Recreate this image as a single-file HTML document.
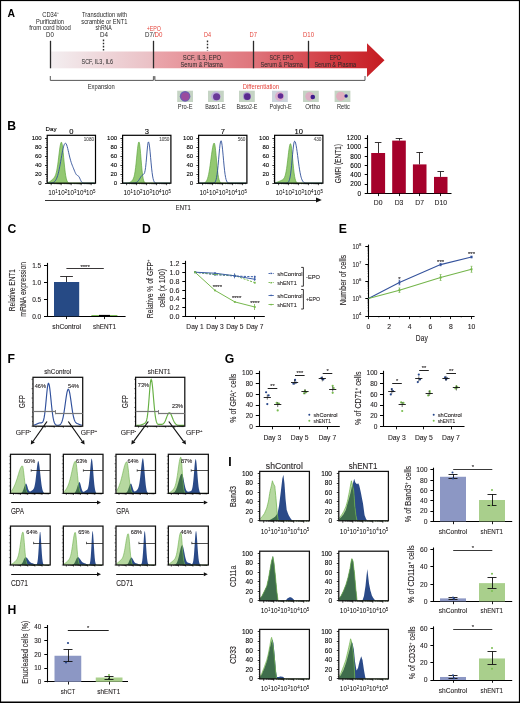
<!DOCTYPE html>
<html><head><meta charset="utf-8"><style>
html,body{margin:0;padding:0;background:#fff;}
svg{display:block;will-change:transform;}
text{font-family:"Liberation Sans", sans-serif;}
</style></head><body>
<svg width="520" height="703" viewBox="0 0 520 703">
<rect x="0" y="0" width="520" height="703" fill="#fff"/>
<text x="11.30" y="16.74" font-size="10.4" text-anchor="middle" fill="#000" font-weight="bold" >A</text>
<text transform="translate(50.60 16.81) scale(0.8799 1)" font-size="6.6" text-anchor="middle" fill="#262626" >CD34<tspan font-size="3.8" dy="-2.4">+</tspan></text>
<text transform="translate(50.00 23.51) scale(0.8577 1)" font-size="6.6" text-anchor="middle" fill="#262626" >Purification</text>
<text transform="translate(50.10 30.31) scale(0.9116 1)" font-size="6.6" text-anchor="middle" fill="#262626" >from cord blood</text>
<text transform="translate(49.90 37.01) scale(0.9245 1)" font-size="6.6" text-anchor="middle" fill="#262626" >D0</text>
<text transform="translate(104.50 16.81) scale(0.8742 1)" font-size="6.6" text-anchor="middle" fill="#262626" >Transduction with</text>
<text transform="translate(104.35 23.51) scale(0.8707 1)" font-size="6.6" text-anchor="middle" fill="#262626" >scramble or ENT1</text>
<text transform="translate(103.60 30.31) scale(0.7773 1)" font-size="6.6" text-anchor="middle" fill="#262626" >shRNA</text>
<text transform="translate(104.00 37.01) scale(0.9482 1)" font-size="6.6" text-anchor="middle" fill="#262626" >D4</text>
<text transform="translate(153.85 30.91) scale(0.8037 1)" font-size="6.6" text-anchor="middle" fill="#e4443b" >+EPO</text>
<text transform="translate(153.75 37.01) scale(0.9355 1)" font-size="6.6" text-anchor="middle" fill="#262626" >D7/<tspan fill="#e4443b">D0</tspan></text>
<text transform="translate(207.50 37.01) scale(0.8297 1)" font-size="6.6" text-anchor="middle" fill="#e4443b" >D4</text>
<text transform="translate(253.30 37.01) scale(0.8771 1)" font-size="6.6" text-anchor="middle" fill="#e4443b" >D7</text>
<text transform="translate(308.50 37.01) scale(0.9086 1)" font-size="6.6" text-anchor="middle" fill="#e4443b" >D10</text>
<defs>
<linearGradient id="g1" x1="0" x2="1" y1="0" y2="0">
<stop offset="0" stop-color="#f3eef0"/><stop offset="1" stop-color="#eabfc4"/></linearGradient>
<linearGradient id="g2" x1="154" x2="385" y1="0" y2="0" gradientUnits="userSpaceOnUse">
<stop offset="0" stop-color="#eaa6ac"/><stop offset="0.42" stop-color="#df767d"/><stop offset="0.66" stop-color="#d64c53"/><stop offset="0.92" stop-color="#c9262c"/><stop offset="1" stop-color="#c41a20"/></linearGradient>
</defs>
<rect x="51.00" y="51.50" width="103.00" height="16.80" fill="url(#g1)" />
<path d="M154,51.5 L367,51.5 L367,43.3 L384.5,60.2 L367,77 L367,68.3 L154,68.3 Z" fill="url(#g2)" stroke="none" stroke-width="1" />
<line x1="50.50" y1="40.80" x2="50.50" y2="68.30" stroke="#2b2b2b" stroke-width="1.3" />
<line x1="153.50" y1="40.80" x2="153.50" y2="68.30" stroke="#2b2b2b" stroke-width="1.3" />
<line x1="253.50" y1="40.80" x2="253.50" y2="68.30" stroke="#2b2b2b" stroke-width="1.3" />
<line x1="308.50" y1="40.80" x2="308.50" y2="68.30" stroke="#2b2b2b" stroke-width="1.3" />
<line x1="103.50" y1="39.60" x2="103.50" y2="50.50" stroke="#2b2b2b" stroke-width="1.4" stroke-dasharray="1.6 1.5"/>
<line x1="207.50" y1="40.60" x2="207.50" y2="50.50" stroke="#2b2b2b" stroke-width="1.4" stroke-dasharray="1.6 1.5"/>
<text transform="translate(97.25 63.74) scale(0.8515 1)" font-size="6.4" text-anchor="middle" fill="#262626" >SCF, IL3, IL6</text>
<text transform="translate(202.00 59.94) scale(0.9251 1)" font-size="6.4" text-anchor="middle" fill="#262626" >SCF, IL3, EPO</text>
<text transform="translate(201.70 66.64) scale(0.8852 1)" font-size="6.4" text-anchor="middle" fill="#262626" >Serum &amp; Plasma</text>
<text transform="translate(281.60 59.94) scale(0.8264 1)" font-size="6.4" text-anchor="middle" fill="#262626" >SCF, EPO</text>
<text transform="translate(281.60 66.64) scale(0.8852 1)" font-size="6.4" text-anchor="middle" fill="#262626" >Serum &amp; Plasma</text>
<text transform="translate(335.40 59.94) scale(0.8286 1)" font-size="6.4" text-anchor="middle" fill="#262626" >EPO</text>
<text transform="translate(335.30 66.64) scale(0.8706 1)" font-size="6.4" text-anchor="middle" fill="#262626" >Serum &amp; Plasma</text>
<path d="M50.3,76 L50.3,80.4 L153.4,80.4 L153.4,76.2" fill="none" stroke="#444" stroke-width="0.9" />
<path d="M154.9,76.2 L154.9,80.4 L365,80.4 L365,76" fill="none" stroke="#444" stroke-width="0.9" />
<rect x="153.40" y="76.20" width="1.50" height="2.60" fill="#777" />
<text transform="translate(101.25 88.54) scale(0.9068 1)" font-size="6.4" text-anchor="middle" fill="#262626" >Expansion</text>
<text transform="translate(260.85 88.54) scale(0.9220 1)" font-size="6.4" text-anchor="middle" fill="#e4443b" >Differentiation</text>
<rect x="177.20" y="90.70" width="15.80" height="11.30" fill="#c5d4c4" />
<circle cx="185.1" cy="96.35" r="5.3" fill="#6b5fb2"/><circle cx="185.29999999999998" cy="96.55" r="4.0" fill="#9a4c9e"/>
<text transform="translate(185.15 109.41) scale(0.8714 1)" font-size="6.6" text-anchor="middle" fill="#262626" >Pro-E</text>
<rect x="208.00" y="90.70" width="15.80" height="11.30" fill="#c5d4c4" />
<circle cx="215.9" cy="96.35" r="4.8" fill="#c0b2dc"/><circle cx="216.6" cy="96.75" r="3.6" fill="#6a3a98"/>
<text transform="translate(215.40 109.41) scale(0.8138 1)" font-size="6.6" text-anchor="middle" fill="#262626" >Baso1-E</text>
<rect x="239.00" y="90.70" width="15.80" height="11.30" fill="#c5d4c4" />
<circle cx="246.9" cy="96.35" r="4.0" fill="#a898cc"/><circle cx="247.3" cy="96.64999999999999" r="3.3" fill="#5a2a8e"/>
<text transform="translate(247.00 109.41) scale(0.8217 1)" font-size="6.6" text-anchor="middle" fill="#262626" >Baso2-E</text>
<rect x="272.00" y="90.70" width="15.80" height="11.30" fill="#ccd4dc" />
<circle cx="279.59999999999997" cy="96.35" r="4.6" fill="#dcb0cc"/><circle cx="280.5" cy="95.94999999999999" r="2.8" fill="#5f2c94"/>
<text transform="translate(280.65 109.41) scale(0.8368 1)" font-size="6.6" text-anchor="middle" fill="#262626" >Polych-E</text>
<rect x="303.00" y="90.70" width="15.80" height="11.30" fill="#c5d4c4" />
<circle cx="309.7" cy="96.35" r="4.4" fill="#dcafc4"/><circle cx="312.79999999999995" cy="96.94999999999999" r="2.3" fill="#3f1d8c"/>
<text transform="translate(312.70 109.41) scale(0.9088 1)" font-size="6.6" text-anchor="middle" fill="#262626" >Ortho</text>
<rect x="334.60" y="90.70" width="15.80" height="11.30" fill="#c5d4c4" />
<circle cx="340.7" cy="96.35" r="4.6" fill="#e0aebe"/><circle cx="346.1" cy="96.05" r="1.7" fill="#2a1a86"/>
<text transform="translate(343.35 109.41) scale(0.8579 1)" font-size="6.6" text-anchor="middle" fill="#262626" >Retic</text>
<text x="11.65" y="130.17" font-size="12.2" text-anchor="middle" fill="#000" font-weight="bold" >B</text>
<text x="51.00" y="130.67" font-size="6.2" text-anchor="middle" fill="#000" stroke="#000" stroke-width="0.1" >Day</text>
<path d="M47.70,183.20 L47.70,182.57 L48.20,182.39 L48.70,182.17 L49.20,181.92 L49.70,181.63 L50.20,181.30 L50.70,180.94 L51.20,180.54 L51.70,180.12 L52.20,179.68 L52.70,179.21 L53.20,178.72 L53.70,178.17 L54.20,177.54 L54.70,176.78 L55.20,175.82 L55.70,174.56 L56.20,172.92 L56.70,170.79 L57.20,168.11 L57.70,164.88 L58.20,161.17 L58.70,157.11 L59.20,152.98 L59.70,149.08 L60.20,145.77 L60.70,143.41 L61.20,142.26 L61.70,142.51 L62.20,144.46 L62.70,147.94 L63.20,152.55 L63.70,157.75 L64.20,163.02 L64.70,167.92 L65.20,172.16 L65.70,175.58 L66.20,178.17 L66.70,180.03 L67.20,181.29 L67.70,182.10 L68.20,182.59 L68.70,182.88 L69.20,183.03 L69.70,183.12 L70.20,183.16 L70.70,183.18 L71.20,183.19 L71.70,183.20 L72.20,183.20 L72.70,183.20 L73.20,183.20 L73.70,183.20 L74.20,183.20 L74.70,183.20 L75.20,183.20 L75.70,183.20 L76.20,183.20 L76.70,183.20 L77.20,183.20 L77.70,183.20 L78.20,183.20 L78.70,183.20 L79.20,183.20 L79.70,183.20 L80.20,183.20 L80.70,183.20 L81.20,183.20 L81.70,183.20 L82.20,183.20 L82.70,183.20 L83.20,183.20 L83.70,183.20 L84.20,183.20 L84.70,183.20 L85.20,183.20 L85.70,183.20 L86.20,183.20 L86.70,183.20 L87.20,183.20 L87.70,183.20 L88.20,183.20 L88.70,183.20 L89.20,183.20 L89.70,183.20 L90.20,183.20 L90.70,183.20 L91.20,183.20 L91.70,183.20 L92.20,183.20 L92.70,183.20 L93.20,183.20 L93.70,183.20 L94.20,183.20 L94.70,183.20 L94.70,183.20 Z" fill="#93c872" stroke="#5ea63e" stroke-width="0.7" />
<path d="M47.70,183.19 L48.20,183.19 L48.70,183.18 L49.20,183.17 L49.70,183.16 L50.20,183.14 L50.70,183.11 L51.20,183.06 L51.70,182.99 L52.20,182.89 L52.70,182.76 L53.20,182.57 L53.70,182.32 L54.20,181.99 L54.70,181.55 L55.20,180.99 L55.70,180.28 L56.20,179.40 L56.70,178.31 L57.20,177.01 L57.70,175.46 L58.20,173.67 L58.70,171.63 L59.20,169.35 L59.70,166.85 L60.20,164.17 L60.70,161.36 L61.20,158.50 L61.70,155.65 L62.20,152.90 L62.70,150.34 L63.20,148.07 L63.70,146.16 L64.20,144.68 L64.70,143.69 L65.20,143.22 L65.70,143.28 L66.20,143.90 L66.70,145.03 L67.20,146.57 L67.70,148.44 L68.20,150.53 L68.70,152.72 L69.20,154.91 L69.70,157.02 L70.20,158.99 L70.70,160.78 L71.20,162.39 L71.70,163.83 L72.20,165.16 L72.70,166.42 L73.20,167.64 L73.70,168.86 L74.20,170.10 L74.70,171.34 L75.20,172.51 L75.70,173.55 L76.20,174.39 L76.70,174.97 L77.20,175.33 L77.70,175.57 L78.20,175.85 L78.70,176.33 L79.20,177.09 L79.70,178.11 L80.20,179.26 L80.70,180.38 L81.20,181.35 L81.70,182.08 L82.20,182.57 L82.70,182.87 L83.20,183.04 L83.70,183.13 L84.20,183.17 L84.70,183.19 L85.20,183.19 L85.70,183.20 L86.20,183.20 L86.70,183.20 L87.20,183.20 L87.70,183.20 L88.20,183.20 L88.70,183.20 L89.20,183.20 L89.70,183.20 L90.20,183.20 L90.70,183.20 L91.20,183.20 L91.70,183.20 L92.20,183.20 L92.70,183.20 L93.20,183.20 L93.70,183.20 L94.20,183.20 L94.70,183.20" fill="none" stroke="#2f4f98" stroke-width="0.9" />
<rect x="47.20" y="135.30" width="48.30" height="47.90" fill="none" stroke="#000" stroke-width="1.2"/>
<line x1="45.00" y1="183.50" x2="47.20" y2="183.50" stroke="#000" stroke-width="0.8" />
<text x="41.70" y="185.30" font-size="6.0" text-anchor="end" fill="#000" stroke="#000" stroke-width="0.1" >0</text>
<line x1="46.00" y1="180.94" x2="47.20" y2="180.94" stroke="#000" stroke-width="0.5" />
<line x1="46.00" y1="178.68" x2="47.20" y2="178.68" stroke="#000" stroke-width="0.5" />
<line x1="46.00" y1="176.42" x2="47.20" y2="176.42" stroke="#000" stroke-width="0.5" />
<line x1="45.00" y1="174.50" x2="47.20" y2="174.50" stroke="#000" stroke-width="0.8" />
<text x="41.70" y="176.26" font-size="6.0" text-anchor="end" fill="#000" stroke="#000" stroke-width="0.1" >20</text>
<line x1="46.00" y1="171.90" x2="47.20" y2="171.90" stroke="#000" stroke-width="0.5" />
<line x1="46.00" y1="169.64" x2="47.20" y2="169.64" stroke="#000" stroke-width="0.5" />
<line x1="46.00" y1="167.38" x2="47.20" y2="167.38" stroke="#000" stroke-width="0.5" />
<line x1="45.00" y1="165.50" x2="47.20" y2="165.50" stroke="#000" stroke-width="0.8" />
<text x="41.70" y="167.22" font-size="6.0" text-anchor="end" fill="#000" stroke="#000" stroke-width="0.1" >40</text>
<line x1="46.00" y1="162.86" x2="47.20" y2="162.86" stroke="#000" stroke-width="0.5" />
<line x1="46.00" y1="160.60" x2="47.20" y2="160.60" stroke="#000" stroke-width="0.5" />
<line x1="46.00" y1="158.34" x2="47.20" y2="158.34" stroke="#000" stroke-width="0.5" />
<line x1="45.00" y1="156.50" x2="47.20" y2="156.50" stroke="#000" stroke-width="0.8" />
<text x="41.70" y="158.18" font-size="6.0" text-anchor="end" fill="#000" stroke="#000" stroke-width="0.1" >60</text>
<line x1="46.00" y1="153.82" x2="47.20" y2="153.82" stroke="#000" stroke-width="0.5" />
<line x1="46.00" y1="151.56" x2="47.20" y2="151.56" stroke="#000" stroke-width="0.5" />
<line x1="46.00" y1="149.30" x2="47.20" y2="149.30" stroke="#000" stroke-width="0.5" />
<line x1="45.00" y1="147.50" x2="47.20" y2="147.50" stroke="#000" stroke-width="0.8" />
<text x="41.70" y="149.14" font-size="6.0" text-anchor="end" fill="#000" stroke="#000" stroke-width="0.1" >80</text>
<line x1="46.00" y1="144.78" x2="47.20" y2="144.78" stroke="#000" stroke-width="0.5" />
<line x1="46.00" y1="142.52" x2="47.20" y2="142.52" stroke="#000" stroke-width="0.5" />
<line x1="46.00" y1="140.26" x2="47.20" y2="140.26" stroke="#000" stroke-width="0.5" />
<line x1="45.00" y1="138.50" x2="47.20" y2="138.50" stroke="#000" stroke-width="0.8" />
<text x="41.70" y="140.10" font-size="6.0" text-anchor="end" fill="#000" stroke="#000" stroke-width="0.1" >100</text>
<line x1="51.20" y1="183.20" x2="51.20" y2="185.20" stroke="#000" stroke-width="0.7" />
<line x1="54.21" y1="183.20" x2="54.21" y2="184.30" stroke="#000" stroke-width="0.45" />
<line x1="55.97" y1="183.20" x2="55.97" y2="184.30" stroke="#000" stroke-width="0.45" />
<line x1="57.22" y1="183.20" x2="57.22" y2="184.30" stroke="#000" stroke-width="0.45" />
<line x1="58.19" y1="183.20" x2="58.19" y2="184.30" stroke="#000" stroke-width="0.45" />
<line x1="58.98" y1="183.20" x2="58.98" y2="184.30" stroke="#000" stroke-width="0.45" />
<line x1="59.65" y1="183.20" x2="59.65" y2="184.30" stroke="#000" stroke-width="0.45" />
<line x1="60.23" y1="183.20" x2="60.23" y2="184.30" stroke="#000" stroke-width="0.45" />
<line x1="60.74" y1="183.20" x2="60.74" y2="184.30" stroke="#000" stroke-width="0.45" />
<line x1="61.20" y1="183.20" x2="61.20" y2="185.20" stroke="#000" stroke-width="0.7" />
<line x1="64.21" y1="183.20" x2="64.21" y2="184.30" stroke="#000" stroke-width="0.45" />
<line x1="65.97" y1="183.20" x2="65.97" y2="184.30" stroke="#000" stroke-width="0.45" />
<line x1="67.22" y1="183.20" x2="67.22" y2="184.30" stroke="#000" stroke-width="0.45" />
<line x1="68.19" y1="183.20" x2="68.19" y2="184.30" stroke="#000" stroke-width="0.45" />
<line x1="68.98" y1="183.20" x2="68.98" y2="184.30" stroke="#000" stroke-width="0.45" />
<line x1="69.65" y1="183.20" x2="69.65" y2="184.30" stroke="#000" stroke-width="0.45" />
<line x1="70.23" y1="183.20" x2="70.23" y2="184.30" stroke="#000" stroke-width="0.45" />
<line x1="70.74" y1="183.20" x2="70.74" y2="184.30" stroke="#000" stroke-width="0.45" />
<line x1="71.20" y1="183.20" x2="71.20" y2="185.20" stroke="#000" stroke-width="0.7" />
<line x1="74.21" y1="183.20" x2="74.21" y2="184.30" stroke="#000" stroke-width="0.45" />
<line x1="75.97" y1="183.20" x2="75.97" y2="184.30" stroke="#000" stroke-width="0.45" />
<line x1="77.22" y1="183.20" x2="77.22" y2="184.30" stroke="#000" stroke-width="0.45" />
<line x1="78.19" y1="183.20" x2="78.19" y2="184.30" stroke="#000" stroke-width="0.45" />
<line x1="78.98" y1="183.20" x2="78.98" y2="184.30" stroke="#000" stroke-width="0.45" />
<line x1="79.65" y1="183.20" x2="79.65" y2="184.30" stroke="#000" stroke-width="0.45" />
<line x1="80.23" y1="183.20" x2="80.23" y2="184.30" stroke="#000" stroke-width="0.45" />
<line x1="80.74" y1="183.20" x2="80.74" y2="184.30" stroke="#000" stroke-width="0.45" />
<line x1="81.20" y1="183.20" x2="81.20" y2="185.20" stroke="#000" stroke-width="0.7" />
<line x1="84.21" y1="183.20" x2="84.21" y2="184.30" stroke="#000" stroke-width="0.45" />
<line x1="85.97" y1="183.20" x2="85.97" y2="184.30" stroke="#000" stroke-width="0.45" />
<line x1="87.22" y1="183.20" x2="87.22" y2="184.30" stroke="#000" stroke-width="0.45" />
<line x1="88.19" y1="183.20" x2="88.19" y2="184.30" stroke="#000" stroke-width="0.45" />
<line x1="88.98" y1="183.20" x2="88.98" y2="184.30" stroke="#000" stroke-width="0.45" />
<line x1="89.65" y1="183.20" x2="89.65" y2="184.30" stroke="#000" stroke-width="0.45" />
<line x1="90.23" y1="183.20" x2="90.23" y2="184.30" stroke="#000" stroke-width="0.45" />
<line x1="90.74" y1="183.20" x2="90.74" y2="184.30" stroke="#000" stroke-width="0.45" />
<line x1="91.20" y1="183.20" x2="91.20" y2="185.20" stroke="#000" stroke-width="0.7" />
<line x1="94.21" y1="183.20" x2="94.21" y2="184.30" stroke="#000" stroke-width="0.45" />
<text x="48.20" y="195.38" font-size="6.8" fill="#000" textLength="7.00" lengthAdjust="spacingAndGlyphs">10</text>
<text x="55.20" y="192.50" font-size="4.49" fill="#000">1</text>
<text x="57.66" y="195.38" font-size="6.8" fill="#000" textLength="7.00" lengthAdjust="spacingAndGlyphs">10</text>
<text x="64.66" y="192.50" font-size="4.49" fill="#000">2</text>
<text x="67.12" y="195.38" font-size="6.8" fill="#000" textLength="7.00" lengthAdjust="spacingAndGlyphs">10</text>
<text x="74.12" y="192.50" font-size="4.49" fill="#000">3</text>
<text x="76.58" y="195.38" font-size="6.8" fill="#000" textLength="7.00" lengthAdjust="spacingAndGlyphs">10</text>
<text x="83.58" y="192.50" font-size="4.49" fill="#000">4</text>
<text x="86.04" y="195.38" font-size="6.8" fill="#000" textLength="7.00" lengthAdjust="spacingAndGlyphs">10</text>
<text x="93.04" y="192.50" font-size="4.49" fill="#000">5</text>
<text x="94.00" y="141.21" font-size="4.6" text-anchor="end" fill="#555" stroke="#555" stroke-width="0.1" >1080</text>
<text x="71.35" y="133.66" font-size="7.6" text-anchor="middle" fill="#000" stroke="#000" stroke-width="0.1" >0</text>
<path d="M123.10,183.20 L123.10,183.20 L123.60,183.20 L124.10,183.20 L124.60,183.19 L125.10,183.18 L125.60,183.17 L126.10,183.16 L126.60,183.13 L127.10,183.09 L127.60,183.03 L128.10,182.94 L128.60,182.83 L129.10,182.68 L129.60,182.48 L130.10,182.24 L130.60,181.94 L131.10,181.58 L131.60,181.16 L132.10,180.64 L132.60,180.00 L133.10,179.15 L133.60,178.00 L134.10,176.41 L134.60,174.23 L135.10,171.32 L135.60,167.61 L136.10,163.13 L136.60,158.13 L137.10,152.98 L137.60,148.23 L138.10,144.50 L138.60,142.32 L139.10,142.05 L139.60,144.06 L140.10,148.15 L140.60,153.68 L141.10,159.82 L141.60,165.79 L142.10,171.01 L142.60,175.18 L143.10,178.24 L143.60,180.32 L144.10,181.62 L144.60,182.39 L145.10,182.81 L145.60,183.02 L146.10,183.12 L146.60,183.17 L147.10,183.19 L147.60,183.20 L148.10,183.20 L148.60,183.20 L149.10,183.20 L149.60,183.20 L150.10,183.20 L150.60,183.20 L151.10,183.20 L151.60,183.20 L152.10,183.20 L152.60,183.20 L153.10,183.20 L153.60,183.20 L154.10,183.20 L154.60,183.20 L155.10,183.20 L155.60,183.20 L156.10,183.20 L156.60,183.20 L157.10,183.20 L157.60,183.20 L158.10,183.20 L158.60,183.20 L159.10,183.20 L159.60,183.20 L160.10,183.20 L160.60,183.20 L161.10,183.20 L161.60,183.20 L162.10,183.20 L162.60,183.20 L163.10,183.20 L163.60,183.20 L164.10,183.20 L164.60,183.20 L165.10,183.20 L165.60,183.20 L166.10,183.20 L166.60,183.20 L167.10,183.20 L167.60,183.20 L168.10,183.20 L168.60,183.20 L169.10,183.20 L169.60,183.20 L170.10,183.20 L170.10,183.20 Z" fill="#93c872" stroke="#5ea63e" stroke-width="0.7" />
<path d="M123.10,183.20 L123.60,183.20 L124.10,183.20 L124.60,183.20 L125.10,183.20 L125.60,183.20 L126.10,183.20 L126.60,183.20 L127.10,183.20 L127.60,183.20 L128.10,183.20 L128.60,183.20 L129.10,183.20 L129.60,183.20 L130.10,183.20 L130.60,183.20 L131.10,183.20 L131.60,183.19 L132.10,183.19 L132.60,183.18 L133.10,183.16 L133.60,183.14 L134.10,183.10 L134.60,183.04 L135.10,182.95 L135.60,182.81 L136.10,182.62 L136.60,182.36 L137.10,182.02 L137.60,181.59 L138.10,181.06 L138.60,180.42 L139.10,179.71 L139.60,178.92 L140.10,178.10 L140.60,177.29 L141.10,176.53 L141.60,175.88 L142.10,175.35 L142.60,174.95 L143.10,174.62 L143.60,174.29 L144.10,173.76 L144.60,172.68 L145.10,170.65 L145.60,167.35 L146.10,162.70 L146.60,157.01 L147.10,151.02 L147.60,145.80 L148.10,142.50 L148.60,141.90 L149.10,143.59 L149.60,147.05 L150.10,151.83 L150.60,157.33 L151.10,162.92 L151.60,168.10 L152.10,172.52 L152.60,176.03 L153.10,178.63 L153.60,180.43 L154.10,181.61 L154.60,182.33 L155.10,182.75 L155.60,182.98 L156.10,183.10 L156.60,183.15 L157.10,183.18 L157.60,183.19 L158.10,183.20 L158.60,183.20 L159.10,183.20 L159.60,183.20 L160.10,183.20 L160.60,183.20 L161.10,183.20 L161.60,183.20 L162.10,183.20 L162.60,183.20 L163.10,183.20 L163.60,183.20 L164.10,183.20 L164.60,183.20 L165.10,183.20 L165.60,183.20 L166.10,183.20 L166.60,183.20 L167.10,183.20 L167.60,183.20 L168.10,183.20 L168.60,183.20 L169.10,183.20 L169.60,183.20 L170.10,183.20" fill="none" stroke="#2f4f98" stroke-width="0.9" />
<rect x="122.60" y="135.30" width="48.30" height="47.90" fill="none" stroke="#000" stroke-width="1.2"/>
<line x1="120.40" y1="183.50" x2="122.60" y2="183.50" stroke="#000" stroke-width="0.8" />
<text x="117.10" y="185.30" font-size="6.0" text-anchor="end" fill="#000" stroke="#000" stroke-width="0.1" >0</text>
<line x1="121.40" y1="180.94" x2="122.60" y2="180.94" stroke="#000" stroke-width="0.5" />
<line x1="121.40" y1="178.68" x2="122.60" y2="178.68" stroke="#000" stroke-width="0.5" />
<line x1="121.40" y1="176.42" x2="122.60" y2="176.42" stroke="#000" stroke-width="0.5" />
<line x1="120.40" y1="174.50" x2="122.60" y2="174.50" stroke="#000" stroke-width="0.8" />
<text x="117.10" y="176.26" font-size="6.0" text-anchor="end" fill="#000" stroke="#000" stroke-width="0.1" >20</text>
<line x1="121.40" y1="171.90" x2="122.60" y2="171.90" stroke="#000" stroke-width="0.5" />
<line x1="121.40" y1="169.64" x2="122.60" y2="169.64" stroke="#000" stroke-width="0.5" />
<line x1="121.40" y1="167.38" x2="122.60" y2="167.38" stroke="#000" stroke-width="0.5" />
<line x1="120.40" y1="165.50" x2="122.60" y2="165.50" stroke="#000" stroke-width="0.8" />
<text x="117.10" y="167.22" font-size="6.0" text-anchor="end" fill="#000" stroke="#000" stroke-width="0.1" >40</text>
<line x1="121.40" y1="162.86" x2="122.60" y2="162.86" stroke="#000" stroke-width="0.5" />
<line x1="121.40" y1="160.60" x2="122.60" y2="160.60" stroke="#000" stroke-width="0.5" />
<line x1="121.40" y1="158.34" x2="122.60" y2="158.34" stroke="#000" stroke-width="0.5" />
<line x1="120.40" y1="156.50" x2="122.60" y2="156.50" stroke="#000" stroke-width="0.8" />
<text x="117.10" y="158.18" font-size="6.0" text-anchor="end" fill="#000" stroke="#000" stroke-width="0.1" >60</text>
<line x1="121.40" y1="153.82" x2="122.60" y2="153.82" stroke="#000" stroke-width="0.5" />
<line x1="121.40" y1="151.56" x2="122.60" y2="151.56" stroke="#000" stroke-width="0.5" />
<line x1="121.40" y1="149.30" x2="122.60" y2="149.30" stroke="#000" stroke-width="0.5" />
<line x1="120.40" y1="147.50" x2="122.60" y2="147.50" stroke="#000" stroke-width="0.8" />
<text x="117.10" y="149.14" font-size="6.0" text-anchor="end" fill="#000" stroke="#000" stroke-width="0.1" >80</text>
<line x1="121.40" y1="144.78" x2="122.60" y2="144.78" stroke="#000" stroke-width="0.5" />
<line x1="121.40" y1="142.52" x2="122.60" y2="142.52" stroke="#000" stroke-width="0.5" />
<line x1="121.40" y1="140.26" x2="122.60" y2="140.26" stroke="#000" stroke-width="0.5" />
<line x1="120.40" y1="138.50" x2="122.60" y2="138.50" stroke="#000" stroke-width="0.8" />
<text x="117.10" y="140.10" font-size="6.0" text-anchor="end" fill="#000" stroke="#000" stroke-width="0.1" >100</text>
<line x1="126.60" y1="183.20" x2="126.60" y2="185.20" stroke="#000" stroke-width="0.7" />
<line x1="129.61" y1="183.20" x2="129.61" y2="184.30" stroke="#000" stroke-width="0.45" />
<line x1="131.37" y1="183.20" x2="131.37" y2="184.30" stroke="#000" stroke-width="0.45" />
<line x1="132.62" y1="183.20" x2="132.62" y2="184.30" stroke="#000" stroke-width="0.45" />
<line x1="133.59" y1="183.20" x2="133.59" y2="184.30" stroke="#000" stroke-width="0.45" />
<line x1="134.38" y1="183.20" x2="134.38" y2="184.30" stroke="#000" stroke-width="0.45" />
<line x1="135.05" y1="183.20" x2="135.05" y2="184.30" stroke="#000" stroke-width="0.45" />
<line x1="135.63" y1="183.20" x2="135.63" y2="184.30" stroke="#000" stroke-width="0.45" />
<line x1="136.14" y1="183.20" x2="136.14" y2="184.30" stroke="#000" stroke-width="0.45" />
<line x1="136.60" y1="183.20" x2="136.60" y2="185.20" stroke="#000" stroke-width="0.7" />
<line x1="139.61" y1="183.20" x2="139.61" y2="184.30" stroke="#000" stroke-width="0.45" />
<line x1="141.37" y1="183.20" x2="141.37" y2="184.30" stroke="#000" stroke-width="0.45" />
<line x1="142.62" y1="183.20" x2="142.62" y2="184.30" stroke="#000" stroke-width="0.45" />
<line x1="143.59" y1="183.20" x2="143.59" y2="184.30" stroke="#000" stroke-width="0.45" />
<line x1="144.38" y1="183.20" x2="144.38" y2="184.30" stroke="#000" stroke-width="0.45" />
<line x1="145.05" y1="183.20" x2="145.05" y2="184.30" stroke="#000" stroke-width="0.45" />
<line x1="145.63" y1="183.20" x2="145.63" y2="184.30" stroke="#000" stroke-width="0.45" />
<line x1="146.14" y1="183.20" x2="146.14" y2="184.30" stroke="#000" stroke-width="0.45" />
<line x1="146.60" y1="183.20" x2="146.60" y2="185.20" stroke="#000" stroke-width="0.7" />
<line x1="149.61" y1="183.20" x2="149.61" y2="184.30" stroke="#000" stroke-width="0.45" />
<line x1="151.37" y1="183.20" x2="151.37" y2="184.30" stroke="#000" stroke-width="0.45" />
<line x1="152.62" y1="183.20" x2="152.62" y2="184.30" stroke="#000" stroke-width="0.45" />
<line x1="153.59" y1="183.20" x2="153.59" y2="184.30" stroke="#000" stroke-width="0.45" />
<line x1="154.38" y1="183.20" x2="154.38" y2="184.30" stroke="#000" stroke-width="0.45" />
<line x1="155.05" y1="183.20" x2="155.05" y2="184.30" stroke="#000" stroke-width="0.45" />
<line x1="155.63" y1="183.20" x2="155.63" y2="184.30" stroke="#000" stroke-width="0.45" />
<line x1="156.14" y1="183.20" x2="156.14" y2="184.30" stroke="#000" stroke-width="0.45" />
<line x1="156.60" y1="183.20" x2="156.60" y2="185.20" stroke="#000" stroke-width="0.7" />
<line x1="159.61" y1="183.20" x2="159.61" y2="184.30" stroke="#000" stroke-width="0.45" />
<line x1="161.37" y1="183.20" x2="161.37" y2="184.30" stroke="#000" stroke-width="0.45" />
<line x1="162.62" y1="183.20" x2="162.62" y2="184.30" stroke="#000" stroke-width="0.45" />
<line x1="163.59" y1="183.20" x2="163.59" y2="184.30" stroke="#000" stroke-width="0.45" />
<line x1="164.38" y1="183.20" x2="164.38" y2="184.30" stroke="#000" stroke-width="0.45" />
<line x1="165.05" y1="183.20" x2="165.05" y2="184.30" stroke="#000" stroke-width="0.45" />
<line x1="165.63" y1="183.20" x2="165.63" y2="184.30" stroke="#000" stroke-width="0.45" />
<line x1="166.14" y1="183.20" x2="166.14" y2="184.30" stroke="#000" stroke-width="0.45" />
<line x1="166.60" y1="183.20" x2="166.60" y2="185.20" stroke="#000" stroke-width="0.7" />
<line x1="169.61" y1="183.20" x2="169.61" y2="184.30" stroke="#000" stroke-width="0.45" />
<text x="123.60" y="195.38" font-size="6.8" fill="#000" textLength="7.00" lengthAdjust="spacingAndGlyphs">10</text>
<text x="130.60" y="192.50" font-size="4.49" fill="#000">1</text>
<text x="133.06" y="195.38" font-size="6.8" fill="#000" textLength="7.00" lengthAdjust="spacingAndGlyphs">10</text>
<text x="140.06" y="192.50" font-size="4.49" fill="#000">2</text>
<text x="142.52" y="195.38" font-size="6.8" fill="#000" textLength="7.00" lengthAdjust="spacingAndGlyphs">10</text>
<text x="149.52" y="192.50" font-size="4.49" fill="#000">3</text>
<text x="151.98" y="195.38" font-size="6.8" fill="#000" textLength="7.00" lengthAdjust="spacingAndGlyphs">10</text>
<text x="158.98" y="192.50" font-size="4.49" fill="#000">4</text>
<text x="161.44" y="195.38" font-size="6.8" fill="#000" textLength="7.00" lengthAdjust="spacingAndGlyphs">10</text>
<text x="168.44" y="192.50" font-size="4.49" fill="#000">5</text>
<text x="169.40" y="141.21" font-size="4.6" text-anchor="end" fill="#555" stroke="#555" stroke-width="0.1" >1050</text>
<text x="146.75" y="133.66" font-size="7.6" text-anchor="middle" fill="#000" stroke="#000" stroke-width="0.1" >3</text>
<path d="M199.10,183.20 L199.10,183.20 L199.60,183.20 L200.10,183.20 L200.60,183.20 L201.10,183.19 L201.60,183.18 L202.10,183.17 L202.60,183.14 L203.10,183.10 L203.60,183.03 L204.10,182.92 L204.60,182.75 L205.10,182.49 L205.60,182.11 L206.10,181.57 L206.60,180.80 L207.10,179.77 L207.60,178.40 L208.10,176.66 L208.60,174.50 L209.10,171.90 L209.60,168.88 L210.10,165.50 L210.60,161.84 L211.10,158.04 L211.60,154.28 L212.10,150.77 L212.60,147.70 L213.10,145.28 L213.60,143.67 L214.10,142.99 L214.60,143.63 L215.10,146.20 L215.60,150.35 L216.10,155.49 L216.60,161.01 L217.10,166.33 L217.60,171.01 L218.10,174.84 L218.60,177.76 L219.10,179.83 L219.60,181.22 L220.10,182.10 L220.60,182.62 L221.10,182.91 L221.60,183.06 L222.10,183.14 L222.60,183.17 L223.10,183.19 L223.60,183.20 L224.10,183.20 L224.60,183.20 L225.10,183.20 L225.60,183.20 L226.10,183.20 L226.60,183.20 L227.10,183.20 L227.60,183.20 L228.10,183.20 L228.60,183.20 L229.10,183.20 L229.60,183.20 L230.10,183.20 L230.60,183.20 L231.10,183.20 L231.60,183.20 L232.10,183.20 L232.60,183.20 L233.10,183.20 L233.60,183.20 L234.10,183.20 L234.60,183.20 L235.10,183.20 L235.60,183.20 L236.10,183.20 L236.60,183.20 L237.10,183.20 L237.60,183.20 L238.10,183.20 L238.60,183.20 L239.10,183.20 L239.60,183.20 L240.10,183.20 L240.60,183.20 L241.10,183.20 L241.60,183.20 L242.10,183.20 L242.60,183.20 L243.10,183.20 L243.60,183.20 L244.10,183.20 L244.60,183.20 L245.10,183.20 L245.60,183.20 L246.10,183.20 L246.10,183.20 Z" fill="#93c872" stroke="#5ea63e" stroke-width="0.7" />
<path d="M199.10,183.20 L199.60,183.20 L200.10,183.20 L200.60,183.20 L201.10,183.20 L201.60,183.20 L202.10,183.20 L202.60,183.20 L203.10,183.20 L203.60,183.20 L204.10,183.20 L204.60,183.20 L205.10,183.20 L205.60,183.20 L206.10,183.20 L206.60,183.20 L207.10,183.20 L207.60,183.20 L208.10,183.20 L208.60,183.20 L209.10,183.20 L209.60,183.20 L210.10,183.20 L210.60,183.20 L211.10,183.20 L211.60,183.20 L212.10,183.19 L212.60,183.17 L213.10,183.13 L213.60,183.05 L214.10,182.89 L214.60,182.58 L215.10,182.03 L215.60,181.11 L216.10,179.64 L216.60,177.45 L217.10,174.37 L217.60,170.33 L218.10,165.38 L218.60,159.77 L219.10,153.94 L219.60,148.50 L220.10,144.12 L220.60,141.41 L221.10,140.75 L221.60,142.13 L222.10,145.30 L222.60,149.84 L223.10,155.19 L223.60,160.77 L224.10,166.07 L224.60,170.72 L225.10,174.53 L225.60,177.45 L226.10,179.56 L226.60,181.01 L227.10,181.94 L227.60,182.51 L228.10,182.84 L228.60,183.02 L229.10,183.11 L229.60,183.16 L230.10,183.18 L230.60,183.19 L231.10,183.20 L231.60,183.20 L232.10,183.20 L232.60,183.20 L233.10,183.20 L233.60,183.20 L234.10,183.20 L234.60,183.20 L235.10,183.20 L235.60,183.20 L236.10,183.20 L236.60,183.20 L237.10,183.20 L237.60,183.20 L238.10,183.20 L238.60,183.20 L239.10,183.20 L239.60,183.20 L240.10,183.20 L240.60,183.20 L241.10,183.20 L241.60,183.20 L242.10,183.20 L242.60,183.20 L243.10,183.20 L243.60,183.20 L244.10,183.20 L244.60,183.20 L245.10,183.20 L245.60,183.20 L246.10,183.20" fill="none" stroke="#2f4f98" stroke-width="0.9" />
<rect x="198.60" y="135.30" width="48.30" height="47.90" fill="none" stroke="#000" stroke-width="1.2"/>
<line x1="196.40" y1="183.50" x2="198.60" y2="183.50" stroke="#000" stroke-width="0.8" />
<text x="193.10" y="185.30" font-size="6.0" text-anchor="end" fill="#000" stroke="#000" stroke-width="0.1" >0</text>
<line x1="197.40" y1="180.94" x2="198.60" y2="180.94" stroke="#000" stroke-width="0.5" />
<line x1="197.40" y1="178.68" x2="198.60" y2="178.68" stroke="#000" stroke-width="0.5" />
<line x1="197.40" y1="176.42" x2="198.60" y2="176.42" stroke="#000" stroke-width="0.5" />
<line x1="196.40" y1="174.50" x2="198.60" y2="174.50" stroke="#000" stroke-width="0.8" />
<text x="193.10" y="176.26" font-size="6.0" text-anchor="end" fill="#000" stroke="#000" stroke-width="0.1" >20</text>
<line x1="197.40" y1="171.90" x2="198.60" y2="171.90" stroke="#000" stroke-width="0.5" />
<line x1="197.40" y1="169.64" x2="198.60" y2="169.64" stroke="#000" stroke-width="0.5" />
<line x1="197.40" y1="167.38" x2="198.60" y2="167.38" stroke="#000" stroke-width="0.5" />
<line x1="196.40" y1="165.50" x2="198.60" y2="165.50" stroke="#000" stroke-width="0.8" />
<text x="193.10" y="167.22" font-size="6.0" text-anchor="end" fill="#000" stroke="#000" stroke-width="0.1" >40</text>
<line x1="197.40" y1="162.86" x2="198.60" y2="162.86" stroke="#000" stroke-width="0.5" />
<line x1="197.40" y1="160.60" x2="198.60" y2="160.60" stroke="#000" stroke-width="0.5" />
<line x1="197.40" y1="158.34" x2="198.60" y2="158.34" stroke="#000" stroke-width="0.5" />
<line x1="196.40" y1="156.50" x2="198.60" y2="156.50" stroke="#000" stroke-width="0.8" />
<text x="193.10" y="158.18" font-size="6.0" text-anchor="end" fill="#000" stroke="#000" stroke-width="0.1" >60</text>
<line x1="197.40" y1="153.82" x2="198.60" y2="153.82" stroke="#000" stroke-width="0.5" />
<line x1="197.40" y1="151.56" x2="198.60" y2="151.56" stroke="#000" stroke-width="0.5" />
<line x1="197.40" y1="149.30" x2="198.60" y2="149.30" stroke="#000" stroke-width="0.5" />
<line x1="196.40" y1="147.50" x2="198.60" y2="147.50" stroke="#000" stroke-width="0.8" />
<text x="193.10" y="149.14" font-size="6.0" text-anchor="end" fill="#000" stroke="#000" stroke-width="0.1" >80</text>
<line x1="197.40" y1="144.78" x2="198.60" y2="144.78" stroke="#000" stroke-width="0.5" />
<line x1="197.40" y1="142.52" x2="198.60" y2="142.52" stroke="#000" stroke-width="0.5" />
<line x1="197.40" y1="140.26" x2="198.60" y2="140.26" stroke="#000" stroke-width="0.5" />
<line x1="196.40" y1="138.50" x2="198.60" y2="138.50" stroke="#000" stroke-width="0.8" />
<text x="193.10" y="140.10" font-size="6.0" text-anchor="end" fill="#000" stroke="#000" stroke-width="0.1" >100</text>
<line x1="202.60" y1="183.20" x2="202.60" y2="185.20" stroke="#000" stroke-width="0.7" />
<line x1="205.61" y1="183.20" x2="205.61" y2="184.30" stroke="#000" stroke-width="0.45" />
<line x1="207.37" y1="183.20" x2="207.37" y2="184.30" stroke="#000" stroke-width="0.45" />
<line x1="208.62" y1="183.20" x2="208.62" y2="184.30" stroke="#000" stroke-width="0.45" />
<line x1="209.59" y1="183.20" x2="209.59" y2="184.30" stroke="#000" stroke-width="0.45" />
<line x1="210.38" y1="183.20" x2="210.38" y2="184.30" stroke="#000" stroke-width="0.45" />
<line x1="211.05" y1="183.20" x2="211.05" y2="184.30" stroke="#000" stroke-width="0.45" />
<line x1="211.63" y1="183.20" x2="211.63" y2="184.30" stroke="#000" stroke-width="0.45" />
<line x1="212.14" y1="183.20" x2="212.14" y2="184.30" stroke="#000" stroke-width="0.45" />
<line x1="212.60" y1="183.20" x2="212.60" y2="185.20" stroke="#000" stroke-width="0.7" />
<line x1="215.61" y1="183.20" x2="215.61" y2="184.30" stroke="#000" stroke-width="0.45" />
<line x1="217.37" y1="183.20" x2="217.37" y2="184.30" stroke="#000" stroke-width="0.45" />
<line x1="218.62" y1="183.20" x2="218.62" y2="184.30" stroke="#000" stroke-width="0.45" />
<line x1="219.59" y1="183.20" x2="219.59" y2="184.30" stroke="#000" stroke-width="0.45" />
<line x1="220.38" y1="183.20" x2="220.38" y2="184.30" stroke="#000" stroke-width="0.45" />
<line x1="221.05" y1="183.20" x2="221.05" y2="184.30" stroke="#000" stroke-width="0.45" />
<line x1="221.63" y1="183.20" x2="221.63" y2="184.30" stroke="#000" stroke-width="0.45" />
<line x1="222.14" y1="183.20" x2="222.14" y2="184.30" stroke="#000" stroke-width="0.45" />
<line x1="222.60" y1="183.20" x2="222.60" y2="185.20" stroke="#000" stroke-width="0.7" />
<line x1="225.61" y1="183.20" x2="225.61" y2="184.30" stroke="#000" stroke-width="0.45" />
<line x1="227.37" y1="183.20" x2="227.37" y2="184.30" stroke="#000" stroke-width="0.45" />
<line x1="228.62" y1="183.20" x2="228.62" y2="184.30" stroke="#000" stroke-width="0.45" />
<line x1="229.59" y1="183.20" x2="229.59" y2="184.30" stroke="#000" stroke-width="0.45" />
<line x1="230.38" y1="183.20" x2="230.38" y2="184.30" stroke="#000" stroke-width="0.45" />
<line x1="231.05" y1="183.20" x2="231.05" y2="184.30" stroke="#000" stroke-width="0.45" />
<line x1="231.63" y1="183.20" x2="231.63" y2="184.30" stroke="#000" stroke-width="0.45" />
<line x1="232.14" y1="183.20" x2="232.14" y2="184.30" stroke="#000" stroke-width="0.45" />
<line x1="232.60" y1="183.20" x2="232.60" y2="185.20" stroke="#000" stroke-width="0.7" />
<line x1="235.61" y1="183.20" x2="235.61" y2="184.30" stroke="#000" stroke-width="0.45" />
<line x1="237.37" y1="183.20" x2="237.37" y2="184.30" stroke="#000" stroke-width="0.45" />
<line x1="238.62" y1="183.20" x2="238.62" y2="184.30" stroke="#000" stroke-width="0.45" />
<line x1="239.59" y1="183.20" x2="239.59" y2="184.30" stroke="#000" stroke-width="0.45" />
<line x1="240.38" y1="183.20" x2="240.38" y2="184.30" stroke="#000" stroke-width="0.45" />
<line x1="241.05" y1="183.20" x2="241.05" y2="184.30" stroke="#000" stroke-width="0.45" />
<line x1="241.63" y1="183.20" x2="241.63" y2="184.30" stroke="#000" stroke-width="0.45" />
<line x1="242.14" y1="183.20" x2="242.14" y2="184.30" stroke="#000" stroke-width="0.45" />
<line x1="242.60" y1="183.20" x2="242.60" y2="185.20" stroke="#000" stroke-width="0.7" />
<line x1="245.61" y1="183.20" x2="245.61" y2="184.30" stroke="#000" stroke-width="0.45" />
<text x="199.60" y="195.38" font-size="6.8" fill="#000" textLength="7.00" lengthAdjust="spacingAndGlyphs">10</text>
<text x="206.60" y="192.50" font-size="4.49" fill="#000">1</text>
<text x="209.06" y="195.38" font-size="6.8" fill="#000" textLength="7.00" lengthAdjust="spacingAndGlyphs">10</text>
<text x="216.06" y="192.50" font-size="4.49" fill="#000">2</text>
<text x="218.52" y="195.38" font-size="6.8" fill="#000" textLength="7.00" lengthAdjust="spacingAndGlyphs">10</text>
<text x="225.52" y="192.50" font-size="4.49" fill="#000">3</text>
<text x="227.98" y="195.38" font-size="6.8" fill="#000" textLength="7.00" lengthAdjust="spacingAndGlyphs">10</text>
<text x="234.98" y="192.50" font-size="4.49" fill="#000">4</text>
<text x="237.44" y="195.38" font-size="6.8" fill="#000" textLength="7.00" lengthAdjust="spacingAndGlyphs">10</text>
<text x="244.44" y="192.50" font-size="4.49" fill="#000">5</text>
<text x="245.40" y="141.21" font-size="4.6" text-anchor="end" fill="#555" stroke="#555" stroke-width="0.1" >560</text>
<text x="222.75" y="133.66" font-size="7.6" text-anchor="middle" fill="#000" stroke="#000" stroke-width="0.1" >7</text>
<path d="M275.10,183.20 L275.10,182.69 L275.60,182.58 L276.10,182.46 L276.60,182.32 L277.10,182.16 L277.60,181.99 L278.10,181.80 L278.60,181.61 L279.10,181.40 L279.60,181.18 L280.10,180.96 L280.60,180.73 L281.10,180.50 L281.60,180.26 L282.10,180.01 L282.60,179.71 L283.10,179.35 L283.60,178.86 L284.10,178.17 L284.60,177.20 L285.10,175.81 L285.60,173.96 L286.10,171.56 L286.60,168.55 L287.10,164.95 L287.60,160.88 L288.10,156.56 L288.60,152.32 L289.10,148.55 L289.60,145.65 L290.10,143.97 L290.60,143.73 L291.10,145.29 L291.60,148.57 L292.10,153.14 L292.60,158.41 L293.10,163.77 L293.60,168.74 L294.10,172.97 L294.60,176.33 L295.10,178.82 L295.60,180.55 L296.10,181.67 L296.60,182.37 L297.10,182.77 L297.60,182.99 L298.10,183.10 L298.60,183.16 L299.10,183.18 L299.60,183.19 L300.10,183.20 L300.60,183.20 L301.10,183.20 L301.60,183.20 L302.10,183.20 L302.60,183.20 L303.10,183.20 L303.60,183.20 L304.10,183.20 L304.60,183.20 L305.10,183.20 L305.60,183.20 L306.10,183.20 L306.60,183.20 L307.10,183.20 L307.60,183.20 L308.10,183.20 L308.60,183.20 L309.10,183.20 L309.60,183.20 L310.10,183.20 L310.60,183.20 L311.10,183.20 L311.60,183.20 L312.10,183.20 L312.60,183.20 L313.10,183.20 L313.60,183.20 L314.10,183.20 L314.60,183.20 L315.10,183.20 L315.60,183.20 L316.10,183.20 L316.60,183.20 L317.10,183.20 L317.60,183.20 L318.10,183.20 L318.60,183.20 L319.10,183.20 L319.60,183.20 L320.10,183.20 L320.60,183.20 L321.10,183.20 L321.60,183.20 L322.10,183.20 L322.10,183.20 Z" fill="#93c872" stroke="#5ea63e" stroke-width="0.7" />
<path d="M275.10,183.20 L275.60,183.20 L276.10,183.20 L276.60,183.20 L277.10,183.20 L277.60,183.20 L278.10,183.20 L278.60,183.20 L279.10,183.20 L279.60,183.20 L280.10,183.20 L280.60,183.20 L281.10,183.20 L281.60,183.20 L282.10,183.20 L282.60,183.20 L283.10,183.20 L283.60,183.20 L284.10,183.20 L284.60,183.20 L285.10,183.19 L285.60,183.18 L286.10,183.15 L286.60,183.10 L287.10,182.99 L287.60,182.79 L288.10,182.42 L288.60,181.80 L289.10,180.79 L289.60,179.24 L290.10,177.00 L290.60,173.94 L291.10,169.99 L291.60,165.25 L292.10,159.92 L292.60,154.40 L293.10,149.22 L293.60,144.96 L294.10,142.15 L294.60,141.16 L295.10,141.64 L295.60,143.05 L296.10,145.29 L296.60,148.22 L297.10,151.65 L297.60,155.39 L298.10,159.25 L298.60,163.04 L299.10,166.61 L299.60,169.86 L300.10,172.72 L300.60,175.15 L301.10,177.16 L301.60,178.77 L302.10,180.02 L302.60,180.97 L303.10,181.68 L303.60,182.18 L304.10,182.53 L304.60,182.77 L305.10,182.93 L305.60,183.04 L306.10,183.10 L306.60,183.14 L307.10,183.17 L307.60,183.18 L308.10,183.19 L308.60,183.19 L309.10,183.20 L309.60,183.20 L310.10,183.20 L310.60,183.20 L311.10,183.20 L311.60,183.20 L312.10,183.20 L312.60,183.20 L313.10,183.20 L313.60,183.20 L314.10,183.20 L314.60,183.20 L315.10,183.20 L315.60,183.20 L316.10,183.20 L316.60,183.20 L317.10,183.20 L317.60,183.20 L318.10,183.20 L318.60,183.20 L319.10,183.20 L319.60,183.20 L320.10,183.20 L320.60,183.20 L321.10,183.20 L321.60,183.20 L322.10,183.20" fill="none" stroke="#2f4f98" stroke-width="0.9" />
<rect x="274.60" y="135.30" width="48.30" height="47.90" fill="none" stroke="#000" stroke-width="1.2"/>
<line x1="272.40" y1="183.50" x2="274.60" y2="183.50" stroke="#000" stroke-width="0.8" />
<text x="269.10" y="185.30" font-size="6.0" text-anchor="end" fill="#000" stroke="#000" stroke-width="0.1" >0</text>
<line x1="273.40" y1="180.94" x2="274.60" y2="180.94" stroke="#000" stroke-width="0.5" />
<line x1="273.40" y1="178.68" x2="274.60" y2="178.68" stroke="#000" stroke-width="0.5" />
<line x1="273.40" y1="176.42" x2="274.60" y2="176.42" stroke="#000" stroke-width="0.5" />
<line x1="272.40" y1="174.50" x2="274.60" y2="174.50" stroke="#000" stroke-width="0.8" />
<text x="269.10" y="176.26" font-size="6.0" text-anchor="end" fill="#000" stroke="#000" stroke-width="0.1" >20</text>
<line x1="273.40" y1="171.90" x2="274.60" y2="171.90" stroke="#000" stroke-width="0.5" />
<line x1="273.40" y1="169.64" x2="274.60" y2="169.64" stroke="#000" stroke-width="0.5" />
<line x1="273.40" y1="167.38" x2="274.60" y2="167.38" stroke="#000" stroke-width="0.5" />
<line x1="272.40" y1="165.50" x2="274.60" y2="165.50" stroke="#000" stroke-width="0.8" />
<text x="269.10" y="167.22" font-size="6.0" text-anchor="end" fill="#000" stroke="#000" stroke-width="0.1" >40</text>
<line x1="273.40" y1="162.86" x2="274.60" y2="162.86" stroke="#000" stroke-width="0.5" />
<line x1="273.40" y1="160.60" x2="274.60" y2="160.60" stroke="#000" stroke-width="0.5" />
<line x1="273.40" y1="158.34" x2="274.60" y2="158.34" stroke="#000" stroke-width="0.5" />
<line x1="272.40" y1="156.50" x2="274.60" y2="156.50" stroke="#000" stroke-width="0.8" />
<text x="269.10" y="158.18" font-size="6.0" text-anchor="end" fill="#000" stroke="#000" stroke-width="0.1" >60</text>
<line x1="273.40" y1="153.82" x2="274.60" y2="153.82" stroke="#000" stroke-width="0.5" />
<line x1="273.40" y1="151.56" x2="274.60" y2="151.56" stroke="#000" stroke-width="0.5" />
<line x1="273.40" y1="149.30" x2="274.60" y2="149.30" stroke="#000" stroke-width="0.5" />
<line x1="272.40" y1="147.50" x2="274.60" y2="147.50" stroke="#000" stroke-width="0.8" />
<text x="269.10" y="149.14" font-size="6.0" text-anchor="end" fill="#000" stroke="#000" stroke-width="0.1" >80</text>
<line x1="273.40" y1="144.78" x2="274.60" y2="144.78" stroke="#000" stroke-width="0.5" />
<line x1="273.40" y1="142.52" x2="274.60" y2="142.52" stroke="#000" stroke-width="0.5" />
<line x1="273.40" y1="140.26" x2="274.60" y2="140.26" stroke="#000" stroke-width="0.5" />
<line x1="272.40" y1="138.50" x2="274.60" y2="138.50" stroke="#000" stroke-width="0.8" />
<text x="269.10" y="140.10" font-size="6.0" text-anchor="end" fill="#000" stroke="#000" stroke-width="0.1" >100</text>
<line x1="278.60" y1="183.20" x2="278.60" y2="185.20" stroke="#000" stroke-width="0.7" />
<line x1="281.61" y1="183.20" x2="281.61" y2="184.30" stroke="#000" stroke-width="0.45" />
<line x1="283.37" y1="183.20" x2="283.37" y2="184.30" stroke="#000" stroke-width="0.45" />
<line x1="284.62" y1="183.20" x2="284.62" y2="184.30" stroke="#000" stroke-width="0.45" />
<line x1="285.59" y1="183.20" x2="285.59" y2="184.30" stroke="#000" stroke-width="0.45" />
<line x1="286.38" y1="183.20" x2="286.38" y2="184.30" stroke="#000" stroke-width="0.45" />
<line x1="287.05" y1="183.20" x2="287.05" y2="184.30" stroke="#000" stroke-width="0.45" />
<line x1="287.63" y1="183.20" x2="287.63" y2="184.30" stroke="#000" stroke-width="0.45" />
<line x1="288.14" y1="183.20" x2="288.14" y2="184.30" stroke="#000" stroke-width="0.45" />
<line x1="288.60" y1="183.20" x2="288.60" y2="185.20" stroke="#000" stroke-width="0.7" />
<line x1="291.61" y1="183.20" x2="291.61" y2="184.30" stroke="#000" stroke-width="0.45" />
<line x1="293.37" y1="183.20" x2="293.37" y2="184.30" stroke="#000" stroke-width="0.45" />
<line x1="294.62" y1="183.20" x2="294.62" y2="184.30" stroke="#000" stroke-width="0.45" />
<line x1="295.59" y1="183.20" x2="295.59" y2="184.30" stroke="#000" stroke-width="0.45" />
<line x1="296.38" y1="183.20" x2="296.38" y2="184.30" stroke="#000" stroke-width="0.45" />
<line x1="297.05" y1="183.20" x2="297.05" y2="184.30" stroke="#000" stroke-width="0.45" />
<line x1="297.63" y1="183.20" x2="297.63" y2="184.30" stroke="#000" stroke-width="0.45" />
<line x1="298.14" y1="183.20" x2="298.14" y2="184.30" stroke="#000" stroke-width="0.45" />
<line x1="298.60" y1="183.20" x2="298.60" y2="185.20" stroke="#000" stroke-width="0.7" />
<line x1="301.61" y1="183.20" x2="301.61" y2="184.30" stroke="#000" stroke-width="0.45" />
<line x1="303.37" y1="183.20" x2="303.37" y2="184.30" stroke="#000" stroke-width="0.45" />
<line x1="304.62" y1="183.20" x2="304.62" y2="184.30" stroke="#000" stroke-width="0.45" />
<line x1="305.59" y1="183.20" x2="305.59" y2="184.30" stroke="#000" stroke-width="0.45" />
<line x1="306.38" y1="183.20" x2="306.38" y2="184.30" stroke="#000" stroke-width="0.45" />
<line x1="307.05" y1="183.20" x2="307.05" y2="184.30" stroke="#000" stroke-width="0.45" />
<line x1="307.63" y1="183.20" x2="307.63" y2="184.30" stroke="#000" stroke-width="0.45" />
<line x1="308.14" y1="183.20" x2="308.14" y2="184.30" stroke="#000" stroke-width="0.45" />
<line x1="308.60" y1="183.20" x2="308.60" y2="185.20" stroke="#000" stroke-width="0.7" />
<line x1="311.61" y1="183.20" x2="311.61" y2="184.30" stroke="#000" stroke-width="0.45" />
<line x1="313.37" y1="183.20" x2="313.37" y2="184.30" stroke="#000" stroke-width="0.45" />
<line x1="314.62" y1="183.20" x2="314.62" y2="184.30" stroke="#000" stroke-width="0.45" />
<line x1="315.59" y1="183.20" x2="315.59" y2="184.30" stroke="#000" stroke-width="0.45" />
<line x1="316.38" y1="183.20" x2="316.38" y2="184.30" stroke="#000" stroke-width="0.45" />
<line x1="317.05" y1="183.20" x2="317.05" y2="184.30" stroke="#000" stroke-width="0.45" />
<line x1="317.63" y1="183.20" x2="317.63" y2="184.30" stroke="#000" stroke-width="0.45" />
<line x1="318.14" y1="183.20" x2="318.14" y2="184.30" stroke="#000" stroke-width="0.45" />
<line x1="318.60" y1="183.20" x2="318.60" y2="185.20" stroke="#000" stroke-width="0.7" />
<line x1="321.61" y1="183.20" x2="321.61" y2="184.30" stroke="#000" stroke-width="0.45" />
<text x="275.60" y="195.38" font-size="6.8" fill="#000" textLength="7.00" lengthAdjust="spacingAndGlyphs">10</text>
<text x="282.60" y="192.50" font-size="4.49" fill="#000">1</text>
<text x="285.06" y="195.38" font-size="6.8" fill="#000" textLength="7.00" lengthAdjust="spacingAndGlyphs">10</text>
<text x="292.06" y="192.50" font-size="4.49" fill="#000">2</text>
<text x="294.52" y="195.38" font-size="6.8" fill="#000" textLength="7.00" lengthAdjust="spacingAndGlyphs">10</text>
<text x="301.52" y="192.50" font-size="4.49" fill="#000">3</text>
<text x="303.98" y="195.38" font-size="6.8" fill="#000" textLength="7.00" lengthAdjust="spacingAndGlyphs">10</text>
<text x="310.98" y="192.50" font-size="4.49" fill="#000">4</text>
<text x="313.44" y="195.38" font-size="6.8" fill="#000" textLength="7.00" lengthAdjust="spacingAndGlyphs">10</text>
<text x="320.44" y="192.50" font-size="4.49" fill="#000">5</text>
<text x="321.40" y="141.21" font-size="4.6" text-anchor="end" fill="#555" stroke="#555" stroke-width="0.1" >430</text>
<text x="298.75" y="133.66" font-size="7.6" text-anchor="middle" fill="#000" stroke="#000" stroke-width="0.1" >10</text>
<line x1="45.00" y1="200.50" x2="317.00" y2="200.50" stroke="#333" stroke-width="1.0" />
<path d="M316,197.6 L321.8,200.1 L316,202.6 Z" fill="#111" stroke="none" stroke-width="1" />
<text transform="translate(183.35 210.40) scale(0.7384 1)" font-size="8.0" text-anchor="middle" fill="#231f20" stroke="#231f20" stroke-width="0.1" >ENT1</text>
<line x1="367.50" y1="135.20" x2="367.50" y2="193.80" stroke="#000" stroke-width="1.1" />
<line x1="367.40" y1="193.50" x2="451.50" y2="193.50" stroke="#000" stroke-width="1.1" />
<line x1="364.70" y1="138.50" x2="367.90" y2="138.50" stroke="#000" stroke-width="1.0" />
<text x="361.00" y="140.24" font-size="6.4" text-anchor="end" fill="#000" stroke="#000" stroke-width="0.1" >1200</text>
<line x1="364.70" y1="147.50" x2="367.90" y2="147.50" stroke="#000" stroke-width="1.0" />
<text x="361.00" y="149.46" font-size="6.4" text-anchor="end" fill="#000" stroke="#000" stroke-width="0.1" >1000</text>
<line x1="364.70" y1="156.50" x2="367.90" y2="156.50" stroke="#000" stroke-width="1.0" />
<text x="361.00" y="158.67" font-size="6.4" text-anchor="end" fill="#000" stroke="#000" stroke-width="0.1" >800</text>
<line x1="364.70" y1="165.50" x2="367.90" y2="165.50" stroke="#000" stroke-width="1.0" />
<text x="361.00" y="167.89" font-size="6.4" text-anchor="end" fill="#000" stroke="#000" stroke-width="0.1" >600</text>
<line x1="364.70" y1="174.50" x2="367.90" y2="174.50" stroke="#000" stroke-width="1.0" />
<text x="361.00" y="177.11" font-size="6.4" text-anchor="end" fill="#000" stroke="#000" stroke-width="0.1" >400</text>
<line x1="364.70" y1="184.50" x2="367.90" y2="184.50" stroke="#000" stroke-width="1.0" />
<text x="361.00" y="186.32" font-size="6.4" text-anchor="end" fill="#000" stroke="#000" stroke-width="0.1" >200</text>
<line x1="364.70" y1="193.50" x2="367.90" y2="193.50" stroke="#000" stroke-width="1.0" />
<text x="361.00" y="195.54" font-size="6.4" text-anchor="end" fill="#000" stroke="#000" stroke-width="0.1" >0</text>
<text transform="translate(340.75 163.60) rotate(-90) scale(0.7297 1)" font-size="9.0" text-anchor="middle" fill="#231f20" stroke="#231f20" stroke-width="0.1">GMFI (ENT1)</text>
<rect x="371.20" y="153.00" width="13.90" height="40.30" fill="#a5012b" />
<line x1="378.50" y1="142.60" x2="378.50" y2="153.00" stroke="#231f20" stroke-width="0.9" />
<line x1="374.85" y1="142.50" x2="381.45" y2="142.50" stroke="#231f20" stroke-width="0.9" />
<line x1="378.50" y1="193.30" x2="378.50" y2="196.10" stroke="#000" stroke-width="0.9" />
<text x="378.15" y="205.38" font-size="6.8" text-anchor="middle" fill="#231f20" stroke="#231f20" stroke-width="0.1" >D0</text>
<rect x="392.20" y="140.60" width="13.60" height="52.70" fill="#a5012b" />
<line x1="399.50" y1="138.20" x2="399.50" y2="140.60" stroke="#231f20" stroke-width="0.9" />
<line x1="395.70" y1="138.50" x2="402.30" y2="138.50" stroke="#231f20" stroke-width="0.9" />
<line x1="399.50" y1="193.30" x2="399.50" y2="196.10" stroke="#000" stroke-width="0.9" />
<text x="399.00" y="205.38" font-size="6.8" text-anchor="middle" fill="#231f20" stroke="#231f20" stroke-width="0.1" >D3</text>
<rect x="412.90" y="164.40" width="13.60" height="28.90" fill="#a5012b" />
<line x1="419.50" y1="152.10" x2="419.50" y2="164.40" stroke="#231f20" stroke-width="0.9" />
<line x1="416.40" y1="152.50" x2="423.00" y2="152.50" stroke="#231f20" stroke-width="0.9" />
<line x1="419.50" y1="193.30" x2="419.50" y2="196.10" stroke="#000" stroke-width="0.9" />
<text x="419.70" y="205.38" font-size="6.8" text-anchor="middle" fill="#231f20" stroke="#231f20" stroke-width="0.1" >D7</text>
<rect x="434.00" y="176.90" width="13.50" height="16.40" fill="#a5012b" />
<line x1="440.50" y1="171.70" x2="440.50" y2="176.90" stroke="#231f20" stroke-width="0.9" />
<line x1="437.45" y1="171.50" x2="444.05" y2="171.50" stroke="#231f20" stroke-width="0.9" />
<line x1="440.50" y1="193.30" x2="440.50" y2="196.10" stroke="#000" stroke-width="0.9" />
<text x="440.75" y="205.38" font-size="6.8" text-anchor="middle" fill="#231f20" stroke="#231f20" stroke-width="0.1" >D10</text>
<text x="11.90" y="233.07" font-size="12.2" text-anchor="middle" fill="#000" font-weight="bold" >C</text>
<line x1="47.50" y1="262.90" x2="47.50" y2="316.80" stroke="#000" stroke-width="1.1" />
<line x1="46.70" y1="316.50" x2="125.60" y2="316.50" stroke="#000" stroke-width="1.1" />
<line x1="44.00" y1="265.50" x2="47.20" y2="265.50" stroke="#000" stroke-width="1.0" />
<text x="41.20" y="268.07" font-size="6.5" text-anchor="end" fill="#231f20" stroke="#231f20" stroke-width="0.1" >1.5</text>
<line x1="44.00" y1="282.50" x2="47.20" y2="282.50" stroke="#000" stroke-width="1.0" />
<text x="41.20" y="284.97" font-size="6.5" text-anchor="end" fill="#231f20" stroke="#231f20" stroke-width="0.1" >1.0</text>
<line x1="44.00" y1="299.50" x2="47.20" y2="299.50" stroke="#000" stroke-width="1.0" />
<text x="41.20" y="301.67" font-size="6.5" text-anchor="end" fill="#231f20" stroke="#231f20" stroke-width="0.1" >0.5</text>
<line x1="44.00" y1="316.50" x2="47.20" y2="316.50" stroke="#000" stroke-width="1.0" />
<text x="41.20" y="318.57" font-size="6.5" text-anchor="end" fill="#231f20" stroke="#231f20" stroke-width="0.1" >0.0</text>
<rect x="54.00" y="282.00" width="25.20" height="34.30" fill="#264a85" />
<line x1="66.50" y1="276.40" x2="66.50" y2="282.00" stroke="#231f20" stroke-width="0.9" />
<line x1="60.20" y1="276.50" x2="72.90" y2="276.50" stroke="#231f20" stroke-width="0.9" />
<rect x="91.40" y="315.00" width="26.00" height="1.00" fill="#7dbb5a" />
<line x1="99.00" y1="315.50" x2="110.00" y2="315.50" stroke="#000" stroke-width="1.2" />
<line x1="66.40" y1="268.50" x2="103.80" y2="268.50" stroke="#231f20" stroke-width="0.9" />
<text x="85.10" y="268.70" font-size="6.0" text-anchor="middle" fill="#231f20" stroke="#231f20" stroke-width="0.1" >****</text>
<line x1="66.50" y1="316.30" x2="66.50" y2="319.10" stroke="#000" stroke-width="0.9" />
<line x1="104.50" y1="316.30" x2="104.50" y2="319.10" stroke="#000" stroke-width="0.9" />
<text transform="translate(66.70 328.71) scale(1.0197 1)" font-size="6.6" text-anchor="middle" fill="#231f20" stroke="#231f20" stroke-width="0.1" >shControl</text>
<text transform="translate(104.50 328.71) scale(0.9689 1)" font-size="6.6" text-anchor="middle" fill="#231f20" stroke="#231f20" stroke-width="0.1" >shENT1</text>
<text transform="translate(15.45 290.10) rotate(-90) scale(0.7291 1)" font-size="9.0" text-anchor="middle" fill="#231f20" stroke="#231f20" stroke-width="0.1">Relative ENT1</text>
<text transform="translate(26.45 289.30) rotate(-90) scale(0.7636 1)" font-size="9.0" text-anchor="middle" fill="#231f20" stroke="#231f20" stroke-width="0.1">mRNA expression</text>
<text x="146.50" y="233.17" font-size="12.2" text-anchor="middle" fill="#000" font-weight="bold" >D</text>
<line x1="185.50" y1="260.80" x2="185.50" y2="316.80" stroke="#000" stroke-width="1.1" />
<line x1="185.00" y1="316.50" x2="264.80" y2="316.50" stroke="#000" stroke-width="1.1" />
<line x1="182.30" y1="316.50" x2="185.50" y2="316.50" stroke="#000" stroke-width="1.0" />
<text x="179.40" y="318.79" font-size="7.1" text-anchor="end" fill="#231f20" stroke="#231f20" stroke-width="0.1" >0.0</text>
<line x1="182.30" y1="307.50" x2="185.50" y2="307.50" stroke="#000" stroke-width="1.0" />
<text x="179.40" y="310.04" font-size="7.1" text-anchor="end" fill="#231f20" stroke="#231f20" stroke-width="0.1" >0.2</text>
<line x1="182.30" y1="298.50" x2="185.50" y2="298.50" stroke="#000" stroke-width="1.0" />
<text x="179.40" y="301.29" font-size="7.1" text-anchor="end" fill="#231f20" stroke="#231f20" stroke-width="0.1" >0.4</text>
<line x1="182.30" y1="290.50" x2="185.50" y2="290.50" stroke="#000" stroke-width="1.0" />
<text x="179.40" y="292.54" font-size="7.1" text-anchor="end" fill="#231f20" stroke="#231f20" stroke-width="0.1" >0.6</text>
<line x1="182.30" y1="281.50" x2="185.50" y2="281.50" stroke="#000" stroke-width="1.0" />
<text x="179.40" y="283.79" font-size="7.1" text-anchor="end" fill="#231f20" stroke="#231f20" stroke-width="0.1" >0.8</text>
<line x1="182.30" y1="272.50" x2="185.50" y2="272.50" stroke="#000" stroke-width="1.0" />
<text x="179.40" y="275.04" font-size="7.1" text-anchor="end" fill="#231f20" stroke="#231f20" stroke-width="0.1" >1.0</text>
<line x1="182.30" y1="263.50" x2="185.50" y2="263.50" stroke="#000" stroke-width="1.0" />
<text x="179.40" y="266.29" font-size="7.1" text-anchor="end" fill="#231f20" stroke="#231f20" stroke-width="0.1" >1.2</text>
<line x1="195.50" y1="316.30" x2="195.50" y2="319.10" stroke="#000" stroke-width="0.9" />
<text transform="translate(195.00 329.12) scale(0.9198 1)" font-size="7.2" text-anchor="middle" fill="#231f20" stroke="#231f20" stroke-width="0.1" >Day 1</text>
<line x1="215.50" y1="316.30" x2="215.50" y2="319.10" stroke="#000" stroke-width="0.9" />
<text transform="translate(215.00 329.12) scale(0.9198 1)" font-size="7.2" text-anchor="middle" fill="#231f20" stroke="#231f20" stroke-width="0.1" >Day 3</text>
<line x1="234.50" y1="316.30" x2="234.50" y2="319.10" stroke="#000" stroke-width="0.9" />
<text transform="translate(234.80 329.12) scale(0.9198 1)" font-size="7.2" text-anchor="middle" fill="#231f20" stroke="#231f20" stroke-width="0.1" >Day 5</text>
<line x1="254.50" y1="316.30" x2="254.50" y2="319.10" stroke="#000" stroke-width="0.9" />
<text transform="translate(254.80 329.12) scale(0.9198 1)" font-size="7.2" text-anchor="middle" fill="#231f20" stroke="#231f20" stroke-width="0.1" >Day 7</text>
<text transform="translate(153.15 289.00) rotate(-90) scale(0.7604 1)" font-size="9.0" text-anchor="middle" fill="#231f20" stroke="#231f20" stroke-width="0.1">Relative % of GFP<tspan font-size="5.2" dy="-3.0">+</tspan></text>
<text transform="translate(164.55 288.20) rotate(-90) scale(0.7977 1)" font-size="9.0" text-anchor="middle" fill="#231f20" stroke="#231f20" stroke-width="0.1">cells (x 100)</text>
<path d="M195.00,272.20 L215.00,274.70 L234.80,276.00 L254.80,276.80" fill="none" stroke="#3d5fa8" stroke-width="1.0" stroke-dasharray="2.2 1.3"/>
<rect x="194.10" y="271.30" width="1.8" height="1.8" fill="#3d5fa8"/>
<rect x="214.10" y="273.80" width="1.8" height="1.8" fill="#3d5fa8"/>
<rect x="233.90" y="275.10" width="1.8" height="1.8" fill="#3d5fa8"/>
<rect x="253.90" y="275.90" width="1.8" height="1.8" fill="#3d5fa8"/>
<path d="M195.00,272.20 L215.00,274.20 L234.80,275.60 L254.80,282.70" fill="none" stroke="#77b84e" stroke-width="1.0" stroke-dasharray="2.2 1.3"/>
<rect x="194.10" y="271.30" width="1.8" height="1.8" fill="#77b84e"/>
<rect x="214.10" y="273.30" width="1.8" height="1.8" fill="#77b84e"/>
<rect x="233.90" y="274.70" width="1.8" height="1.8" fill="#77b84e"/>
<rect x="253.90" y="281.80" width="1.8" height="1.8" fill="#77b84e"/>
<path d="M195.00,272.20 L215.00,273.20 L234.80,275.80 L254.80,279.30" fill="none" stroke="#3d5fa8" stroke-width="1.0" />
<rect x="194.10" y="271.30" width="1.8" height="1.8" fill="#3d5fa8"/>
<rect x="214.10" y="272.30" width="1.8" height="1.8" fill="#3d5fa8"/>
<rect x="233.90" y="274.90" width="1.8" height="1.8" fill="#3d5fa8"/>
<rect x="253.90" y="278.40" width="1.8" height="1.8" fill="#3d5fa8"/>
<path d="M195.00,272.20 L215.00,290.40 L234.80,301.90 L254.80,307.00" fill="none" stroke="#77b84e" stroke-width="1.0" />
<rect x="194.10" y="271.30" width="1.8" height="1.8" fill="#77b84e"/>
<rect x="214.10" y="289.50" width="1.8" height="1.8" fill="#77b84e"/>
<rect x="233.90" y="301.00" width="1.8" height="1.8" fill="#77b84e"/>
<rect x="253.90" y="306.10" width="1.8" height="1.8" fill="#77b84e"/>
<line x1="234.50" y1="273.30" x2="234.50" y2="278.30" stroke="#3d5fa8" stroke-width="0.8" />
<line x1="254.50" y1="275.80" x2="254.50" y2="280.80" stroke="#3d5fa8" stroke-width="0.8" />
<line x1="254.50" y1="304.00" x2="254.50" y2="310.00" stroke="#77b84e" stroke-width="0.8" />
<text x="217.30" y="288.50" font-size="6.0" text-anchor="middle" fill="#231f20" stroke="#231f20" stroke-width="0.1" >****</text>
<text x="236.60" y="300.00" font-size="6.0" text-anchor="middle" fill="#231f20" stroke="#231f20" stroke-width="0.1" >****</text>
<text x="254.80" y="305.40" font-size="6.0" text-anchor="middle" fill="#231f20" stroke="#231f20" stroke-width="0.1" >****</text>
<line x1="268.50" y1="273.50" x2="273.80" y2="273.50" stroke="#3d5fa8" stroke-width="0.9" stroke-dasharray="1.5 0.8"/>
<rect x="270.45" y="272.70" width="1.4" height="1.4" fill="#3d5fa8"/>
<text transform="translate(277.20 275.50) scale(0.9931 1)" font-size="6.0" text-anchor="start" fill="#231f20" stroke="#231f20" stroke-width="0.1" >shControl</text>
<line x1="268.50" y1="282.50" x2="273.80" y2="282.50" stroke="#77b84e" stroke-width="0.9" stroke-dasharray="1.5 0.8"/>
<rect x="270.45" y="282.10" width="1.4" height="1.4" fill="#77b84e"/>
<text transform="translate(277.20 284.90) scale(0.8997 1)" font-size="6.0" text-anchor="start" fill="#231f20" stroke="#231f20" stroke-width="0.1" >shENT1</text>
<line x1="268.50" y1="295.50" x2="273.80" y2="295.50" stroke="#3d5fa8" stroke-width="0.9" />
<rect x="270.45" y="294.70" width="1.4" height="1.4" fill="#3d5fa8"/>
<text transform="translate(277.20 297.50) scale(0.9931 1)" font-size="6.0" text-anchor="start" fill="#231f20" stroke="#231f20" stroke-width="0.1" >shControl</text>
<line x1="268.50" y1="304.50" x2="273.80" y2="304.50" stroke="#77b84e" stroke-width="0.9" />
<rect x="270.45" y="303.90" width="1.4" height="1.4" fill="#77b84e"/>
<text transform="translate(277.20 306.70) scale(0.8997 1)" font-size="6.0" text-anchor="start" fill="#231f20" stroke="#231f20" stroke-width="0.1" >shENT1</text>
<path d="M301.2,267.4 L303.4,267.4 L303.4,286.2 L301.2,286.2" fill="none" stroke="#231f20" stroke-width="0.9" />
<path d="M301.2,289.5 L303.4,289.5 L303.4,309 L301.2,309" fill="none" stroke="#231f20" stroke-width="0.9" />
<text transform="translate(306.00 279.30) scale(0.9544 1)" font-size="6.0" text-anchor="start" fill="#231f20" stroke="#231f20" stroke-width="0.1" >-EPO</text>
<text transform="translate(306.00 301.40) scale(0.8655 1)" font-size="6.0" text-anchor="start" fill="#231f20" stroke="#231f20" stroke-width="0.1" >+EPO</text>
<text x="342.70" y="233.17" font-size="12.2" text-anchor="middle" fill="#000" font-weight="bold" >E</text>
<line x1="368.50" y1="244.60" x2="368.50" y2="316.80" stroke="#000" stroke-width="1.1" />
<line x1="368.00" y1="316.50" x2="474.60" y2="316.50" stroke="#000" stroke-width="1.1" />
<line x1="365.30" y1="316.50" x2="368.50" y2="316.50" stroke="#000" stroke-width="1.0" />
<text transform="translate(355.75 318.75) scale(0.8092 1)" font-size="7.0" text-anchor="middle" fill="#231f20" stroke="#231f20" stroke-width="0.1" >10</text>
<text x="359.00" y="315.37" font-size="4.2" text-anchor="start" fill="#231f20" stroke="#231f20" stroke-width="0.1" >4</text>
<line x1="367.40" y1="310.94" x2="368.50" y2="310.94" stroke="#000" stroke-width="0.4" />
<line x1="367.40" y1="307.81" x2="368.50" y2="307.81" stroke="#000" stroke-width="0.4" />
<line x1="367.40" y1="305.58" x2="368.50" y2="305.58" stroke="#000" stroke-width="0.4" />
<line x1="367.40" y1="303.86" x2="368.50" y2="303.86" stroke="#000" stroke-width="0.4" />
<line x1="367.40" y1="302.45" x2="368.50" y2="302.45" stroke="#000" stroke-width="0.4" />
<line x1="367.40" y1="301.26" x2="368.50" y2="301.26" stroke="#000" stroke-width="0.4" />
<line x1="367.40" y1="300.22" x2="368.50" y2="300.22" stroke="#000" stroke-width="0.4" />
<line x1="367.40" y1="299.31" x2="368.50" y2="299.31" stroke="#000" stroke-width="0.4" />
<line x1="365.30" y1="298.50" x2="368.50" y2="298.50" stroke="#000" stroke-width="1.0" />
<text transform="translate(355.75 300.95) scale(0.8092 1)" font-size="7.0" text-anchor="middle" fill="#231f20" stroke="#231f20" stroke-width="0.1" >10</text>
<text x="359.00" y="297.57" font-size="4.2" text-anchor="start" fill="#231f20" stroke="#231f20" stroke-width="0.1" >5</text>
<line x1="367.40" y1="293.38" x2="368.50" y2="293.38" stroke="#000" stroke-width="0.4" />
<line x1="367.40" y1="290.39" x2="368.50" y2="290.39" stroke="#000" stroke-width="0.4" />
<line x1="367.40" y1="288.26" x2="368.50" y2="288.26" stroke="#000" stroke-width="0.4" />
<line x1="367.40" y1="286.62" x2="368.50" y2="286.62" stroke="#000" stroke-width="0.4" />
<line x1="367.40" y1="285.27" x2="368.50" y2="285.27" stroke="#000" stroke-width="0.4" />
<line x1="367.40" y1="284.13" x2="368.50" y2="284.13" stroke="#000" stroke-width="0.4" />
<line x1="367.40" y1="283.15" x2="368.50" y2="283.15" stroke="#000" stroke-width="0.4" />
<line x1="367.40" y1="282.28" x2="368.50" y2="282.28" stroke="#000" stroke-width="0.4" />
<line x1="365.30" y1="281.50" x2="368.50" y2="281.50" stroke="#000" stroke-width="1.0" />
<text transform="translate(355.75 283.95) scale(0.8092 1)" font-size="7.0" text-anchor="middle" fill="#231f20" stroke="#231f20" stroke-width="0.1" >10</text>
<text x="359.00" y="280.57" font-size="4.2" text-anchor="start" fill="#231f20" stroke="#231f20" stroke-width="0.1" >6</text>
<line x1="367.40" y1="276.41" x2="368.50" y2="276.41" stroke="#000" stroke-width="0.4" />
<line x1="367.40" y1="273.44" x2="368.50" y2="273.44" stroke="#000" stroke-width="0.4" />
<line x1="367.40" y1="271.33" x2="368.50" y2="271.33" stroke="#000" stroke-width="0.4" />
<line x1="367.40" y1="269.69" x2="368.50" y2="269.69" stroke="#000" stroke-width="0.4" />
<line x1="367.40" y1="268.35" x2="368.50" y2="268.35" stroke="#000" stroke-width="0.4" />
<line x1="367.40" y1="267.22" x2="368.50" y2="267.22" stroke="#000" stroke-width="0.4" />
<line x1="367.40" y1="266.24" x2="368.50" y2="266.24" stroke="#000" stroke-width="0.4" />
<line x1="367.40" y1="265.37" x2="368.50" y2="265.37" stroke="#000" stroke-width="0.4" />
<line x1="365.30" y1="264.50" x2="368.50" y2="264.50" stroke="#000" stroke-width="1.0" />
<text transform="translate(355.75 267.05) scale(0.8092 1)" font-size="7.0" text-anchor="middle" fill="#231f20" stroke="#231f20" stroke-width="0.1" >10</text>
<text x="359.00" y="263.67" font-size="4.2" text-anchor="start" fill="#231f20" stroke="#231f20" stroke-width="0.1" >7</text>
<line x1="367.40" y1="259.15" x2="368.50" y2="259.15" stroke="#000" stroke-width="0.4" />
<line x1="367.40" y1="255.96" x2="368.50" y2="255.96" stroke="#000" stroke-width="0.4" />
<line x1="367.40" y1="253.70" x2="368.50" y2="253.70" stroke="#000" stroke-width="0.4" />
<line x1="367.40" y1="251.95" x2="368.50" y2="251.95" stroke="#000" stroke-width="0.4" />
<line x1="367.40" y1="250.52" x2="368.50" y2="250.52" stroke="#000" stroke-width="0.4" />
<line x1="367.40" y1="249.30" x2="368.50" y2="249.30" stroke="#000" stroke-width="0.4" />
<line x1="367.40" y1="248.25" x2="368.50" y2="248.25" stroke="#000" stroke-width="0.4" />
<line x1="367.40" y1="247.33" x2="368.50" y2="247.33" stroke="#000" stroke-width="0.4" />
<line x1="365.30" y1="246.50" x2="368.50" y2="246.50" stroke="#000" stroke-width="1.0" />
<text transform="translate(355.75 248.95) scale(0.8092 1)" font-size="7.0" text-anchor="middle" fill="#231f20" stroke="#231f20" stroke-width="0.1" >10</text>
<text x="359.00" y="245.57" font-size="4.2" text-anchor="start" fill="#231f20" stroke="#231f20" stroke-width="0.1" >8</text>
<line x1="368.50" y1="316.30" x2="368.50" y2="319.10" stroke="#000" stroke-width="0.9" />
<text x="368.50" y="328.58" font-size="6.8" text-anchor="middle" fill="#231f20" stroke="#231f20" stroke-width="0.1" >0</text>
<line x1="378.80" y1="316.30" x2="378.80" y2="317.50" stroke="#000" stroke-width="0.6" />
<line x1="389.50" y1="316.30" x2="389.50" y2="319.10" stroke="#000" stroke-width="0.9" />
<text x="389.10" y="328.58" font-size="6.8" text-anchor="middle" fill="#231f20" stroke="#231f20" stroke-width="0.1" >2</text>
<line x1="399.40" y1="316.30" x2="399.40" y2="317.50" stroke="#000" stroke-width="0.6" />
<line x1="409.50" y1="316.30" x2="409.50" y2="319.10" stroke="#000" stroke-width="0.9" />
<text x="409.70" y="328.58" font-size="6.8" text-anchor="middle" fill="#231f20" stroke="#231f20" stroke-width="0.1" >4</text>
<line x1="420.00" y1="316.30" x2="420.00" y2="317.50" stroke="#000" stroke-width="0.6" />
<line x1="430.50" y1="316.30" x2="430.50" y2="319.10" stroke="#000" stroke-width="0.9" />
<text x="430.30" y="328.58" font-size="6.8" text-anchor="middle" fill="#231f20" stroke="#231f20" stroke-width="0.1" >6</text>
<line x1="440.60" y1="316.30" x2="440.60" y2="317.50" stroke="#000" stroke-width="0.6" />
<line x1="450.50" y1="316.30" x2="450.50" y2="319.10" stroke="#000" stroke-width="0.9" />
<text x="450.90" y="328.58" font-size="6.8" text-anchor="middle" fill="#231f20" stroke="#231f20" stroke-width="0.1" >8</text>
<line x1="461.20" y1="316.30" x2="461.20" y2="317.50" stroke="#000" stroke-width="0.6" />
<line x1="471.50" y1="316.30" x2="471.50" y2="319.10" stroke="#000" stroke-width="0.9" />
<text x="471.50" y="328.58" font-size="6.8" text-anchor="middle" fill="#231f20" stroke="#231f20" stroke-width="0.1" >10</text>
<text transform="translate(421.80 341.01) scale(0.7847 1)" font-size="8.6" text-anchor="middle" fill="#231f20" stroke="#231f20" stroke-width="0.1" >Day</text>
<text transform="translate(346.48 280.00) rotate(-90) scale(0.8261 1)" font-size="8.8" text-anchor="middle" fill="#231f20" stroke="#231f20" stroke-width="0.1">Number of cells</text>
<path d="M368.50,298.50 L399.40,282.50 L440.60,264.60 L471.50,257.00" fill="none" stroke="#34529c" stroke-width="1.1" />
<rect x="398.40" y="281.50" width="2.0" height="2.0" fill="#34529c"/>
<line x1="399.50" y1="280.20" x2="399.50" y2="284.80" stroke="#34529c" stroke-width="0.8" />
<line x1="398.40" y1="280.20" x2="400.40" y2="280.20" stroke="#34529c" stroke-width="0.6" />
<line x1="398.40" y1="284.80" x2="400.40" y2="284.80" stroke="#34529c" stroke-width="0.6" />
<rect x="439.60" y="263.60" width="2.0" height="2.0" fill="#34529c"/>
<line x1="440.50" y1="263.40" x2="440.50" y2="265.80" stroke="#34529c" stroke-width="0.8" />
<line x1="439.60" y1="263.40" x2="441.60" y2="263.40" stroke="#34529c" stroke-width="0.6" />
<line x1="439.60" y1="265.80" x2="441.60" y2="265.80" stroke="#34529c" stroke-width="0.6" />
<rect x="470.50" y="256.00" width="2.0" height="2.0" fill="#34529c"/>
<line x1="471.50" y1="256.00" x2="471.50" y2="258.00" stroke="#34529c" stroke-width="0.8" />
<line x1="470.50" y1="256.00" x2="472.50" y2="256.00" stroke="#34529c" stroke-width="0.6" />
<line x1="470.50" y1="258.00" x2="472.50" y2="258.00" stroke="#34529c" stroke-width="0.6" />
<path d="M368.50,298.50 L399.40,290.20 L440.60,277.50 L471.50,269.30" fill="none" stroke="#74b54b" stroke-width="1.1" />
<rect x="398.40" y="289.20" width="2.0" height="2.0" fill="#74b54b"/>
<line x1="399.50" y1="287.90" x2="399.50" y2="292.50" stroke="#74b54b" stroke-width="0.8" />
<line x1="398.40" y1="287.90" x2="400.40" y2="287.90" stroke="#74b54b" stroke-width="0.6" />
<line x1="398.40" y1="292.50" x2="400.40" y2="292.50" stroke="#74b54b" stroke-width="0.6" />
<rect x="439.60" y="276.50" width="2.0" height="2.0" fill="#74b54b"/>
<line x1="440.50" y1="274.50" x2="440.50" y2="280.50" stroke="#74b54b" stroke-width="0.8" />
<line x1="439.60" y1="274.50" x2="441.60" y2="274.50" stroke="#74b54b" stroke-width="0.6" />
<line x1="439.60" y1="280.50" x2="441.60" y2="280.50" stroke="#74b54b" stroke-width="0.6" />
<rect x="470.50" y="268.30" width="2.0" height="2.0" fill="#74b54b"/>
<line x1="471.50" y1="266.30" x2="471.50" y2="272.30" stroke="#74b54b" stroke-width="0.8" />
<line x1="470.50" y1="266.30" x2="472.50" y2="266.30" stroke="#74b54b" stroke-width="0.6" />
<line x1="470.50" y1="272.30" x2="472.50" y2="272.30" stroke="#74b54b" stroke-width="0.6" />
<text x="399.40" y="281.10" font-size="6.0" text-anchor="middle" fill="#231f20" stroke="#231f20" stroke-width="0.1" >*</text>
<text x="440.60" y="263.80" font-size="6.0" text-anchor="middle" fill="#231f20" stroke="#231f20" stroke-width="0.1" >***</text>
<text x="471.50" y="255.80" font-size="6.0" text-anchor="middle" fill="#231f20" stroke="#231f20" stroke-width="0.1" >***</text>
<text x="11.15" y="363.27" font-size="12.2" text-anchor="middle" fill="#000" font-weight="bold" >F</text>
<text x="57.70" y="374.20" font-size="6.3" text-anchor="middle" fill="#231f20" stroke="#231f20" stroke-width="0.1" >shControl</text>
<text transform="translate(25.25 401.50) rotate(-90) scale(0.6919 1)" font-size="9.0" text-anchor="middle" fill="#231f20" stroke="#231f20" stroke-width="0.1">GFP</text>
<path d="M33.80,425.11 L34.20,425.02 L34.60,424.92 L35.00,424.79 L35.40,424.65 L35.80,424.48 L36.20,424.30 L36.60,424.11 L37.00,423.92 L37.40,423.72 L37.80,423.53 L38.20,423.36 L38.60,423.20 L39.00,423.08 L39.40,422.99 L39.80,422.93 L40.20,422.90 L40.60,422.89 L41.00,422.88 L41.40,422.85 L41.80,422.75 L42.20,422.54 L42.60,422.15 L43.00,421.51 L43.40,420.52 L43.80,419.09 L44.20,417.16 L44.60,414.66 L45.00,411.58 L45.40,407.96 L45.80,403.91 L46.20,399.60 L46.60,395.29 L47.00,391.24 L47.40,387.77 L47.80,385.17 L48.20,383.64 L48.60,383.34 L49.00,384.15 L49.40,385.97 L49.80,388.65 L50.20,392.02 L50.60,395.84 L51.00,399.89 L51.40,403.94 L51.80,407.80 L52.20,411.33 L52.60,414.44 L53.00,417.08 L53.40,419.24 L53.80,420.95 L54.20,422.27 L54.60,423.26 L55.00,423.97 L55.40,424.46 L55.80,424.80 L56.20,425.02 L56.60,425.16 L57.00,425.24 L57.40,425.28 L57.80,425.28 L58.20,425.25 L58.60,425.19 L59.00,425.10 L59.40,424.95 L59.80,424.74 L60.20,424.45 L60.60,424.06 L61.00,423.53 L61.40,422.83 L61.80,421.94 L62.20,420.82 L62.60,419.45 L63.00,417.80 L63.40,415.87 L63.80,413.65 L64.20,411.18 L64.60,408.49 L65.00,405.64 L65.40,402.72 L65.80,399.83 L66.20,397.08 L66.60,394.58 L67.00,392.46 L67.40,390.81 L67.80,389.71 L68.20,389.23 L68.60,389.39 L69.00,390.18 L69.40,391.55 L69.80,393.44 L70.20,395.75 L70.60,398.37 L71.00,401.18 L71.40,404.06 L71.80,406.91 L72.20,409.62 L72.60,412.13 L73.00,414.39 L73.40,416.35 L73.80,418.01 L74.20,419.38 L74.60,420.49 L75.00,421.35 L75.40,422.01 L75.80,422.50 L76.20,422.88 L76.60,423.16 L77.00,423.39 L77.40,423.59 L77.80,423.77 L78.20,423.94 L78.60,424.10 L79.00,424.27 L79.40,424.44 L79.80,424.59 L80.20,424.74 L80.60,424.87 L81.00,424.99 L81.40,425.09 L81.80,425.17" fill="none" stroke="#30509c" stroke-width="1.15" />
<rect x="33.00" y="377.30" width="49.70" height="48.90" fill="none" stroke="#111" stroke-width="1.25"/>
<line x1="31.40" y1="426.20" x2="33.00" y2="426.20" stroke="#000" stroke-width="0.45" />
<line x1="32.10" y1="421.51" x2="33.00" y2="421.51" stroke="#000" stroke-width="0.45" />
<line x1="31.40" y1="416.82" x2="33.00" y2="416.82" stroke="#000" stroke-width="0.45" />
<line x1="32.10" y1="412.13" x2="33.00" y2="412.13" stroke="#000" stroke-width="0.45" />
<line x1="31.40" y1="407.44" x2="33.00" y2="407.44" stroke="#000" stroke-width="0.45" />
<line x1="32.10" y1="402.75" x2="33.00" y2="402.75" stroke="#000" stroke-width="0.45" />
<line x1="31.40" y1="398.06" x2="33.00" y2="398.06" stroke="#000" stroke-width="0.45" />
<line x1="32.10" y1="393.37" x2="33.00" y2="393.37" stroke="#000" stroke-width="0.45" />
<line x1="31.40" y1="388.68" x2="33.00" y2="388.68" stroke="#000" stroke-width="0.45" />
<line x1="32.10" y1="383.99" x2="33.00" y2="383.99" stroke="#000" stroke-width="0.45" />
<line x1="31.40" y1="379.30" x2="33.00" y2="379.30" stroke="#000" stroke-width="0.45" />
<line x1="36.00" y1="426.20" x2="36.00" y2="427.80" stroke="#000" stroke-width="0.6" />
<line x1="38.75" y1="426.20" x2="38.75" y2="427.10" stroke="#000" stroke-width="0.4" />
<line x1="40.36" y1="426.20" x2="40.36" y2="427.10" stroke="#000" stroke-width="0.4" />
<line x1="41.50" y1="426.20" x2="41.50" y2="427.10" stroke="#000" stroke-width="0.4" />
<line x1="42.39" y1="426.20" x2="42.39" y2="427.10" stroke="#000" stroke-width="0.4" />
<line x1="43.11" y1="426.20" x2="43.11" y2="427.10" stroke="#000" stroke-width="0.4" />
<line x1="43.72" y1="426.20" x2="43.72" y2="427.10" stroke="#000" stroke-width="0.4" />
<line x1="44.25" y1="426.20" x2="44.25" y2="427.10" stroke="#000" stroke-width="0.4" />
<line x1="44.72" y1="426.20" x2="44.72" y2="427.10" stroke="#000" stroke-width="0.4" />
<line x1="45.14" y1="426.20" x2="45.14" y2="427.80" stroke="#000" stroke-width="0.6" />
<line x1="47.89" y1="426.20" x2="47.89" y2="427.10" stroke="#000" stroke-width="0.4" />
<line x1="49.50" y1="426.20" x2="49.50" y2="427.10" stroke="#000" stroke-width="0.4" />
<line x1="50.64" y1="426.20" x2="50.64" y2="427.10" stroke="#000" stroke-width="0.4" />
<line x1="51.53" y1="426.20" x2="51.53" y2="427.10" stroke="#000" stroke-width="0.4" />
<line x1="52.25" y1="426.20" x2="52.25" y2="427.10" stroke="#000" stroke-width="0.4" />
<line x1="52.86" y1="426.20" x2="52.86" y2="427.10" stroke="#000" stroke-width="0.4" />
<line x1="53.39" y1="426.20" x2="53.39" y2="427.10" stroke="#000" stroke-width="0.4" />
<line x1="53.86" y1="426.20" x2="53.86" y2="427.10" stroke="#000" stroke-width="0.4" />
<line x1="54.28" y1="426.20" x2="54.28" y2="427.80" stroke="#000" stroke-width="0.6" />
<line x1="57.03" y1="426.20" x2="57.03" y2="427.10" stroke="#000" stroke-width="0.4" />
<line x1="58.64" y1="426.20" x2="58.64" y2="427.10" stroke="#000" stroke-width="0.4" />
<line x1="59.78" y1="426.20" x2="59.78" y2="427.10" stroke="#000" stroke-width="0.4" />
<line x1="60.67" y1="426.20" x2="60.67" y2="427.10" stroke="#000" stroke-width="0.4" />
<line x1="61.39" y1="426.20" x2="61.39" y2="427.10" stroke="#000" stroke-width="0.4" />
<line x1="62.00" y1="426.20" x2="62.00" y2="427.10" stroke="#000" stroke-width="0.4" />
<line x1="62.53" y1="426.20" x2="62.53" y2="427.10" stroke="#000" stroke-width="0.4" />
<line x1="63.00" y1="426.20" x2="63.00" y2="427.10" stroke="#000" stroke-width="0.4" />
<line x1="63.42" y1="426.20" x2="63.42" y2="427.80" stroke="#000" stroke-width="0.6" />
<line x1="66.17" y1="426.20" x2="66.17" y2="427.10" stroke="#000" stroke-width="0.4" />
<line x1="67.78" y1="426.20" x2="67.78" y2="427.10" stroke="#000" stroke-width="0.4" />
<line x1="68.92" y1="426.20" x2="68.92" y2="427.10" stroke="#000" stroke-width="0.4" />
<line x1="69.81" y1="426.20" x2="69.81" y2="427.10" stroke="#000" stroke-width="0.4" />
<line x1="70.53" y1="426.20" x2="70.53" y2="427.10" stroke="#000" stroke-width="0.4" />
<line x1="71.14" y1="426.20" x2="71.14" y2="427.10" stroke="#000" stroke-width="0.4" />
<line x1="71.67" y1="426.20" x2="71.67" y2="427.10" stroke="#000" stroke-width="0.4" />
<line x1="72.14" y1="426.20" x2="72.14" y2="427.10" stroke="#000" stroke-width="0.4" />
<line x1="72.56" y1="426.20" x2="72.56" y2="427.80" stroke="#000" stroke-width="0.6" />
<line x1="75.31" y1="426.20" x2="75.31" y2="427.10" stroke="#000" stroke-width="0.4" />
<line x1="76.92" y1="426.20" x2="76.92" y2="427.10" stroke="#000" stroke-width="0.4" />
<line x1="78.06" y1="426.20" x2="78.06" y2="427.10" stroke="#000" stroke-width="0.4" />
<line x1="78.95" y1="426.20" x2="78.95" y2="427.10" stroke="#000" stroke-width="0.4" />
<line x1="79.67" y1="426.20" x2="79.67" y2="427.10" stroke="#000" stroke-width="0.4" />
<line x1="80.28" y1="426.20" x2="80.28" y2="427.10" stroke="#000" stroke-width="0.4" />
<line x1="80.81" y1="426.20" x2="80.81" y2="427.10" stroke="#000" stroke-width="0.4" />
<line x1="81.28" y1="426.20" x2="81.28" y2="427.10" stroke="#000" stroke-width="0.4" />
<line x1="33.00" y1="411.50" x2="55.80" y2="411.50" stroke="#777" stroke-width="1.2" />
<line x1="55.80" y1="413.50" x2="82.70" y2="413.50" stroke="#777" stroke-width="1.2" />
<line x1="55.50" y1="410.00" x2="55.50" y2="414.30" stroke="#777" stroke-width="0.9" />
<text x="40.30" y="387.76" font-size="5.6" text-anchor="middle" fill="#231f20" stroke="#231f20" stroke-width="0.1" >46%</text>
<text x="73.50" y="387.76" font-size="5.6" text-anchor="middle" fill="#231f20" stroke="#231f20" stroke-width="0.1" >54%</text>
<text x="23.50" y="434.88" font-size="6.8" text-anchor="middle" fill="#231f20" stroke="#231f20" stroke-width="0.1" >GFP<tspan font-size="4.2" dy="-2.8">-</tspan></text>
<text x="89.00" y="434.88" font-size="6.8" text-anchor="middle" fill="#231f20" stroke="#231f20" stroke-width="0.1" >GFP<tspan font-size="4.2" dy="-2.8">+</tspan></text>
<line x1="47.00" y1="421.50" x2="33.10" y2="441.23" stroke="#111" stroke-width="1.2" />
<path d="M30.80,444.50 L31.30,439.96 L34.90,442.50 Z" fill="#111" stroke="none" stroke-width="1" />
<line x1="68.30" y1="421.50" x2="82.29" y2="441.24" stroke="#111" stroke-width="1.2" />
<path d="M84.60,444.50 L80.49,442.51 L84.08,439.96 Z" fill="#111" stroke="none" stroke-width="1" />
<text x="159.20" y="374.20" font-size="6.3" text-anchor="middle" fill="#231f20" stroke="#231f20" stroke-width="0.1" >shENT1</text>
<text transform="translate(127.85 401.50) rotate(-90) scale(0.6919 1)" font-size="9.0" text-anchor="middle" fill="#231f20" stroke="#231f20" stroke-width="0.1">GFP</text>
<path d="M136.40,425.39 L136.80,425.38 L137.20,425.37 L137.60,425.36 L138.00,425.34 L138.40,425.32 L138.80,425.29 L139.20,425.25 L139.60,425.20 L140.00,425.14 L140.40,425.06 L140.80,424.96 L141.20,424.86 L141.60,424.73 L142.00,424.59 L142.40,424.45 L142.80,424.29 L143.20,424.12 L143.60,423.95 L144.00,423.76 L144.40,423.56 L144.80,423.32 L145.20,423.01 L145.60,422.56 L146.00,421.90 L146.40,420.91 L146.80,419.47 L147.20,417.44 L147.60,414.70 L148.00,411.19 L148.40,406.91 L148.80,402.00 L149.20,396.71 L149.60,391.42 L150.00,386.61 L150.40,382.75 L150.80,380.28 L151.20,379.49 L151.60,380.26 L152.00,382.33 L152.40,385.51 L152.80,389.55 L153.20,394.13 L153.60,398.93 L154.00,403.66 L154.40,408.07 L154.80,411.98 L155.20,415.30 L155.60,418.01 L156.00,420.11 L156.40,421.67 L156.80,422.78 L157.20,423.52 L157.60,423.97 L158.00,424.23 L158.40,424.34 L158.80,424.37 L159.20,424.36 L159.60,424.34 L160.00,424.33 L160.40,424.32 L160.80,424.33 L161.20,424.35 L161.60,424.35 L162.00,424.32 L162.40,424.23 L162.80,424.08 L163.20,423.83 L163.60,423.49 L164.00,423.02 L164.40,422.44 L164.80,421.73 L165.20,420.91 L165.60,419.99 L166.00,418.99 L166.40,417.95 L166.80,416.89 L167.20,415.86 L167.60,414.91 L168.00,414.08 L168.40,413.42 L168.80,412.96 L169.20,412.72 L169.60,412.71 L170.00,412.94 L170.40,413.37 L170.80,414.00 L171.20,414.78 L171.60,415.68 L172.00,416.67 L172.40,417.69 L172.80,418.71 L173.20,419.70 L173.60,420.63 L174.00,421.48 L174.40,422.23 L174.80,422.88 L175.20,423.44 L175.60,423.90 L176.00,424.27 L176.40,424.56 L176.80,424.79 L177.20,424.97 L177.60,425.10 L178.00,425.19 L178.40,425.26 L178.80,425.31 L179.20,425.34 L179.60,425.36 L180.00,425.38 L180.40,425.38 L180.80,425.39 L181.20,425.39 L181.60,425.40 L182.00,425.40 L182.40,425.40 L182.80,425.40 L183.20,425.40 L183.60,425.40 L184.00,425.40" fill="none" stroke="#66b043" stroke-width="1.15" />
<rect x="135.60" y="377.30" width="49.20" height="48.90" fill="none" stroke="#111" stroke-width="1.25"/>
<line x1="134.00" y1="426.20" x2="135.60" y2="426.20" stroke="#000" stroke-width="0.45" />
<line x1="134.70" y1="421.51" x2="135.60" y2="421.51" stroke="#000" stroke-width="0.45" />
<line x1="134.00" y1="416.82" x2="135.60" y2="416.82" stroke="#000" stroke-width="0.45" />
<line x1="134.70" y1="412.13" x2="135.60" y2="412.13" stroke="#000" stroke-width="0.45" />
<line x1="134.00" y1="407.44" x2="135.60" y2="407.44" stroke="#000" stroke-width="0.45" />
<line x1="134.70" y1="402.75" x2="135.60" y2="402.75" stroke="#000" stroke-width="0.45" />
<line x1="134.00" y1="398.06" x2="135.60" y2="398.06" stroke="#000" stroke-width="0.45" />
<line x1="134.70" y1="393.37" x2="135.60" y2="393.37" stroke="#000" stroke-width="0.45" />
<line x1="134.00" y1="388.68" x2="135.60" y2="388.68" stroke="#000" stroke-width="0.45" />
<line x1="134.70" y1="383.99" x2="135.60" y2="383.99" stroke="#000" stroke-width="0.45" />
<line x1="134.00" y1="379.30" x2="135.60" y2="379.30" stroke="#000" stroke-width="0.45" />
<line x1="138.60" y1="426.20" x2="138.60" y2="427.80" stroke="#000" stroke-width="0.6" />
<line x1="141.32" y1="426.20" x2="141.32" y2="427.10" stroke="#000" stroke-width="0.4" />
<line x1="142.91" y1="426.20" x2="142.91" y2="427.10" stroke="#000" stroke-width="0.4" />
<line x1="144.04" y1="426.20" x2="144.04" y2="427.10" stroke="#000" stroke-width="0.4" />
<line x1="144.92" y1="426.20" x2="144.92" y2="427.10" stroke="#000" stroke-width="0.4" />
<line x1="145.63" y1="426.20" x2="145.63" y2="427.10" stroke="#000" stroke-width="0.4" />
<line x1="146.24" y1="426.20" x2="146.24" y2="427.10" stroke="#000" stroke-width="0.4" />
<line x1="146.76" y1="426.20" x2="146.76" y2="427.10" stroke="#000" stroke-width="0.4" />
<line x1="147.23" y1="426.20" x2="147.23" y2="427.10" stroke="#000" stroke-width="0.4" />
<line x1="147.64" y1="426.20" x2="147.64" y2="427.80" stroke="#000" stroke-width="0.6" />
<line x1="150.36" y1="426.20" x2="150.36" y2="427.10" stroke="#000" stroke-width="0.4" />
<line x1="151.95" y1="426.20" x2="151.95" y2="427.10" stroke="#000" stroke-width="0.4" />
<line x1="153.08" y1="426.20" x2="153.08" y2="427.10" stroke="#000" stroke-width="0.4" />
<line x1="153.96" y1="426.20" x2="153.96" y2="427.10" stroke="#000" stroke-width="0.4" />
<line x1="154.67" y1="426.20" x2="154.67" y2="427.10" stroke="#000" stroke-width="0.4" />
<line x1="155.28" y1="426.20" x2="155.28" y2="427.10" stroke="#000" stroke-width="0.4" />
<line x1="155.80" y1="426.20" x2="155.80" y2="427.10" stroke="#000" stroke-width="0.4" />
<line x1="156.27" y1="426.20" x2="156.27" y2="427.10" stroke="#000" stroke-width="0.4" />
<line x1="156.68" y1="426.20" x2="156.68" y2="427.80" stroke="#000" stroke-width="0.6" />
<line x1="159.40" y1="426.20" x2="159.40" y2="427.10" stroke="#000" stroke-width="0.4" />
<line x1="160.99" y1="426.20" x2="160.99" y2="427.10" stroke="#000" stroke-width="0.4" />
<line x1="162.12" y1="426.20" x2="162.12" y2="427.10" stroke="#000" stroke-width="0.4" />
<line x1="163.00" y1="426.20" x2="163.00" y2="427.10" stroke="#000" stroke-width="0.4" />
<line x1="163.71" y1="426.20" x2="163.71" y2="427.10" stroke="#000" stroke-width="0.4" />
<line x1="164.32" y1="426.20" x2="164.32" y2="427.10" stroke="#000" stroke-width="0.4" />
<line x1="164.84" y1="426.20" x2="164.84" y2="427.10" stroke="#000" stroke-width="0.4" />
<line x1="165.31" y1="426.20" x2="165.31" y2="427.10" stroke="#000" stroke-width="0.4" />
<line x1="165.72" y1="426.20" x2="165.72" y2="427.80" stroke="#000" stroke-width="0.6" />
<line x1="168.44" y1="426.20" x2="168.44" y2="427.10" stroke="#000" stroke-width="0.4" />
<line x1="170.03" y1="426.20" x2="170.03" y2="427.10" stroke="#000" stroke-width="0.4" />
<line x1="171.16" y1="426.20" x2="171.16" y2="427.10" stroke="#000" stroke-width="0.4" />
<line x1="172.04" y1="426.20" x2="172.04" y2="427.10" stroke="#000" stroke-width="0.4" />
<line x1="172.75" y1="426.20" x2="172.75" y2="427.10" stroke="#000" stroke-width="0.4" />
<line x1="173.36" y1="426.20" x2="173.36" y2="427.10" stroke="#000" stroke-width="0.4" />
<line x1="173.88" y1="426.20" x2="173.88" y2="427.10" stroke="#000" stroke-width="0.4" />
<line x1="174.35" y1="426.20" x2="174.35" y2="427.10" stroke="#000" stroke-width="0.4" />
<line x1="174.76" y1="426.20" x2="174.76" y2="427.80" stroke="#000" stroke-width="0.6" />
<line x1="177.48" y1="426.20" x2="177.48" y2="427.10" stroke="#000" stroke-width="0.4" />
<line x1="179.07" y1="426.20" x2="179.07" y2="427.10" stroke="#000" stroke-width="0.4" />
<line x1="180.20" y1="426.20" x2="180.20" y2="427.10" stroke="#000" stroke-width="0.4" />
<line x1="181.08" y1="426.20" x2="181.08" y2="427.10" stroke="#000" stroke-width="0.4" />
<line x1="181.79" y1="426.20" x2="181.79" y2="427.10" stroke="#000" stroke-width="0.4" />
<line x1="182.40" y1="426.20" x2="182.40" y2="427.10" stroke="#000" stroke-width="0.4" />
<line x1="182.92" y1="426.20" x2="182.92" y2="427.10" stroke="#000" stroke-width="0.4" />
<line x1="183.39" y1="426.20" x2="183.39" y2="427.10" stroke="#000" stroke-width="0.4" />
<line x1="135.60" y1="411.50" x2="158.70" y2="411.50" stroke="#777" stroke-width="1.2" />
<line x1="158.70" y1="413.50" x2="184.80" y2="413.50" stroke="#777" stroke-width="1.2" />
<line x1="158.50" y1="410.00" x2="158.50" y2="414.30" stroke="#777" stroke-width="0.9" />
<text x="143.40" y="386.56" font-size="5.6" text-anchor="middle" fill="#231f20" stroke="#231f20" stroke-width="0.1" >73%</text>
<text x="177.50" y="408.46" font-size="5.6" text-anchor="middle" fill="#231f20" stroke="#231f20" stroke-width="0.1" >23%</text>
<text x="128.50" y="434.88" font-size="6.8" text-anchor="middle" fill="#231f20" stroke="#231f20" stroke-width="0.1" >GFP<tspan font-size="4.2" dy="-2.8">-</tspan></text>
<text x="194.20" y="434.88" font-size="6.8" text-anchor="middle" fill="#231f20" stroke="#231f20" stroke-width="0.1" >GFP<tspan font-size="4.2" dy="-2.8">+</tspan></text>
<line x1="148.30" y1="421.50" x2="133.68" y2="441.28" stroke="#111" stroke-width="1.2" />
<path d="M131.30,444.50 L131.91,439.98 L135.45,442.59 Z" fill="#111" stroke="none" stroke-width="1" />
<line x1="168.80" y1="421.50" x2="183.60" y2="441.30" stroke="#111" stroke-width="1.2" />
<path d="M186.00,444.50 L181.84,442.61 L185.37,439.98 Z" fill="#111" stroke="none" stroke-width="1" />
<path d="M11.10,493.40 L11.10,493.40 L11.50,493.40 L11.90,493.40 L12.30,493.40 L12.70,493.40 L13.10,493.40 L13.50,493.40 L13.90,493.40 L14.30,493.40 L14.70,493.40 L15.10,493.40 L15.50,493.40 L15.90,493.40 L16.30,493.40 L16.70,493.40 L17.10,493.40 L17.50,493.40 L17.90,493.40 L18.30,493.40 L18.70,493.39 L19.10,493.39 L19.50,493.37 L19.90,493.34 L20.30,493.29 L20.70,493.20 L21.10,493.05 L21.50,492.81 L21.90,492.45 L22.30,491.93 L22.70,491.24 L23.10,490.35 L23.50,489.28 L23.90,488.09 L24.30,486.84 L24.70,485.65 L25.10,484.64 L25.50,483.92 L25.90,483.58 L26.30,483.71 L26.70,484.39 L27.10,485.49 L27.50,486.82 L27.90,488.18 L28.30,489.39 L28.70,490.33 L29.10,490.98 L29.50,491.33 L29.90,491.45 L30.30,491.39 L30.70,491.21 L31.10,490.97 L31.50,490.71 L31.90,490.44 L32.30,490.17 L32.70,489.88 L33.10,489.52 L33.50,489.02 L33.90,488.27 L34.30,487.17 L34.70,485.59 L35.10,483.44 L35.50,480.68 L35.90,477.37 L36.30,473.67 L36.70,469.86 L37.10,466.32 L37.50,463.44 L37.90,461.58 L38.30,461.01 L38.70,461.74 L39.10,463.64 L39.50,466.51 L39.90,470.05 L40.30,473.91 L40.70,477.77 L41.10,481.35 L41.50,484.48 L41.90,487.05 L42.30,489.06 L42.70,490.55 L43.10,491.60 L43.50,492.31 L43.90,492.76 L44.30,493.04 L44.70,493.21 L45.10,493.30 L45.50,493.35 L45.90,493.38 L46.30,493.39 L46.70,493.40 L47.10,493.40 L47.50,493.40 L47.90,493.40 L48.30,493.40 L48.70,493.40 L49.10,493.40 L49.50,493.40 L49.50,493.40 Z" fill="#2a4a88" stroke="none" stroke-width="1" />
<path d="M11.10,493.40 L11.10,491.32 L11.50,490.87 L11.90,490.36 L12.30,489.79 L12.70,489.17 L13.10,488.48 L13.50,487.74 L13.90,486.94 L14.30,486.09 L14.70,485.19 L15.10,484.23 L15.50,483.22 L15.90,482.15 L16.30,481.02 L16.70,479.84 L17.10,478.61 L17.50,477.33 L17.90,476.02 L18.30,474.70 L18.70,473.37 L19.10,472.07 L19.50,470.82 L19.90,469.65 L20.30,468.59 L20.70,467.67 L21.10,466.91 L21.50,466.35 L21.90,466.00 L22.30,465.88 L22.70,466.29 L23.10,467.94 L23.50,470.64 L23.90,474.02 L24.30,477.69 L24.70,481.28 L25.10,484.50 L25.50,487.18 L25.90,489.26 L26.30,490.78 L26.70,491.82 L27.10,492.49 L27.50,492.91 L27.90,493.14 L28.30,493.27 L28.70,493.34 L29.10,493.37 L29.50,493.39 L29.90,493.40 L30.30,493.40 L30.70,493.40 L31.10,493.40 L31.50,493.40 L31.90,493.40 L32.30,493.40 L32.70,493.40 L33.10,493.40 L33.50,493.40 L33.90,493.40 L34.30,493.40 L34.70,493.40 L35.10,493.40 L35.50,493.40 L35.90,493.40 L36.30,493.40 L36.70,493.40 L37.10,493.40 L37.50,493.40 L37.90,493.40 L38.30,493.40 L38.70,493.40 L39.10,493.40 L39.50,493.40 L39.90,493.40 L40.30,493.40 L40.70,493.40 L41.10,493.40 L41.50,493.40 L41.90,493.40 L42.30,493.40 L42.70,493.40 L43.10,493.40 L43.50,493.40 L43.90,493.40 L44.30,493.40 L44.70,493.40 L45.10,493.40 L45.50,493.40 L45.90,493.40 L46.30,493.40 L46.70,493.40 L47.10,493.40 L47.50,493.40 L47.90,493.40 L48.30,493.40 L48.70,493.40 L49.10,493.40 L49.50,493.40 L49.50,493.40 Z" fill="#b6d8a0" stroke="none" stroke-width="1" />
<path d="M11.10,493.40 L11.10,493.40 L11.50,493.40 L11.90,493.40 L12.30,493.40 L12.70,493.40 L13.10,493.40 L13.50,493.40 L13.90,493.40 L14.30,493.40 L14.70,493.40 L15.10,493.40 L15.50,493.40 L15.90,493.40 L16.30,493.40 L16.70,493.40 L17.10,493.40 L17.50,493.40 L17.90,493.40 L18.30,493.40 L18.70,493.39 L19.10,493.39 L19.50,493.37 L19.90,493.34 L20.30,493.29 L20.70,493.20 L21.10,493.05 L21.50,492.81 L21.90,492.45 L22.30,491.93 L22.70,491.24 L23.10,490.35 L23.50,489.28 L23.90,488.09 L24.30,486.84 L24.70,485.65 L25.10,484.64 L25.50,487.18 L25.90,489.26 L26.30,490.78 L26.70,491.82 L27.10,492.49 L27.50,492.91 L27.90,493.14 L28.30,493.27 L28.70,493.34 L29.10,493.37 L29.50,493.39 L29.90,493.40 L30.30,493.40 L30.70,493.40 L31.10,493.40 L31.50,493.40 L31.90,493.40 L32.30,493.40 L32.70,493.40 L33.10,493.40 L33.50,493.40 L33.90,493.40 L34.30,493.40 L34.70,493.40 L35.10,493.40 L35.50,493.40 L35.90,493.40 L36.30,493.40 L36.70,493.40 L37.10,493.40 L37.50,493.40 L37.90,493.40 L38.30,493.40 L38.70,493.40 L39.10,493.40 L39.50,493.40 L39.90,493.40 L40.30,493.40 L40.70,493.40 L41.10,493.40 L41.50,493.40 L41.90,493.40 L42.30,493.40 L42.70,493.40 L43.10,493.40 L43.50,493.40 L43.90,493.40 L44.30,493.40 L44.70,493.40 L45.10,493.40 L45.50,493.40 L45.90,493.40 L46.30,493.40 L46.70,493.40 L47.10,493.40 L47.50,493.40 L47.90,493.40 L48.30,493.40 L48.70,493.40 L49.10,493.40 L49.50,493.40 L49.50,493.40 Z" fill="#3f6d4c" stroke="none" stroke-width="1" />
<path d="M11.10,491.32 L11.50,490.87 L11.90,490.36 L12.30,489.79 L12.70,489.17 L13.10,488.48 L13.50,487.74 L13.90,486.94 L14.30,486.09 L14.70,485.19 L15.10,484.23 L15.50,483.22 L15.90,482.15 L16.30,481.02 L16.70,479.84 L17.10,478.61 L17.50,477.33 L17.90,476.02 L18.30,474.70 L18.70,473.37 L19.10,472.07 L19.50,470.82 L19.90,469.65 L20.30,468.59 L20.70,467.67 L21.10,466.91 L21.50,466.35 L21.90,466.00 L22.30,465.88 L22.70,466.29 L23.10,467.94 L23.50,470.64 L23.90,474.02 L24.30,477.69 L24.70,481.28 L25.10,484.50 L25.50,487.18 L25.90,489.26 L26.30,490.78 L26.70,491.82 L27.10,492.49 L27.50,492.91 L27.90,493.14 L28.30,493.27 L28.70,493.34 L29.10,493.37 L29.50,493.39 L29.90,493.40 L30.30,493.40 L30.70,493.40 L31.10,493.40 L31.50,493.40 L31.90,493.40 L32.30,493.40 L32.70,493.40 L33.10,493.40 L33.50,493.40 L33.90,493.40 L34.30,493.40 L34.70,493.40 L35.10,493.40 L35.50,493.40 L35.90,493.40 L36.30,493.40 L36.70,493.40 L37.10,493.40 L37.50,493.40 L37.90,493.40 L38.30,493.40 L38.70,493.40 L39.10,493.40 L39.50,493.40 L39.90,493.40 L40.30,493.40 L40.70,493.40 L41.10,493.40 L41.50,493.40 L41.90,493.40 L42.30,493.40 L42.70,493.40 L43.10,493.40 L43.50,493.40 L43.90,493.40 L44.30,493.40 L44.70,493.40 L45.10,493.40 L45.50,493.40 L45.90,493.40 L46.30,493.40 L46.70,493.40 L47.10,493.40 L47.50,493.40 L47.90,493.40 L48.30,493.40 L48.70,493.40 L49.10,493.40 L49.50,493.40" fill="none" stroke="#6cb049" stroke-width="0.6" />
<rect x="10.50" y="454.30" width="39.70" height="39.10" fill="none" stroke="#111" stroke-width="1.25"/>
<line x1="8.90" y1="493.40" x2="10.50" y2="493.40" stroke="#000" stroke-width="0.45" />
<line x1="9.60" y1="489.69" x2="10.50" y2="489.69" stroke="#000" stroke-width="0.45" />
<line x1="8.90" y1="485.98" x2="10.50" y2="485.98" stroke="#000" stroke-width="0.45" />
<line x1="9.60" y1="482.27" x2="10.50" y2="482.27" stroke="#000" stroke-width="0.45" />
<line x1="8.90" y1="478.56" x2="10.50" y2="478.56" stroke="#000" stroke-width="0.45" />
<line x1="9.60" y1="474.85" x2="10.50" y2="474.85" stroke="#000" stroke-width="0.45" />
<line x1="8.90" y1="471.14" x2="10.50" y2="471.14" stroke="#000" stroke-width="0.45" />
<line x1="9.60" y1="467.43" x2="10.50" y2="467.43" stroke="#000" stroke-width="0.45" />
<line x1="8.90" y1="463.72" x2="10.50" y2="463.72" stroke="#000" stroke-width="0.45" />
<line x1="9.60" y1="460.01" x2="10.50" y2="460.01" stroke="#000" stroke-width="0.45" />
<line x1="8.90" y1="456.30" x2="10.50" y2="456.30" stroke="#000" stroke-width="0.45" />
<line x1="13.50" y1="493.40" x2="13.50" y2="495.00" stroke="#000" stroke-width="0.6" />
<line x1="15.65" y1="493.40" x2="15.65" y2="494.30" stroke="#000" stroke-width="0.4" />
<line x1="16.91" y1="493.40" x2="16.91" y2="494.30" stroke="#000" stroke-width="0.4" />
<line x1="17.80" y1="493.40" x2="17.80" y2="494.30" stroke="#000" stroke-width="0.4" />
<line x1="18.49" y1="493.40" x2="18.49" y2="494.30" stroke="#000" stroke-width="0.4" />
<line x1="19.06" y1="493.40" x2="19.06" y2="494.30" stroke="#000" stroke-width="0.4" />
<line x1="19.53" y1="493.40" x2="19.53" y2="494.30" stroke="#000" stroke-width="0.4" />
<line x1="19.95" y1="493.40" x2="19.95" y2="494.30" stroke="#000" stroke-width="0.4" />
<line x1="20.31" y1="493.40" x2="20.31" y2="494.30" stroke="#000" stroke-width="0.4" />
<line x1="20.64" y1="493.40" x2="20.64" y2="495.00" stroke="#000" stroke-width="0.6" />
<line x1="22.79" y1="493.40" x2="22.79" y2="494.30" stroke="#000" stroke-width="0.4" />
<line x1="24.05" y1="493.40" x2="24.05" y2="494.30" stroke="#000" stroke-width="0.4" />
<line x1="24.94" y1="493.40" x2="24.94" y2="494.30" stroke="#000" stroke-width="0.4" />
<line x1="25.63" y1="493.40" x2="25.63" y2="494.30" stroke="#000" stroke-width="0.4" />
<line x1="26.20" y1="493.40" x2="26.20" y2="494.30" stroke="#000" stroke-width="0.4" />
<line x1="26.67" y1="493.40" x2="26.67" y2="494.30" stroke="#000" stroke-width="0.4" />
<line x1="27.09" y1="493.40" x2="27.09" y2="494.30" stroke="#000" stroke-width="0.4" />
<line x1="27.45" y1="493.40" x2="27.45" y2="494.30" stroke="#000" stroke-width="0.4" />
<line x1="27.78" y1="493.40" x2="27.78" y2="495.00" stroke="#000" stroke-width="0.6" />
<line x1="29.93" y1="493.40" x2="29.93" y2="494.30" stroke="#000" stroke-width="0.4" />
<line x1="31.19" y1="493.40" x2="31.19" y2="494.30" stroke="#000" stroke-width="0.4" />
<line x1="32.08" y1="493.40" x2="32.08" y2="494.30" stroke="#000" stroke-width="0.4" />
<line x1="32.77" y1="493.40" x2="32.77" y2="494.30" stroke="#000" stroke-width="0.4" />
<line x1="33.34" y1="493.40" x2="33.34" y2="494.30" stroke="#000" stroke-width="0.4" />
<line x1="33.81" y1="493.40" x2="33.81" y2="494.30" stroke="#000" stroke-width="0.4" />
<line x1="34.23" y1="493.40" x2="34.23" y2="494.30" stroke="#000" stroke-width="0.4" />
<line x1="34.59" y1="493.40" x2="34.59" y2="494.30" stroke="#000" stroke-width="0.4" />
<line x1="34.92" y1="493.40" x2="34.92" y2="495.00" stroke="#000" stroke-width="0.6" />
<line x1="37.07" y1="493.40" x2="37.07" y2="494.30" stroke="#000" stroke-width="0.4" />
<line x1="38.33" y1="493.40" x2="38.33" y2="494.30" stroke="#000" stroke-width="0.4" />
<line x1="39.22" y1="493.40" x2="39.22" y2="494.30" stroke="#000" stroke-width="0.4" />
<line x1="39.91" y1="493.40" x2="39.91" y2="494.30" stroke="#000" stroke-width="0.4" />
<line x1="40.48" y1="493.40" x2="40.48" y2="494.30" stroke="#000" stroke-width="0.4" />
<line x1="40.95" y1="493.40" x2="40.95" y2="494.30" stroke="#000" stroke-width="0.4" />
<line x1="41.37" y1="493.40" x2="41.37" y2="494.30" stroke="#000" stroke-width="0.4" />
<line x1="41.73" y1="493.40" x2="41.73" y2="494.30" stroke="#000" stroke-width="0.4" />
<line x1="42.06" y1="493.40" x2="42.06" y2="495.00" stroke="#000" stroke-width="0.6" />
<line x1="44.21" y1="493.40" x2="44.21" y2="494.30" stroke="#000" stroke-width="0.4" />
<line x1="45.47" y1="493.40" x2="45.47" y2="494.30" stroke="#000" stroke-width="0.4" />
<line x1="46.36" y1="493.40" x2="46.36" y2="494.30" stroke="#000" stroke-width="0.4" />
<line x1="47.05" y1="493.40" x2="47.05" y2="494.30" stroke="#000" stroke-width="0.4" />
<line x1="47.62" y1="493.40" x2="47.62" y2="494.30" stroke="#000" stroke-width="0.4" />
<line x1="48.09" y1="493.40" x2="48.09" y2="494.30" stroke="#000" stroke-width="0.4" />
<line x1="48.51" y1="493.40" x2="48.51" y2="494.30" stroke="#000" stroke-width="0.4" />
<line x1="48.87" y1="493.40" x2="48.87" y2="494.30" stroke="#000" stroke-width="0.4" />
<line x1="31.20" y1="470.50" x2="50.20" y2="470.50" stroke="#222" stroke-width="0.8" />
<line x1="31.20" y1="469.30" x2="31.20" y2="471.70" stroke="#222" stroke-width="0.7" />
<text x="29.60" y="462.96" font-size="5.6" text-anchor="middle" fill="#231f20" stroke="#231f20" stroke-width="0.1" >60%</text>
<path d="M63.95,493.40 L63.95,493.40 L64.35,493.40 L64.75,493.40 L65.15,493.40 L65.55,493.40 L65.95,493.40 L66.35,493.40 L66.75,493.40 L67.15,493.40 L67.55,493.40 L67.95,493.40 L68.35,493.40 L68.75,493.40 L69.15,493.40 L69.55,493.40 L69.95,493.40 L70.35,493.40 L70.75,493.40 L71.15,493.40 L71.55,493.39 L71.95,493.39 L72.35,493.38 L72.75,493.35 L73.15,493.31 L73.55,493.24 L73.95,493.12 L74.35,492.93 L74.75,492.64 L75.15,492.21 L75.55,491.62 L75.95,490.84 L76.35,489.86 L76.75,488.69 L77.15,487.38 L77.55,486.01 L77.95,484.68 L78.35,483.51 L78.75,482.63 L79.15,482.13 L79.55,482.07 L79.95,482.65 L80.35,483.80 L80.75,485.32 L81.15,486.96 L81.55,488.51 L81.95,489.81 L82.35,490.77 L82.75,491.40 L83.15,491.72 L83.55,491.80 L83.95,491.71 L84.35,491.52 L84.75,491.27 L85.15,491.00 L85.55,490.73 L85.95,490.48 L86.35,490.25 L86.75,490.00 L87.15,489.67 L87.55,489.16 L87.95,488.28 L88.35,486.85 L88.75,484.66 L89.15,481.58 L89.55,477.59 L89.95,472.92 L90.35,468.02 L90.75,463.54 L91.15,460.18 L91.55,458.55 L91.95,458.97 L92.35,461.40 L92.75,465.44 L93.15,470.43 L93.55,475.66 L93.95,480.53 L94.35,484.63 L94.75,487.78 L95.15,490.02 L95.55,491.49 L95.95,492.38 L96.35,492.89 L96.75,493.16 L97.15,493.30 L97.55,493.36 L97.95,493.38 L98.35,493.39 L98.75,493.40 L99.15,493.40 L99.55,493.40 L99.95,493.40 L100.35,493.40 L100.75,493.40 L101.15,493.40 L101.55,493.40 L101.95,493.40 L102.35,493.40 L102.35,493.40 Z" fill="#2a4a88" stroke="none" stroke-width="1" />
<path d="M63.95,493.40 L63.95,491.83 L64.35,491.47 L64.75,491.07 L65.15,490.62 L65.55,490.12 L65.95,489.56 L66.35,488.95 L66.75,488.27 L67.15,487.53 L67.55,486.71 L67.95,485.82 L68.35,484.83 L68.75,483.75 L69.15,482.56 L69.55,481.25 L69.95,479.83 L70.35,478.30 L70.75,476.67 L71.15,474.95 L71.55,473.17 L71.95,471.36 L72.35,469.57 L72.75,467.83 L73.15,466.20 L73.55,464.73 L73.95,463.46 L74.35,462.44 L74.75,461.71 L75.15,461.29 L75.55,461.22 L75.95,462.13 L76.35,464.33 L76.75,467.53 L77.15,471.38 L77.55,475.47 L77.95,479.43 L78.35,482.98 L78.75,485.97 L79.15,488.33 L79.55,490.09 L79.95,491.33 L80.35,492.17 L80.75,492.69 L81.15,493.01 L81.55,493.20 L81.95,493.30 L82.35,493.35 L82.75,493.38 L83.15,493.39 L83.55,493.40 L83.95,493.40 L84.35,493.40 L84.75,493.40 L85.15,493.40 L85.55,493.40 L85.95,493.40 L86.35,493.40 L86.75,493.40 L87.15,493.40 L87.55,493.40 L87.95,493.40 L88.35,493.40 L88.75,493.40 L89.15,493.40 L89.55,493.40 L89.95,493.40 L90.35,493.40 L90.75,493.40 L91.15,493.40 L91.55,493.40 L91.95,493.40 L92.35,493.40 L92.75,493.40 L93.15,493.40 L93.55,493.40 L93.95,493.40 L94.35,493.40 L94.75,493.40 L95.15,493.40 L95.55,493.40 L95.95,493.40 L96.35,493.40 L96.75,493.40 L97.15,493.40 L97.55,493.40 L97.95,493.40 L98.35,493.40 L98.75,493.40 L99.15,493.40 L99.55,493.40 L99.95,493.40 L100.35,493.40 L100.75,493.40 L101.15,493.40 L101.55,493.40 L101.95,493.40 L102.35,493.40 L102.35,493.40 Z" fill="#b6d8a0" stroke="none" stroke-width="1" />
<path d="M63.95,493.40 L63.95,493.40 L64.35,493.40 L64.75,493.40 L65.15,493.40 L65.55,493.40 L65.95,493.40 L66.35,493.40 L66.75,493.40 L67.15,493.40 L67.55,493.40 L67.95,493.40 L68.35,493.40 L68.75,493.40 L69.15,493.40 L69.55,493.40 L69.95,493.40 L70.35,493.40 L70.75,493.40 L71.15,493.40 L71.55,493.39 L71.95,493.39 L72.35,493.38 L72.75,493.35 L73.15,493.31 L73.55,493.24 L73.95,493.12 L74.35,492.93 L74.75,492.64 L75.15,492.21 L75.55,491.62 L75.95,490.84 L76.35,489.86 L76.75,488.69 L77.15,487.38 L77.55,486.01 L77.95,484.68 L78.35,483.51 L78.75,485.97 L79.15,488.33 L79.55,490.09 L79.95,491.33 L80.35,492.17 L80.75,492.69 L81.15,493.01 L81.55,493.20 L81.95,493.30 L82.35,493.35 L82.75,493.38 L83.15,493.39 L83.55,493.40 L83.95,493.40 L84.35,493.40 L84.75,493.40 L85.15,493.40 L85.55,493.40 L85.95,493.40 L86.35,493.40 L86.75,493.40 L87.15,493.40 L87.55,493.40 L87.95,493.40 L88.35,493.40 L88.75,493.40 L89.15,493.40 L89.55,493.40 L89.95,493.40 L90.35,493.40 L90.75,493.40 L91.15,493.40 L91.55,493.40 L91.95,493.40 L92.35,493.40 L92.75,493.40 L93.15,493.40 L93.55,493.40 L93.95,493.40 L94.35,493.40 L94.75,493.40 L95.15,493.40 L95.55,493.40 L95.95,493.40 L96.35,493.40 L96.75,493.40 L97.15,493.40 L97.55,493.40 L97.95,493.40 L98.35,493.40 L98.75,493.40 L99.15,493.40 L99.55,493.40 L99.95,493.40 L100.35,493.40 L100.75,493.40 L101.15,493.40 L101.55,493.40 L101.95,493.40 L102.35,493.40 L102.35,493.40 Z" fill="#3f6d4c" stroke="none" stroke-width="1" />
<path d="M63.95,491.83 L64.35,491.47 L64.75,491.07 L65.15,490.62 L65.55,490.12 L65.95,489.56 L66.35,488.95 L66.75,488.27 L67.15,487.53 L67.55,486.71 L67.95,485.82 L68.35,484.83 L68.75,483.75 L69.15,482.56 L69.55,481.25 L69.95,479.83 L70.35,478.30 L70.75,476.67 L71.15,474.95 L71.55,473.17 L71.95,471.36 L72.35,469.57 L72.75,467.83 L73.15,466.20 L73.55,464.73 L73.95,463.46 L74.35,462.44 L74.75,461.71 L75.15,461.29 L75.55,461.22 L75.95,462.13 L76.35,464.33 L76.75,467.53 L77.15,471.38 L77.55,475.47 L77.95,479.43 L78.35,482.98 L78.75,485.97 L79.15,488.33 L79.55,490.09 L79.95,491.33 L80.35,492.17 L80.75,492.69 L81.15,493.01 L81.55,493.20 L81.95,493.30 L82.35,493.35 L82.75,493.38 L83.15,493.39 L83.55,493.40 L83.95,493.40 L84.35,493.40 L84.75,493.40 L85.15,493.40 L85.55,493.40 L85.95,493.40 L86.35,493.40 L86.75,493.40 L87.15,493.40 L87.55,493.40 L87.95,493.40 L88.35,493.40 L88.75,493.40 L89.15,493.40 L89.55,493.40 L89.95,493.40 L90.35,493.40 L90.75,493.40 L91.15,493.40 L91.55,493.40 L91.95,493.40 L92.35,493.40 L92.75,493.40 L93.15,493.40 L93.55,493.40 L93.95,493.40 L94.35,493.40 L94.75,493.40 L95.15,493.40 L95.55,493.40 L95.95,493.40 L96.35,493.40 L96.75,493.40 L97.15,493.40 L97.55,493.40 L97.95,493.40 L98.35,493.40 L98.75,493.40 L99.15,493.40 L99.55,493.40 L99.95,493.40 L100.35,493.40 L100.75,493.40 L101.15,493.40 L101.55,493.40 L101.95,493.40 L102.35,493.40" fill="none" stroke="#6cb049" stroke-width="0.6" />
<rect x="63.35" y="454.30" width="39.65" height="39.10" fill="none" stroke="#111" stroke-width="1.25"/>
<line x1="61.75" y1="493.40" x2="63.35" y2="493.40" stroke="#000" stroke-width="0.45" />
<line x1="62.45" y1="489.69" x2="63.35" y2="489.69" stroke="#000" stroke-width="0.45" />
<line x1="61.75" y1="485.98" x2="63.35" y2="485.98" stroke="#000" stroke-width="0.45" />
<line x1="62.45" y1="482.27" x2="63.35" y2="482.27" stroke="#000" stroke-width="0.45" />
<line x1="61.75" y1="478.56" x2="63.35" y2="478.56" stroke="#000" stroke-width="0.45" />
<line x1="62.45" y1="474.85" x2="63.35" y2="474.85" stroke="#000" stroke-width="0.45" />
<line x1="61.75" y1="471.14" x2="63.35" y2="471.14" stroke="#000" stroke-width="0.45" />
<line x1="62.45" y1="467.43" x2="63.35" y2="467.43" stroke="#000" stroke-width="0.45" />
<line x1="61.75" y1="463.72" x2="63.35" y2="463.72" stroke="#000" stroke-width="0.45" />
<line x1="62.45" y1="460.01" x2="63.35" y2="460.01" stroke="#000" stroke-width="0.45" />
<line x1="61.75" y1="456.30" x2="63.35" y2="456.30" stroke="#000" stroke-width="0.45" />
<line x1="66.35" y1="493.40" x2="66.35" y2="495.00" stroke="#000" stroke-width="0.6" />
<line x1="68.50" y1="493.40" x2="68.50" y2="494.30" stroke="#000" stroke-width="0.4" />
<line x1="69.75" y1="493.40" x2="69.75" y2="494.30" stroke="#000" stroke-width="0.4" />
<line x1="70.64" y1="493.40" x2="70.64" y2="494.30" stroke="#000" stroke-width="0.4" />
<line x1="71.33" y1="493.40" x2="71.33" y2="494.30" stroke="#000" stroke-width="0.4" />
<line x1="71.90" y1="493.40" x2="71.90" y2="494.30" stroke="#000" stroke-width="0.4" />
<line x1="72.38" y1="493.40" x2="72.38" y2="494.30" stroke="#000" stroke-width="0.4" />
<line x1="72.79" y1="493.40" x2="72.79" y2="494.30" stroke="#000" stroke-width="0.4" />
<line x1="73.15" y1="493.40" x2="73.15" y2="494.30" stroke="#000" stroke-width="0.4" />
<line x1="73.48" y1="493.40" x2="73.48" y2="495.00" stroke="#000" stroke-width="0.6" />
<line x1="75.63" y1="493.40" x2="75.63" y2="494.30" stroke="#000" stroke-width="0.4" />
<line x1="76.88" y1="493.40" x2="76.88" y2="494.30" stroke="#000" stroke-width="0.4" />
<line x1="77.77" y1="493.40" x2="77.77" y2="494.30" stroke="#000" stroke-width="0.4" />
<line x1="78.46" y1="493.40" x2="78.46" y2="494.30" stroke="#000" stroke-width="0.4" />
<line x1="79.03" y1="493.40" x2="79.03" y2="494.30" stroke="#000" stroke-width="0.4" />
<line x1="79.51" y1="493.40" x2="79.51" y2="494.30" stroke="#000" stroke-width="0.4" />
<line x1="79.92" y1="493.40" x2="79.92" y2="494.30" stroke="#000" stroke-width="0.4" />
<line x1="80.28" y1="493.40" x2="80.28" y2="494.30" stroke="#000" stroke-width="0.4" />
<line x1="80.61" y1="493.40" x2="80.61" y2="495.00" stroke="#000" stroke-width="0.6" />
<line x1="82.76" y1="493.40" x2="82.76" y2="494.30" stroke="#000" stroke-width="0.4" />
<line x1="84.01" y1="493.40" x2="84.01" y2="494.30" stroke="#000" stroke-width="0.4" />
<line x1="84.90" y1="493.40" x2="84.90" y2="494.30" stroke="#000" stroke-width="0.4" />
<line x1="85.59" y1="493.40" x2="85.59" y2="494.30" stroke="#000" stroke-width="0.4" />
<line x1="86.16" y1="493.40" x2="86.16" y2="494.30" stroke="#000" stroke-width="0.4" />
<line x1="86.64" y1="493.40" x2="86.64" y2="494.30" stroke="#000" stroke-width="0.4" />
<line x1="87.05" y1="493.40" x2="87.05" y2="494.30" stroke="#000" stroke-width="0.4" />
<line x1="87.41" y1="493.40" x2="87.41" y2="494.30" stroke="#000" stroke-width="0.4" />
<line x1="87.74" y1="493.40" x2="87.74" y2="495.00" stroke="#000" stroke-width="0.6" />
<line x1="89.89" y1="493.40" x2="89.89" y2="494.30" stroke="#000" stroke-width="0.4" />
<line x1="91.14" y1="493.40" x2="91.14" y2="494.30" stroke="#000" stroke-width="0.4" />
<line x1="92.03" y1="493.40" x2="92.03" y2="494.30" stroke="#000" stroke-width="0.4" />
<line x1="92.72" y1="493.40" x2="92.72" y2="494.30" stroke="#000" stroke-width="0.4" />
<line x1="93.29" y1="493.40" x2="93.29" y2="494.30" stroke="#000" stroke-width="0.4" />
<line x1="93.77" y1="493.40" x2="93.77" y2="494.30" stroke="#000" stroke-width="0.4" />
<line x1="94.18" y1="493.40" x2="94.18" y2="494.30" stroke="#000" stroke-width="0.4" />
<line x1="94.54" y1="493.40" x2="94.54" y2="494.30" stroke="#000" stroke-width="0.4" />
<line x1="94.87" y1="493.40" x2="94.87" y2="495.00" stroke="#000" stroke-width="0.6" />
<line x1="97.02" y1="493.40" x2="97.02" y2="494.30" stroke="#000" stroke-width="0.4" />
<line x1="98.27" y1="493.40" x2="98.27" y2="494.30" stroke="#000" stroke-width="0.4" />
<line x1="99.16" y1="493.40" x2="99.16" y2="494.30" stroke="#000" stroke-width="0.4" />
<line x1="99.85" y1="493.40" x2="99.85" y2="494.30" stroke="#000" stroke-width="0.4" />
<line x1="100.42" y1="493.40" x2="100.42" y2="494.30" stroke="#000" stroke-width="0.4" />
<line x1="100.90" y1="493.40" x2="100.90" y2="494.30" stroke="#000" stroke-width="0.4" />
<line x1="101.31" y1="493.40" x2="101.31" y2="494.30" stroke="#000" stroke-width="0.4" />
<line x1="101.67" y1="493.40" x2="101.67" y2="494.30" stroke="#000" stroke-width="0.4" />
<line x1="83.40" y1="470.50" x2="103.00" y2="470.50" stroke="#222" stroke-width="0.8" />
<line x1="83.40" y1="469.30" x2="83.40" y2="471.70" stroke="#222" stroke-width="0.7" />
<text x="81.70" y="462.96" font-size="5.6" text-anchor="middle" fill="#231f20" stroke="#231f20" stroke-width="0.1" >63%</text>
<path d="M116.60,493.40 L116.60,493.40 L117.00,493.40 L117.40,493.40 L117.80,493.40 L118.20,493.40 L118.60,493.40 L119.00,493.40 L119.40,493.40 L119.80,493.40 L120.20,493.40 L120.60,493.40 L121.00,493.40 L121.40,493.40 L121.80,493.40 L122.20,493.40 L122.60,493.40 L123.00,493.40 L123.40,493.39 L123.80,493.38 L124.20,493.36 L124.60,493.33 L125.00,493.27 L125.40,493.18 L125.80,493.02 L126.20,492.78 L126.60,492.43 L127.00,491.94 L127.40,491.29 L127.80,490.46 L128.20,489.47 L128.60,488.35 L129.00,487.17 L129.40,486.01 L129.80,484.98 L130.20,484.18 L130.60,483.70 L131.00,483.58 L131.40,483.99 L131.80,484.91 L132.20,486.16 L132.60,487.54 L133.00,488.85 L133.40,489.94 L133.80,490.74 L134.20,491.25 L134.60,491.48 L135.00,491.50 L135.40,491.36 L135.80,491.12 L136.20,490.82 L136.60,490.47 L137.00,490.06 L137.40,489.57 L137.80,488.93 L138.20,488.08 L138.60,486.91 L139.00,485.31 L139.40,483.20 L139.80,480.52 L140.20,477.29 L140.60,473.62 L141.00,469.72 L141.40,465.89 L141.80,462.50 L142.20,459.91 L142.60,458.41 L143.00,458.24 L143.40,459.77 L143.80,462.94 L144.20,467.28 L144.60,472.20 L145.00,477.11 L145.40,481.56 L145.80,485.25 L146.20,488.10 L146.60,490.13 L147.00,491.50 L147.40,492.35 L147.80,492.85 L148.20,493.13 L148.60,493.27 L149.00,493.34 L149.40,493.38 L149.80,493.39 L150.20,493.40 L150.60,493.40 L151.00,493.40 L151.40,493.40 L151.80,493.40 L152.20,493.40 L152.60,493.40 L153.00,493.40 L153.40,493.40 L153.80,493.40 L154.20,493.40 L154.60,493.40 L154.60,493.40 Z" fill="#2a4a88" stroke="none" stroke-width="1" />
<path d="M116.60,493.40 L116.60,490.73 L117.00,490.17 L117.40,489.54 L117.80,488.83 L118.20,488.04 L118.60,487.16 L119.00,486.21 L119.40,485.16 L119.80,484.03 L120.20,482.81 L120.60,481.49 L121.00,480.09 L121.40,478.60 L121.80,477.04 L122.20,475.41 L122.60,473.74 L123.00,472.04 L123.40,470.36 L123.80,468.73 L124.20,467.18 L124.60,465.76 L125.00,464.50 L125.40,463.45 L125.80,462.65 L126.20,462.12 L126.60,461.88 L127.00,462.07 L127.40,463.35 L127.80,465.69 L128.20,468.84 L128.60,472.49 L129.00,476.28 L129.40,479.94 L129.80,483.23 L130.20,486.02 L130.60,488.25 L131.00,489.95 L131.40,491.18 L131.80,492.02 L132.20,492.58 L132.60,492.93 L133.00,493.14 L133.40,493.26 L133.80,493.33 L134.20,493.37 L134.60,493.38 L135.00,493.39 L135.40,493.40 L135.80,493.40 L136.20,493.40 L136.60,493.40 L137.00,493.40 L137.40,493.40 L137.80,493.40 L138.20,493.40 L138.60,493.40 L139.00,493.40 L139.40,493.40 L139.80,493.40 L140.20,493.40 L140.60,493.40 L141.00,493.40 L141.40,493.40 L141.80,493.40 L142.20,493.40 L142.60,493.40 L143.00,493.40 L143.40,493.40 L143.80,493.40 L144.20,493.40 L144.60,493.40 L145.00,493.40 L145.40,493.40 L145.80,493.40 L146.20,493.40 L146.60,493.40 L147.00,493.40 L147.40,493.40 L147.80,493.40 L148.20,493.40 L148.60,493.40 L149.00,493.40 L149.40,493.40 L149.80,493.40 L150.20,493.40 L150.60,493.40 L151.00,493.40 L151.40,493.40 L151.80,493.40 L152.20,493.40 L152.60,493.40 L153.00,493.40 L153.40,493.40 L153.80,493.40 L154.20,493.40 L154.60,493.40 L154.60,493.40 Z" fill="#b6d8a0" stroke="none" stroke-width="1" />
<path d="M116.60,493.40 L116.60,493.40 L117.00,493.40 L117.40,493.40 L117.80,493.40 L118.20,493.40 L118.60,493.40 L119.00,493.40 L119.40,493.40 L119.80,493.40 L120.20,493.40 L120.60,493.40 L121.00,493.40 L121.40,493.40 L121.80,493.40 L122.20,493.40 L122.60,493.40 L123.00,493.40 L123.40,493.39 L123.80,493.38 L124.20,493.36 L124.60,493.33 L125.00,493.27 L125.40,493.18 L125.80,493.02 L126.20,492.78 L126.60,492.43 L127.00,491.94 L127.40,491.29 L127.80,490.46 L128.20,489.47 L128.60,488.35 L129.00,487.17 L129.40,486.01 L129.80,484.98 L130.20,486.02 L130.60,488.25 L131.00,489.95 L131.40,491.18 L131.80,492.02 L132.20,492.58 L132.60,492.93 L133.00,493.14 L133.40,493.26 L133.80,493.33 L134.20,493.37 L134.60,493.38 L135.00,493.39 L135.40,493.40 L135.80,493.40 L136.20,493.40 L136.60,493.40 L137.00,493.40 L137.40,493.40 L137.80,493.40 L138.20,493.40 L138.60,493.40 L139.00,493.40 L139.40,493.40 L139.80,493.40 L140.20,493.40 L140.60,493.40 L141.00,493.40 L141.40,493.40 L141.80,493.40 L142.20,493.40 L142.60,493.40 L143.00,493.40 L143.40,493.40 L143.80,493.40 L144.20,493.40 L144.60,493.40 L145.00,493.40 L145.40,493.40 L145.80,493.40 L146.20,493.40 L146.60,493.40 L147.00,493.40 L147.40,493.40 L147.80,493.40 L148.20,493.40 L148.60,493.40 L149.00,493.40 L149.40,493.40 L149.80,493.40 L150.20,493.40 L150.60,493.40 L151.00,493.40 L151.40,493.40 L151.80,493.40 L152.20,493.40 L152.60,493.40 L153.00,493.40 L153.40,493.40 L153.80,493.40 L154.20,493.40 L154.60,493.40 L154.60,493.40 Z" fill="#3f6d4c" stroke="none" stroke-width="1" />
<path d="M116.60,490.73 L117.00,490.17 L117.40,489.54 L117.80,488.83 L118.20,488.04 L118.60,487.16 L119.00,486.21 L119.40,485.16 L119.80,484.03 L120.20,482.81 L120.60,481.49 L121.00,480.09 L121.40,478.60 L121.80,477.04 L122.20,475.41 L122.60,473.74 L123.00,472.04 L123.40,470.36 L123.80,468.73 L124.20,467.18 L124.60,465.76 L125.00,464.50 L125.40,463.45 L125.80,462.65 L126.20,462.12 L126.60,461.88 L127.00,462.07 L127.40,463.35 L127.80,465.69 L128.20,468.84 L128.60,472.49 L129.00,476.28 L129.40,479.94 L129.80,483.23 L130.20,486.02 L130.60,488.25 L131.00,489.95 L131.40,491.18 L131.80,492.02 L132.20,492.58 L132.60,492.93 L133.00,493.14 L133.40,493.26 L133.80,493.33 L134.20,493.37 L134.60,493.38 L135.00,493.39 L135.40,493.40 L135.80,493.40 L136.20,493.40 L136.60,493.40 L137.00,493.40 L137.40,493.40 L137.80,493.40 L138.20,493.40 L138.60,493.40 L139.00,493.40 L139.40,493.40 L139.80,493.40 L140.20,493.40 L140.60,493.40 L141.00,493.40 L141.40,493.40 L141.80,493.40 L142.20,493.40 L142.60,493.40 L143.00,493.40 L143.40,493.40 L143.80,493.40 L144.20,493.40 L144.60,493.40 L145.00,493.40 L145.40,493.40 L145.80,493.40 L146.20,493.40 L146.60,493.40 L147.00,493.40 L147.40,493.40 L147.80,493.40 L148.20,493.40 L148.60,493.40 L149.00,493.40 L149.40,493.40 L149.80,493.40 L150.20,493.40 L150.60,493.40 L151.00,493.40 L151.40,493.40 L151.80,493.40 L152.20,493.40 L152.60,493.40 L153.00,493.40 L153.40,493.40 L153.80,493.40 L154.20,493.40 L154.60,493.40" fill="none" stroke="#6cb049" stroke-width="0.6" />
<rect x="116.00" y="454.30" width="39.50" height="39.10" fill="none" stroke="#111" stroke-width="1.25"/>
<line x1="114.40" y1="493.40" x2="116.00" y2="493.40" stroke="#000" stroke-width="0.45" />
<line x1="115.10" y1="489.69" x2="116.00" y2="489.69" stroke="#000" stroke-width="0.45" />
<line x1="114.40" y1="485.98" x2="116.00" y2="485.98" stroke="#000" stroke-width="0.45" />
<line x1="115.10" y1="482.27" x2="116.00" y2="482.27" stroke="#000" stroke-width="0.45" />
<line x1="114.40" y1="478.56" x2="116.00" y2="478.56" stroke="#000" stroke-width="0.45" />
<line x1="115.10" y1="474.85" x2="116.00" y2="474.85" stroke="#000" stroke-width="0.45" />
<line x1="114.40" y1="471.14" x2="116.00" y2="471.14" stroke="#000" stroke-width="0.45" />
<line x1="115.10" y1="467.43" x2="116.00" y2="467.43" stroke="#000" stroke-width="0.45" />
<line x1="114.40" y1="463.72" x2="116.00" y2="463.72" stroke="#000" stroke-width="0.45" />
<line x1="115.10" y1="460.01" x2="116.00" y2="460.01" stroke="#000" stroke-width="0.45" />
<line x1="114.40" y1="456.30" x2="116.00" y2="456.30" stroke="#000" stroke-width="0.45" />
<line x1="119.00" y1="493.40" x2="119.00" y2="495.00" stroke="#000" stroke-width="0.6" />
<line x1="121.14" y1="493.40" x2="121.14" y2="494.30" stroke="#000" stroke-width="0.4" />
<line x1="122.39" y1="493.40" x2="122.39" y2="494.30" stroke="#000" stroke-width="0.4" />
<line x1="123.27" y1="493.40" x2="123.27" y2="494.30" stroke="#000" stroke-width="0.4" />
<line x1="123.96" y1="493.40" x2="123.96" y2="494.30" stroke="#000" stroke-width="0.4" />
<line x1="124.52" y1="493.40" x2="124.52" y2="494.30" stroke="#000" stroke-width="0.4" />
<line x1="125.00" y1="493.40" x2="125.00" y2="494.30" stroke="#000" stroke-width="0.4" />
<line x1="125.41" y1="493.40" x2="125.41" y2="494.30" stroke="#000" stroke-width="0.4" />
<line x1="125.78" y1="493.40" x2="125.78" y2="494.30" stroke="#000" stroke-width="0.4" />
<line x1="126.10" y1="493.40" x2="126.10" y2="495.00" stroke="#000" stroke-width="0.6" />
<line x1="128.24" y1="493.40" x2="128.24" y2="494.30" stroke="#000" stroke-width="0.4" />
<line x1="129.49" y1="493.40" x2="129.49" y2="494.30" stroke="#000" stroke-width="0.4" />
<line x1="130.37" y1="493.40" x2="130.37" y2="494.30" stroke="#000" stroke-width="0.4" />
<line x1="131.06" y1="493.40" x2="131.06" y2="494.30" stroke="#000" stroke-width="0.4" />
<line x1="131.62" y1="493.40" x2="131.62" y2="494.30" stroke="#000" stroke-width="0.4" />
<line x1="132.10" y1="493.40" x2="132.10" y2="494.30" stroke="#000" stroke-width="0.4" />
<line x1="132.51" y1="493.40" x2="132.51" y2="494.30" stroke="#000" stroke-width="0.4" />
<line x1="132.88" y1="493.40" x2="132.88" y2="494.30" stroke="#000" stroke-width="0.4" />
<line x1="133.20" y1="493.40" x2="133.20" y2="495.00" stroke="#000" stroke-width="0.6" />
<line x1="135.34" y1="493.40" x2="135.34" y2="494.30" stroke="#000" stroke-width="0.4" />
<line x1="136.59" y1="493.40" x2="136.59" y2="494.30" stroke="#000" stroke-width="0.4" />
<line x1="137.47" y1="493.40" x2="137.47" y2="494.30" stroke="#000" stroke-width="0.4" />
<line x1="138.16" y1="493.40" x2="138.16" y2="494.30" stroke="#000" stroke-width="0.4" />
<line x1="138.72" y1="493.40" x2="138.72" y2="494.30" stroke="#000" stroke-width="0.4" />
<line x1="139.20" y1="493.40" x2="139.20" y2="494.30" stroke="#000" stroke-width="0.4" />
<line x1="139.61" y1="493.40" x2="139.61" y2="494.30" stroke="#000" stroke-width="0.4" />
<line x1="139.98" y1="493.40" x2="139.98" y2="494.30" stroke="#000" stroke-width="0.4" />
<line x1="140.30" y1="493.40" x2="140.30" y2="495.00" stroke="#000" stroke-width="0.6" />
<line x1="142.44" y1="493.40" x2="142.44" y2="494.30" stroke="#000" stroke-width="0.4" />
<line x1="143.69" y1="493.40" x2="143.69" y2="494.30" stroke="#000" stroke-width="0.4" />
<line x1="144.57" y1="493.40" x2="144.57" y2="494.30" stroke="#000" stroke-width="0.4" />
<line x1="145.26" y1="493.40" x2="145.26" y2="494.30" stroke="#000" stroke-width="0.4" />
<line x1="145.82" y1="493.40" x2="145.82" y2="494.30" stroke="#000" stroke-width="0.4" />
<line x1="146.30" y1="493.40" x2="146.30" y2="494.30" stroke="#000" stroke-width="0.4" />
<line x1="146.71" y1="493.40" x2="146.71" y2="494.30" stroke="#000" stroke-width="0.4" />
<line x1="147.08" y1="493.40" x2="147.08" y2="494.30" stroke="#000" stroke-width="0.4" />
<line x1="147.40" y1="493.40" x2="147.40" y2="495.00" stroke="#000" stroke-width="0.6" />
<line x1="149.54" y1="493.40" x2="149.54" y2="494.30" stroke="#000" stroke-width="0.4" />
<line x1="150.79" y1="493.40" x2="150.79" y2="494.30" stroke="#000" stroke-width="0.4" />
<line x1="151.67" y1="493.40" x2="151.67" y2="494.30" stroke="#000" stroke-width="0.4" />
<line x1="152.36" y1="493.40" x2="152.36" y2="494.30" stroke="#000" stroke-width="0.4" />
<line x1="152.92" y1="493.40" x2="152.92" y2="494.30" stroke="#000" stroke-width="0.4" />
<line x1="153.40" y1="493.40" x2="153.40" y2="494.30" stroke="#000" stroke-width="0.4" />
<line x1="153.81" y1="493.40" x2="153.81" y2="494.30" stroke="#000" stroke-width="0.4" />
<line x1="154.18" y1="493.40" x2="154.18" y2="494.30" stroke="#000" stroke-width="0.4" />
<line x1="137.20" y1="470.50" x2="155.50" y2="470.50" stroke="#222" stroke-width="0.8" />
<line x1="137.20" y1="469.30" x2="137.20" y2="471.70" stroke="#222" stroke-width="0.7" />
<text x="133.00" y="462.96" font-size="5.6" text-anchor="middle" fill="#231f20" stroke="#231f20" stroke-width="0.1" >64%</text>
<path d="M168.95,493.40 L168.95,493.39 L169.35,493.39 L169.75,493.38 L170.15,493.37 L170.55,493.36 L170.95,493.34 L171.35,493.31 L171.75,493.26 L172.15,493.19 L172.55,493.10 L172.95,492.97 L173.35,492.80 L173.75,492.57 L174.15,492.28 L174.55,491.90 L174.95,491.42 L175.35,490.84 L175.75,490.13 L176.15,489.29 L176.55,488.31 L176.95,487.20 L177.35,485.97 L177.75,484.62 L178.15,483.20 L178.55,481.73 L178.95,480.25 L179.35,478.81 L179.75,477.47 L180.15,476.28 L180.55,475.28 L180.95,474.52 L181.35,474.02 L181.75,473.82 L182.15,474.06 L182.55,474.90 L182.95,476.26 L183.35,478.03 L183.75,480.05 L184.15,482.14 L184.55,484.18 L184.95,486.03 L185.35,487.63 L185.75,488.94 L186.15,489.95 L186.55,490.68 L186.95,491.17 L187.35,491.46 L187.75,491.61 L188.15,491.66 L188.55,491.64 L188.95,491.59 L189.35,491.52 L189.75,491.44 L190.15,491.36 L190.55,491.25 L190.95,491.05 L191.35,490.68 L191.75,489.99 L192.15,488.82 L192.55,486.95 L192.95,484.23 L193.35,480.59 L193.75,476.13 L194.15,471.19 L194.55,466.34 L194.95,462.27 L195.35,459.66 L195.75,458.98 L196.15,460.37 L196.55,463.60 L196.95,468.14 L197.35,473.27 L197.75,478.32 L198.15,482.79 L198.55,486.38 L198.95,489.04 L199.35,490.85 L199.75,492.00 L200.15,492.68 L200.55,493.05 L200.95,493.24 L201.35,493.33 L201.75,493.37 L202.15,493.39 L202.55,493.40 L202.95,493.40 L203.35,493.40 L203.75,493.40 L204.15,493.40 L204.55,493.40 L204.95,493.40 L205.35,493.40 L205.75,493.40 L206.15,493.40 L206.55,493.40 L206.95,493.40 L207.35,493.40 L207.75,493.40 L207.75,493.40 Z" fill="#2a4a88" stroke="none" stroke-width="1" />
<path d="M168.95,493.40 L168.95,492.78 L169.35,492.63 L169.75,492.44 L170.15,492.23 L170.55,491.99 L170.95,491.72 L171.35,491.42 L171.75,491.08 L172.15,490.72 L172.55,490.32 L172.95,489.87 L173.35,489.37 L173.75,488.80 L174.15,488.14 L174.55,487.35 L174.95,486.41 L175.35,485.26 L175.75,483.88 L176.15,482.23 L176.55,480.28 L176.95,478.03 L177.35,475.50 L177.75,472.74 L178.15,469.85 L178.55,466.93 L178.95,464.14 L179.35,461.63 L179.75,459.56 L180.15,458.07 L180.55,457.29 L180.95,457.29 L181.35,459.27 L181.75,463.57 L182.15,469.30 L182.55,475.41 L182.95,480.97 L183.35,485.44 L183.75,488.66 L184.15,490.76 L184.55,492.01 L184.95,492.70 L185.35,493.05 L185.75,493.22 L186.15,493.30 L186.55,493.34 L186.95,493.36 L187.35,493.37 L187.75,493.38 L188.15,493.39 L188.55,493.39 L188.95,493.40 L189.35,493.40 L189.75,493.40 L190.15,493.40 L190.55,493.40 L190.95,493.40 L191.35,493.40 L191.75,493.40 L192.15,493.40 L192.55,493.40 L192.95,493.40 L193.35,493.40 L193.75,493.40 L194.15,493.40 L194.55,493.40 L194.95,493.40 L195.35,493.40 L195.75,493.40 L196.15,493.40 L196.55,493.40 L196.95,493.40 L197.35,493.40 L197.75,493.40 L198.15,493.40 L198.55,493.40 L198.95,493.40 L199.35,493.40 L199.75,493.40 L200.15,493.40 L200.55,493.40 L200.95,493.40 L201.35,493.40 L201.75,493.40 L202.15,493.40 L202.55,493.40 L202.95,493.40 L203.35,493.40 L203.75,493.40 L204.15,493.40 L204.55,493.40 L204.95,493.40 L205.35,493.40 L205.75,493.40 L206.15,493.40 L206.55,493.40 L206.95,493.40 L207.35,493.40 L207.75,493.40 L207.75,493.40 Z" fill="#b6d8a0" stroke="none" stroke-width="1" />
<path d="M168.95,493.40 L168.95,493.39 L169.35,493.39 L169.75,493.38 L170.15,493.37 L170.55,493.36 L170.95,493.34 L171.35,493.31 L171.75,493.26 L172.15,493.19 L172.55,493.10 L172.95,492.97 L173.35,492.80 L173.75,492.57 L174.15,492.28 L174.55,491.90 L174.95,491.42 L175.35,490.84 L175.75,490.13 L176.15,489.29 L176.55,488.31 L176.95,487.20 L177.35,485.97 L177.75,484.62 L178.15,483.20 L178.55,481.73 L178.95,480.25 L179.35,478.81 L179.75,477.47 L180.15,476.28 L180.55,475.28 L180.95,474.52 L181.35,474.02 L181.75,473.82 L182.15,474.06 L182.55,475.41 L182.95,480.97 L183.35,485.44 L183.75,488.66 L184.15,490.76 L184.55,492.01 L184.95,492.70 L185.35,493.05 L185.75,493.22 L186.15,493.30 L186.55,493.34 L186.95,493.36 L187.35,493.37 L187.75,493.38 L188.15,493.39 L188.55,493.39 L188.95,493.40 L189.35,493.40 L189.75,493.40 L190.15,493.40 L190.55,493.40 L190.95,493.40 L191.35,493.40 L191.75,493.40 L192.15,493.40 L192.55,493.40 L192.95,493.40 L193.35,493.40 L193.75,493.40 L194.15,493.40 L194.55,493.40 L194.95,493.40 L195.35,493.40 L195.75,493.40 L196.15,493.40 L196.55,493.40 L196.95,493.40 L197.35,493.40 L197.75,493.40 L198.15,493.40 L198.55,493.40 L198.95,493.40 L199.35,493.40 L199.75,493.40 L200.15,493.40 L200.55,493.40 L200.95,493.40 L201.35,493.40 L201.75,493.40 L202.15,493.40 L202.55,493.40 L202.95,493.40 L203.35,493.40 L203.75,493.40 L204.15,493.40 L204.55,493.40 L204.95,493.40 L205.35,493.40 L205.75,493.40 L206.15,493.40 L206.55,493.40 L206.95,493.40 L207.35,493.40 L207.75,493.40 L207.75,493.40 Z" fill="#3f6d4c" stroke="none" stroke-width="1" />
<path d="M168.95,492.78 L169.35,492.63 L169.75,492.44 L170.15,492.23 L170.55,491.99 L170.95,491.72 L171.35,491.42 L171.75,491.08 L172.15,490.72 L172.55,490.32 L172.95,489.87 L173.35,489.37 L173.75,488.80 L174.15,488.14 L174.55,487.35 L174.95,486.41 L175.35,485.26 L175.75,483.88 L176.15,482.23 L176.55,480.28 L176.95,478.03 L177.35,475.50 L177.75,472.74 L178.15,469.85 L178.55,466.93 L178.95,464.14 L179.35,461.63 L179.75,459.56 L180.15,458.07 L180.55,457.29 L180.95,457.29 L181.35,459.27 L181.75,463.57 L182.15,469.30 L182.55,475.41 L182.95,480.97 L183.35,485.44 L183.75,488.66 L184.15,490.76 L184.55,492.01 L184.95,492.70 L185.35,493.05 L185.75,493.22 L186.15,493.30 L186.55,493.34 L186.95,493.36 L187.35,493.37 L187.75,493.38 L188.15,493.39 L188.55,493.39 L188.95,493.40 L189.35,493.40 L189.75,493.40 L190.15,493.40 L190.55,493.40 L190.95,493.40 L191.35,493.40 L191.75,493.40 L192.15,493.40 L192.55,493.40 L192.95,493.40 L193.35,493.40 L193.75,493.40 L194.15,493.40 L194.55,493.40 L194.95,493.40 L195.35,493.40 L195.75,493.40 L196.15,493.40 L196.55,493.40 L196.95,493.40 L197.35,493.40 L197.75,493.40 L198.15,493.40 L198.55,493.40 L198.95,493.40 L199.35,493.40 L199.75,493.40 L200.15,493.40 L200.55,493.40 L200.95,493.40 L201.35,493.40 L201.75,493.40 L202.15,493.40 L202.55,493.40 L202.95,493.40 L203.35,493.40 L203.75,493.40 L204.15,493.40 L204.55,493.40 L204.95,493.40 L205.35,493.40 L205.75,493.40 L206.15,493.40 L206.55,493.40 L206.95,493.40 L207.35,493.40 L207.75,493.40" fill="none" stroke="#6cb049" stroke-width="0.6" />
<rect x="168.35" y="454.30" width="40.00" height="39.10" fill="none" stroke="#111" stroke-width="1.25"/>
<line x1="166.75" y1="493.40" x2="168.35" y2="493.40" stroke="#000" stroke-width="0.45" />
<line x1="167.45" y1="489.69" x2="168.35" y2="489.69" stroke="#000" stroke-width="0.45" />
<line x1="166.75" y1="485.98" x2="168.35" y2="485.98" stroke="#000" stroke-width="0.45" />
<line x1="167.45" y1="482.27" x2="168.35" y2="482.27" stroke="#000" stroke-width="0.45" />
<line x1="166.75" y1="478.56" x2="168.35" y2="478.56" stroke="#000" stroke-width="0.45" />
<line x1="167.45" y1="474.85" x2="168.35" y2="474.85" stroke="#000" stroke-width="0.45" />
<line x1="166.75" y1="471.14" x2="168.35" y2="471.14" stroke="#000" stroke-width="0.45" />
<line x1="167.45" y1="467.43" x2="168.35" y2="467.43" stroke="#000" stroke-width="0.45" />
<line x1="166.75" y1="463.72" x2="168.35" y2="463.72" stroke="#000" stroke-width="0.45" />
<line x1="167.45" y1="460.01" x2="168.35" y2="460.01" stroke="#000" stroke-width="0.45" />
<line x1="166.75" y1="456.30" x2="168.35" y2="456.30" stroke="#000" stroke-width="0.45" />
<line x1="171.35" y1="493.40" x2="171.35" y2="495.00" stroke="#000" stroke-width="0.6" />
<line x1="173.52" y1="493.40" x2="173.52" y2="494.30" stroke="#000" stroke-width="0.4" />
<line x1="174.79" y1="493.40" x2="174.79" y2="494.30" stroke="#000" stroke-width="0.4" />
<line x1="175.68" y1="493.40" x2="175.68" y2="494.30" stroke="#000" stroke-width="0.4" />
<line x1="176.38" y1="493.40" x2="176.38" y2="494.30" stroke="#000" stroke-width="0.4" />
<line x1="176.95" y1="493.40" x2="176.95" y2="494.30" stroke="#000" stroke-width="0.4" />
<line x1="177.43" y1="493.40" x2="177.43" y2="494.30" stroke="#000" stroke-width="0.4" />
<line x1="177.85" y1="493.40" x2="177.85" y2="494.30" stroke="#000" stroke-width="0.4" />
<line x1="178.22" y1="493.40" x2="178.22" y2="494.30" stroke="#000" stroke-width="0.4" />
<line x1="178.55" y1="493.40" x2="178.55" y2="495.00" stroke="#000" stroke-width="0.6" />
<line x1="180.72" y1="493.40" x2="180.72" y2="494.30" stroke="#000" stroke-width="0.4" />
<line x1="181.99" y1="493.40" x2="181.99" y2="494.30" stroke="#000" stroke-width="0.4" />
<line x1="182.88" y1="493.40" x2="182.88" y2="494.30" stroke="#000" stroke-width="0.4" />
<line x1="183.58" y1="493.40" x2="183.58" y2="494.30" stroke="#000" stroke-width="0.4" />
<line x1="184.15" y1="493.40" x2="184.15" y2="494.30" stroke="#000" stroke-width="0.4" />
<line x1="184.63" y1="493.40" x2="184.63" y2="494.30" stroke="#000" stroke-width="0.4" />
<line x1="185.05" y1="493.40" x2="185.05" y2="494.30" stroke="#000" stroke-width="0.4" />
<line x1="185.42" y1="493.40" x2="185.42" y2="494.30" stroke="#000" stroke-width="0.4" />
<line x1="185.75" y1="493.40" x2="185.75" y2="495.00" stroke="#000" stroke-width="0.6" />
<line x1="187.92" y1="493.40" x2="187.92" y2="494.30" stroke="#000" stroke-width="0.4" />
<line x1="189.19" y1="493.40" x2="189.19" y2="494.30" stroke="#000" stroke-width="0.4" />
<line x1="190.08" y1="493.40" x2="190.08" y2="494.30" stroke="#000" stroke-width="0.4" />
<line x1="190.78" y1="493.40" x2="190.78" y2="494.30" stroke="#000" stroke-width="0.4" />
<line x1="191.35" y1="493.40" x2="191.35" y2="494.30" stroke="#000" stroke-width="0.4" />
<line x1="191.83" y1="493.40" x2="191.83" y2="494.30" stroke="#000" stroke-width="0.4" />
<line x1="192.25" y1="493.40" x2="192.25" y2="494.30" stroke="#000" stroke-width="0.4" />
<line x1="192.62" y1="493.40" x2="192.62" y2="494.30" stroke="#000" stroke-width="0.4" />
<line x1="192.95" y1="493.40" x2="192.95" y2="495.00" stroke="#000" stroke-width="0.6" />
<line x1="195.12" y1="493.40" x2="195.12" y2="494.30" stroke="#000" stroke-width="0.4" />
<line x1="196.39" y1="493.40" x2="196.39" y2="494.30" stroke="#000" stroke-width="0.4" />
<line x1="197.28" y1="493.40" x2="197.28" y2="494.30" stroke="#000" stroke-width="0.4" />
<line x1="197.98" y1="493.40" x2="197.98" y2="494.30" stroke="#000" stroke-width="0.4" />
<line x1="198.55" y1="493.40" x2="198.55" y2="494.30" stroke="#000" stroke-width="0.4" />
<line x1="199.03" y1="493.40" x2="199.03" y2="494.30" stroke="#000" stroke-width="0.4" />
<line x1="199.45" y1="493.40" x2="199.45" y2="494.30" stroke="#000" stroke-width="0.4" />
<line x1="199.82" y1="493.40" x2="199.82" y2="494.30" stroke="#000" stroke-width="0.4" />
<line x1="200.15" y1="493.40" x2="200.15" y2="495.00" stroke="#000" stroke-width="0.6" />
<line x1="202.32" y1="493.40" x2="202.32" y2="494.30" stroke="#000" stroke-width="0.4" />
<line x1="203.59" y1="493.40" x2="203.59" y2="494.30" stroke="#000" stroke-width="0.4" />
<line x1="204.48" y1="493.40" x2="204.48" y2="494.30" stroke="#000" stroke-width="0.4" />
<line x1="205.18" y1="493.40" x2="205.18" y2="494.30" stroke="#000" stroke-width="0.4" />
<line x1="205.75" y1="493.40" x2="205.75" y2="494.30" stroke="#000" stroke-width="0.4" />
<line x1="206.23" y1="493.40" x2="206.23" y2="494.30" stroke="#000" stroke-width="0.4" />
<line x1="206.65" y1="493.40" x2="206.65" y2="494.30" stroke="#000" stroke-width="0.4" />
<line x1="207.02" y1="493.40" x2="207.02" y2="494.30" stroke="#000" stroke-width="0.4" />
<line x1="191.20" y1="470.50" x2="208.35" y2="470.50" stroke="#222" stroke-width="0.8" />
<line x1="191.20" y1="469.30" x2="191.20" y2="471.70" stroke="#222" stroke-width="0.7" />
<text x="186.60" y="462.96" font-size="5.6" text-anchor="middle" fill="#231f20" stroke="#231f20" stroke-width="0.1" >87%</text>
<line x1="11.20" y1="502.50" x2="97.00" y2="502.50" stroke="#111" stroke-width="1.0" />
<path d="M101.00,502.60 L97.00,504.60 L97.00,500.60 Z" fill="#111" stroke="none" stroke-width="1" />
<line x1="116.20" y1="502.50" x2="203.80" y2="502.50" stroke="#111" stroke-width="1.0" />
<path d="M207.80,502.60 L203.80,504.60 L203.80,500.60 Z" fill="#111" stroke="none" stroke-width="1" />
<text transform="translate(10.90 513.91) scale(0.7418 1)" font-size="8.6" text-anchor="start" fill="#231f20" stroke="#231f20" stroke-width="0.1" >GPA</text>
<text transform="translate(116.30 513.91) scale(0.7418 1)" font-size="8.6" text-anchor="start" fill="#231f20" stroke="#231f20" stroke-width="0.1" >GPA</text>
<path d="M11.10,565.00 L11.10,565.00 L11.50,565.00 L11.90,565.00 L12.30,565.00 L12.70,565.00 L13.10,565.00 L13.50,565.00 L13.90,565.00 L14.30,565.00 L14.70,565.00 L15.10,565.00 L15.50,565.00 L15.90,565.00 L16.30,565.00 L16.70,565.00 L17.10,565.00 L17.50,565.00 L17.90,565.00 L18.30,564.99 L18.70,564.98 L19.10,564.96 L19.50,564.93 L19.90,564.87 L20.30,564.77 L20.70,564.61 L21.10,564.38 L21.50,564.05 L21.90,563.59 L22.30,563.01 L22.70,562.28 L23.10,561.44 L23.50,560.52 L23.90,559.58 L24.30,558.70 L24.70,557.97 L25.10,557.46 L25.50,557.23 L25.90,557.26 L26.30,557.42 L26.70,557.72 L27.10,558.12 L27.50,558.61 L27.90,559.16 L28.30,559.74 L28.70,560.32 L29.10,560.89 L29.50,561.41 L29.90,561.86 L30.30,562.25 L30.70,562.56 L31.10,562.81 L31.50,562.99 L31.90,563.14 L32.30,563.26 L32.70,563.37 L33.10,563.49 L33.50,563.63 L33.90,563.78 L34.30,563.94 L34.70,564.11 L35.10,564.27 L35.50,564.41 L35.90,564.50 L36.30,564.47 L36.70,564.18 L37.10,563.38 L37.50,561.70 L37.90,558.71 L38.30,554.10 L38.70,548.04 L39.10,541.35 L39.50,535.47 L39.90,532.00 L40.30,532.01 L40.70,535.48 L41.10,541.36 L41.50,548.06 L41.90,554.14 L42.30,558.77 L42.70,561.80 L43.10,563.53 L43.50,564.40 L43.90,564.78 L44.30,564.93 L44.70,564.98 L45.10,564.99 L45.50,565.00 L45.90,565.00 L46.30,565.00 L46.70,565.00 L47.10,565.00 L47.50,565.00 L47.90,565.00 L48.30,565.00 L48.70,565.00 L49.10,565.00 L49.50,565.00 L49.50,565.00 Z" fill="#2a4a88" stroke="none" stroke-width="1" />
<path d="M11.10,565.00 L11.10,564.33 L11.50,564.17 L11.90,563.98 L12.30,563.76 L12.70,563.51 L13.10,563.24 L13.50,562.95 L13.90,562.63 L14.30,562.29 L14.70,561.93 L15.10,561.55 L15.50,561.15 L15.90,560.71 L16.30,560.22 L16.70,559.65 L17.10,558.97 L17.50,558.13 L17.90,557.08 L18.30,555.78 L18.70,554.17 L19.10,552.25 L19.50,550.00 L19.90,547.46 L20.30,544.71 L20.70,541.87 L21.10,539.10 L21.50,536.57 L21.90,534.47 L22.30,532.98 L22.70,532.23 L23.10,532.33 L23.50,534.20 L23.90,537.88 L24.30,542.70 L24.70,547.88 L25.10,552.72 L25.50,556.77 L25.90,559.83 L26.30,561.95 L26.70,563.30 L27.10,564.10 L27.50,564.54 L27.90,564.76 L28.30,564.88 L28.70,564.93 L29.10,564.96 L29.50,564.98 L29.90,564.98 L30.30,564.99 L30.70,564.99 L31.10,565.00 L31.50,565.00 L31.90,565.00 L32.30,565.00 L32.70,565.00 L33.10,565.00 L33.50,565.00 L33.90,565.00 L34.30,565.00 L34.70,565.00 L35.10,565.00 L35.50,565.00 L35.90,565.00 L36.30,565.00 L36.70,565.00 L37.10,565.00 L37.50,565.00 L37.90,565.00 L38.30,565.00 L38.70,565.00 L39.10,565.00 L39.50,565.00 L39.90,565.00 L40.30,565.00 L40.70,565.00 L41.10,565.00 L41.50,565.00 L41.90,565.00 L42.30,565.00 L42.70,565.00 L43.10,565.00 L43.50,565.00 L43.90,565.00 L44.30,565.00 L44.70,565.00 L45.10,565.00 L45.50,565.00 L45.90,565.00 L46.30,565.00 L46.70,565.00 L47.10,565.00 L47.50,565.00 L47.90,565.00 L48.30,565.00 L48.70,565.00 L49.10,565.00 L49.50,565.00 L49.50,565.00 Z" fill="#b6d8a0" stroke="none" stroke-width="1" />
<path d="M11.10,565.00 L11.10,565.00 L11.50,565.00 L11.90,565.00 L12.30,565.00 L12.70,565.00 L13.10,565.00 L13.50,565.00 L13.90,565.00 L14.30,565.00 L14.70,565.00 L15.10,565.00 L15.50,565.00 L15.90,565.00 L16.30,565.00 L16.70,565.00 L17.10,565.00 L17.50,565.00 L17.90,565.00 L18.30,564.99 L18.70,564.98 L19.10,564.96 L19.50,564.93 L19.90,564.87 L20.30,564.77 L20.70,564.61 L21.10,564.38 L21.50,564.05 L21.90,563.59 L22.30,563.01 L22.70,562.28 L23.10,561.44 L23.50,560.52 L23.90,559.58 L24.30,558.70 L24.70,557.97 L25.10,557.46 L25.50,557.23 L25.90,559.83 L26.30,561.95 L26.70,563.30 L27.10,564.10 L27.50,564.54 L27.90,564.76 L28.30,564.88 L28.70,564.93 L29.10,564.96 L29.50,564.98 L29.90,564.98 L30.30,564.99 L30.70,564.99 L31.10,565.00 L31.50,565.00 L31.90,565.00 L32.30,565.00 L32.70,565.00 L33.10,565.00 L33.50,565.00 L33.90,565.00 L34.30,565.00 L34.70,565.00 L35.10,565.00 L35.50,565.00 L35.90,565.00 L36.30,565.00 L36.70,565.00 L37.10,565.00 L37.50,565.00 L37.90,565.00 L38.30,565.00 L38.70,565.00 L39.10,565.00 L39.50,565.00 L39.90,565.00 L40.30,565.00 L40.70,565.00 L41.10,565.00 L41.50,565.00 L41.90,565.00 L42.30,565.00 L42.70,565.00 L43.10,565.00 L43.50,565.00 L43.90,565.00 L44.30,565.00 L44.70,565.00 L45.10,565.00 L45.50,565.00 L45.90,565.00 L46.30,565.00 L46.70,565.00 L47.10,565.00 L47.50,565.00 L47.90,565.00 L48.30,565.00 L48.70,565.00 L49.10,565.00 L49.50,565.00 L49.50,565.00 Z" fill="#3f6d4c" stroke="none" stroke-width="1" />
<path d="M11.10,564.33 L11.50,564.17 L11.90,563.98 L12.30,563.76 L12.70,563.51 L13.10,563.24 L13.50,562.95 L13.90,562.63 L14.30,562.29 L14.70,561.93 L15.10,561.55 L15.50,561.15 L15.90,560.71 L16.30,560.22 L16.70,559.65 L17.10,558.97 L17.50,558.13 L17.90,557.08 L18.30,555.78 L18.70,554.17 L19.10,552.25 L19.50,550.00 L19.90,547.46 L20.30,544.71 L20.70,541.87 L21.10,539.10 L21.50,536.57 L21.90,534.47 L22.30,532.98 L22.70,532.23 L23.10,532.33 L23.50,534.20 L23.90,537.88 L24.30,542.70 L24.70,547.88 L25.10,552.72 L25.50,556.77 L25.90,559.83 L26.30,561.95 L26.70,563.30 L27.10,564.10 L27.50,564.54 L27.90,564.76 L28.30,564.88 L28.70,564.93 L29.10,564.96 L29.50,564.98 L29.90,564.98 L30.30,564.99 L30.70,564.99 L31.10,565.00 L31.50,565.00 L31.90,565.00 L32.30,565.00 L32.70,565.00 L33.10,565.00 L33.50,565.00 L33.90,565.00 L34.30,565.00 L34.70,565.00 L35.10,565.00 L35.50,565.00 L35.90,565.00 L36.30,565.00 L36.70,565.00 L37.10,565.00 L37.50,565.00 L37.90,565.00 L38.30,565.00 L38.70,565.00 L39.10,565.00 L39.50,565.00 L39.90,565.00 L40.30,565.00 L40.70,565.00 L41.10,565.00 L41.50,565.00 L41.90,565.00 L42.30,565.00 L42.70,565.00 L43.10,565.00 L43.50,565.00 L43.90,565.00 L44.30,565.00 L44.70,565.00 L45.10,565.00 L45.50,565.00 L45.90,565.00 L46.30,565.00 L46.70,565.00 L47.10,565.00 L47.50,565.00 L47.90,565.00 L48.30,565.00 L48.70,565.00 L49.10,565.00 L49.50,565.00" fill="none" stroke="#6cb049" stroke-width="0.6" />
<rect x="10.50" y="526.10" width="39.70" height="38.90" fill="none" stroke="#111" stroke-width="1.25"/>
<line x1="8.90" y1="565.00" x2="10.50" y2="565.00" stroke="#000" stroke-width="0.45" />
<line x1="9.60" y1="561.31" x2="10.50" y2="561.31" stroke="#000" stroke-width="0.45" />
<line x1="8.90" y1="557.62" x2="10.50" y2="557.62" stroke="#000" stroke-width="0.45" />
<line x1="9.60" y1="553.93" x2="10.50" y2="553.93" stroke="#000" stroke-width="0.45" />
<line x1="8.90" y1="550.24" x2="10.50" y2="550.24" stroke="#000" stroke-width="0.45" />
<line x1="9.60" y1="546.55" x2="10.50" y2="546.55" stroke="#000" stroke-width="0.45" />
<line x1="8.90" y1="542.86" x2="10.50" y2="542.86" stroke="#000" stroke-width="0.45" />
<line x1="9.60" y1="539.17" x2="10.50" y2="539.17" stroke="#000" stroke-width="0.45" />
<line x1="8.90" y1="535.48" x2="10.50" y2="535.48" stroke="#000" stroke-width="0.45" />
<line x1="9.60" y1="531.79" x2="10.50" y2="531.79" stroke="#000" stroke-width="0.45" />
<line x1="8.90" y1="528.10" x2="10.50" y2="528.10" stroke="#000" stroke-width="0.45" />
<line x1="13.50" y1="565.00" x2="13.50" y2="566.60" stroke="#000" stroke-width="0.6" />
<line x1="15.65" y1="565.00" x2="15.65" y2="565.90" stroke="#000" stroke-width="0.4" />
<line x1="16.91" y1="565.00" x2="16.91" y2="565.90" stroke="#000" stroke-width="0.4" />
<line x1="17.80" y1="565.00" x2="17.80" y2="565.90" stroke="#000" stroke-width="0.4" />
<line x1="18.49" y1="565.00" x2="18.49" y2="565.90" stroke="#000" stroke-width="0.4" />
<line x1="19.06" y1="565.00" x2="19.06" y2="565.90" stroke="#000" stroke-width="0.4" />
<line x1="19.53" y1="565.00" x2="19.53" y2="565.90" stroke="#000" stroke-width="0.4" />
<line x1="19.95" y1="565.00" x2="19.95" y2="565.90" stroke="#000" stroke-width="0.4" />
<line x1="20.31" y1="565.00" x2="20.31" y2="565.90" stroke="#000" stroke-width="0.4" />
<line x1="20.64" y1="565.00" x2="20.64" y2="566.60" stroke="#000" stroke-width="0.6" />
<line x1="22.79" y1="565.00" x2="22.79" y2="565.90" stroke="#000" stroke-width="0.4" />
<line x1="24.05" y1="565.00" x2="24.05" y2="565.90" stroke="#000" stroke-width="0.4" />
<line x1="24.94" y1="565.00" x2="24.94" y2="565.90" stroke="#000" stroke-width="0.4" />
<line x1="25.63" y1="565.00" x2="25.63" y2="565.90" stroke="#000" stroke-width="0.4" />
<line x1="26.20" y1="565.00" x2="26.20" y2="565.90" stroke="#000" stroke-width="0.4" />
<line x1="26.67" y1="565.00" x2="26.67" y2="565.90" stroke="#000" stroke-width="0.4" />
<line x1="27.09" y1="565.00" x2="27.09" y2="565.90" stroke="#000" stroke-width="0.4" />
<line x1="27.45" y1="565.00" x2="27.45" y2="565.90" stroke="#000" stroke-width="0.4" />
<line x1="27.78" y1="565.00" x2="27.78" y2="566.60" stroke="#000" stroke-width="0.6" />
<line x1="29.93" y1="565.00" x2="29.93" y2="565.90" stroke="#000" stroke-width="0.4" />
<line x1="31.19" y1="565.00" x2="31.19" y2="565.90" stroke="#000" stroke-width="0.4" />
<line x1="32.08" y1="565.00" x2="32.08" y2="565.90" stroke="#000" stroke-width="0.4" />
<line x1="32.77" y1="565.00" x2="32.77" y2="565.90" stroke="#000" stroke-width="0.4" />
<line x1="33.34" y1="565.00" x2="33.34" y2="565.90" stroke="#000" stroke-width="0.4" />
<line x1="33.81" y1="565.00" x2="33.81" y2="565.90" stroke="#000" stroke-width="0.4" />
<line x1="34.23" y1="565.00" x2="34.23" y2="565.90" stroke="#000" stroke-width="0.4" />
<line x1="34.59" y1="565.00" x2="34.59" y2="565.90" stroke="#000" stroke-width="0.4" />
<line x1="34.92" y1="565.00" x2="34.92" y2="566.60" stroke="#000" stroke-width="0.6" />
<line x1="37.07" y1="565.00" x2="37.07" y2="565.90" stroke="#000" stroke-width="0.4" />
<line x1="38.33" y1="565.00" x2="38.33" y2="565.90" stroke="#000" stroke-width="0.4" />
<line x1="39.22" y1="565.00" x2="39.22" y2="565.90" stroke="#000" stroke-width="0.4" />
<line x1="39.91" y1="565.00" x2="39.91" y2="565.90" stroke="#000" stroke-width="0.4" />
<line x1="40.48" y1="565.00" x2="40.48" y2="565.90" stroke="#000" stroke-width="0.4" />
<line x1="40.95" y1="565.00" x2="40.95" y2="565.90" stroke="#000" stroke-width="0.4" />
<line x1="41.37" y1="565.00" x2="41.37" y2="565.90" stroke="#000" stroke-width="0.4" />
<line x1="41.73" y1="565.00" x2="41.73" y2="565.90" stroke="#000" stroke-width="0.4" />
<line x1="42.06" y1="565.00" x2="42.06" y2="566.60" stroke="#000" stroke-width="0.6" />
<line x1="44.21" y1="565.00" x2="44.21" y2="565.90" stroke="#000" stroke-width="0.4" />
<line x1="45.47" y1="565.00" x2="45.47" y2="565.90" stroke="#000" stroke-width="0.4" />
<line x1="46.36" y1="565.00" x2="46.36" y2="565.90" stroke="#000" stroke-width="0.4" />
<line x1="47.05" y1="565.00" x2="47.05" y2="565.90" stroke="#000" stroke-width="0.4" />
<line x1="47.62" y1="565.00" x2="47.62" y2="565.90" stroke="#000" stroke-width="0.4" />
<line x1="48.09" y1="565.00" x2="48.09" y2="565.90" stroke="#000" stroke-width="0.4" />
<line x1="48.51" y1="565.00" x2="48.51" y2="565.90" stroke="#000" stroke-width="0.4" />
<line x1="48.87" y1="565.00" x2="48.87" y2="565.90" stroke="#000" stroke-width="0.4" />
<line x1="33.60" y1="543.50" x2="50.20" y2="543.50" stroke="#222" stroke-width="0.8" />
<line x1="33.60" y1="541.80" x2="33.60" y2="544.20" stroke="#222" stroke-width="0.7" />
<text x="31.90" y="534.26" font-size="5.6" text-anchor="middle" fill="#231f20" stroke="#231f20" stroke-width="0.1" >64%</text>
<path d="M63.95,565.00 L63.95,565.00 L64.35,565.00 L64.75,565.00 L65.15,565.00 L65.55,565.00 L65.95,565.00 L66.35,565.00 L66.75,565.00 L67.15,565.00 L67.55,565.00 L67.95,565.00 L68.35,565.00 L68.75,565.00 L69.15,565.00 L69.55,565.00 L69.95,565.00 L70.35,564.99 L70.75,564.98 L71.15,564.97 L71.55,564.94 L71.95,564.89 L72.35,564.81 L72.75,564.68 L73.15,564.48 L73.55,564.19 L73.95,563.78 L74.35,563.24 L74.75,562.57 L75.15,561.77 L75.55,560.87 L75.95,559.93 L76.35,559.02 L76.75,558.22 L77.15,557.62 L77.55,557.28 L77.95,557.23 L78.35,557.35 L78.75,557.59 L79.15,557.95 L79.55,558.41 L79.95,558.93 L80.35,559.50 L80.75,560.08 L81.15,560.65 L81.55,561.17 L81.95,561.65 L82.35,562.05 L82.75,562.39 L83.15,562.65 L83.55,562.86 L83.95,563.03 L84.35,563.18 L84.75,563.31 L85.15,563.45 L85.55,563.60 L85.95,563.76 L86.35,563.94 L86.75,564.11 L87.15,564.28 L87.55,564.44 L87.95,564.58 L88.35,564.68 L88.75,564.71 L89.15,564.61 L89.55,564.18 L89.95,563.06 L90.35,560.74 L90.75,556.66 L91.15,550.63 L91.55,543.29 L91.95,536.25 L92.35,531.64 L92.75,531.03 L93.15,534.18 L93.55,539.98 L93.95,546.82 L94.35,553.18 L94.75,558.12 L95.15,561.42 L95.55,563.33 L95.95,564.30 L96.35,564.74 L96.75,564.91 L97.15,564.97 L97.55,564.99 L97.95,565.00 L98.35,565.00 L98.75,565.00 L99.15,565.00 L99.55,565.00 L99.95,565.00 L100.35,565.00 L100.75,565.00 L101.15,565.00 L101.55,565.00 L101.95,565.00 L102.35,565.00 L102.35,565.00 Z" fill="#2a4a88" stroke="none" stroke-width="1" />
<path d="M63.95,565.00 L63.95,563.95 L64.35,563.73 L64.75,563.48 L65.15,563.21 L65.55,562.91 L65.95,562.59 L66.35,562.26 L66.75,561.91 L67.15,561.55 L67.55,561.18 L67.95,560.78 L68.35,560.35 L68.75,559.87 L69.15,559.30 L69.55,558.61 L69.95,557.74 L70.35,556.65 L70.75,555.28 L71.15,553.60 L71.55,551.59 L71.95,549.26 L72.35,546.65 L72.75,543.87 L73.15,541.05 L73.55,538.35 L73.95,535.96 L74.35,534.07 L74.75,532.83 L75.15,532.36 L75.55,532.98 L75.95,535.57 L76.35,539.74 L76.75,544.77 L77.15,549.87 L77.55,554.44 L77.95,558.11 L78.35,560.79 L78.75,562.59 L79.15,563.69 L79.55,564.33 L79.95,564.66 L80.35,564.83 L80.75,564.92 L81.15,564.96 L81.55,564.97 L81.95,564.98 L82.35,564.99 L82.75,564.99 L83.15,565.00 L83.55,565.00 L83.95,565.00 L84.35,565.00 L84.75,565.00 L85.15,565.00 L85.55,565.00 L85.95,565.00 L86.35,565.00 L86.75,565.00 L87.15,565.00 L87.55,565.00 L87.95,565.00 L88.35,565.00 L88.75,565.00 L89.15,565.00 L89.55,565.00 L89.95,565.00 L90.35,565.00 L90.75,565.00 L91.15,565.00 L91.55,565.00 L91.95,565.00 L92.35,565.00 L92.75,565.00 L93.15,565.00 L93.55,565.00 L93.95,565.00 L94.35,565.00 L94.75,565.00 L95.15,565.00 L95.55,565.00 L95.95,565.00 L96.35,565.00 L96.75,565.00 L97.15,565.00 L97.55,565.00 L97.95,565.00 L98.35,565.00 L98.75,565.00 L99.15,565.00 L99.55,565.00 L99.95,565.00 L100.35,565.00 L100.75,565.00 L101.15,565.00 L101.55,565.00 L101.95,565.00 L102.35,565.00 L102.35,565.00 Z" fill="#b6d8a0" stroke="none" stroke-width="1" />
<path d="M63.95,565.00 L63.95,565.00 L64.35,565.00 L64.75,565.00 L65.15,565.00 L65.55,565.00 L65.95,565.00 L66.35,565.00 L66.75,565.00 L67.15,565.00 L67.55,565.00 L67.95,565.00 L68.35,565.00 L68.75,565.00 L69.15,565.00 L69.55,565.00 L69.95,565.00 L70.35,564.99 L70.75,564.98 L71.15,564.97 L71.55,564.94 L71.95,564.89 L72.35,564.81 L72.75,564.68 L73.15,564.48 L73.55,564.19 L73.95,563.78 L74.35,563.24 L74.75,562.57 L75.15,561.77 L75.55,560.87 L75.95,559.93 L76.35,559.02 L76.75,558.22 L77.15,557.62 L77.55,557.28 L77.95,558.11 L78.35,560.79 L78.75,562.59 L79.15,563.69 L79.55,564.33 L79.95,564.66 L80.35,564.83 L80.75,564.92 L81.15,564.96 L81.55,564.97 L81.95,564.98 L82.35,564.99 L82.75,564.99 L83.15,565.00 L83.55,565.00 L83.95,565.00 L84.35,565.00 L84.75,565.00 L85.15,565.00 L85.55,565.00 L85.95,565.00 L86.35,565.00 L86.75,565.00 L87.15,565.00 L87.55,565.00 L87.95,565.00 L88.35,565.00 L88.75,565.00 L89.15,565.00 L89.55,565.00 L89.95,565.00 L90.35,565.00 L90.75,565.00 L91.15,565.00 L91.55,565.00 L91.95,565.00 L92.35,565.00 L92.75,565.00 L93.15,565.00 L93.55,565.00 L93.95,565.00 L94.35,565.00 L94.75,565.00 L95.15,565.00 L95.55,565.00 L95.95,565.00 L96.35,565.00 L96.75,565.00 L97.15,565.00 L97.55,565.00 L97.95,565.00 L98.35,565.00 L98.75,565.00 L99.15,565.00 L99.55,565.00 L99.95,565.00 L100.35,565.00 L100.75,565.00 L101.15,565.00 L101.55,565.00 L101.95,565.00 L102.35,565.00 L102.35,565.00 Z" fill="#3f6d4c" stroke="none" stroke-width="1" />
<path d="M63.95,563.95 L64.35,563.73 L64.75,563.48 L65.15,563.21 L65.55,562.91 L65.95,562.59 L66.35,562.26 L66.75,561.91 L67.15,561.55 L67.55,561.18 L67.95,560.78 L68.35,560.35 L68.75,559.87 L69.15,559.30 L69.55,558.61 L69.95,557.74 L70.35,556.65 L70.75,555.28 L71.15,553.60 L71.55,551.59 L71.95,549.26 L72.35,546.65 L72.75,543.87 L73.15,541.05 L73.55,538.35 L73.95,535.96 L74.35,534.07 L74.75,532.83 L75.15,532.36 L75.55,532.98 L75.95,535.57 L76.35,539.74 L76.75,544.77 L77.15,549.87 L77.55,554.44 L77.95,558.11 L78.35,560.79 L78.75,562.59 L79.15,563.69 L79.55,564.33 L79.95,564.66 L80.35,564.83 L80.75,564.92 L81.15,564.96 L81.55,564.97 L81.95,564.98 L82.35,564.99 L82.75,564.99 L83.15,565.00 L83.55,565.00 L83.95,565.00 L84.35,565.00 L84.75,565.00 L85.15,565.00 L85.55,565.00 L85.95,565.00 L86.35,565.00 L86.75,565.00 L87.15,565.00 L87.55,565.00 L87.95,565.00 L88.35,565.00 L88.75,565.00 L89.15,565.00 L89.55,565.00 L89.95,565.00 L90.35,565.00 L90.75,565.00 L91.15,565.00 L91.55,565.00 L91.95,565.00 L92.35,565.00 L92.75,565.00 L93.15,565.00 L93.55,565.00 L93.95,565.00 L94.35,565.00 L94.75,565.00 L95.15,565.00 L95.55,565.00 L95.95,565.00 L96.35,565.00 L96.75,565.00 L97.15,565.00 L97.55,565.00 L97.95,565.00 L98.35,565.00 L98.75,565.00 L99.15,565.00 L99.55,565.00 L99.95,565.00 L100.35,565.00 L100.75,565.00 L101.15,565.00 L101.55,565.00 L101.95,565.00 L102.35,565.00" fill="none" stroke="#6cb049" stroke-width="0.6" />
<rect x="63.35" y="526.10" width="39.65" height="38.90" fill="none" stroke="#111" stroke-width="1.25"/>
<line x1="61.75" y1="565.00" x2="63.35" y2="565.00" stroke="#000" stroke-width="0.45" />
<line x1="62.45" y1="561.31" x2="63.35" y2="561.31" stroke="#000" stroke-width="0.45" />
<line x1="61.75" y1="557.62" x2="63.35" y2="557.62" stroke="#000" stroke-width="0.45" />
<line x1="62.45" y1="553.93" x2="63.35" y2="553.93" stroke="#000" stroke-width="0.45" />
<line x1="61.75" y1="550.24" x2="63.35" y2="550.24" stroke="#000" stroke-width="0.45" />
<line x1="62.45" y1="546.55" x2="63.35" y2="546.55" stroke="#000" stroke-width="0.45" />
<line x1="61.75" y1="542.86" x2="63.35" y2="542.86" stroke="#000" stroke-width="0.45" />
<line x1="62.45" y1="539.17" x2="63.35" y2="539.17" stroke="#000" stroke-width="0.45" />
<line x1="61.75" y1="535.48" x2="63.35" y2="535.48" stroke="#000" stroke-width="0.45" />
<line x1="62.45" y1="531.79" x2="63.35" y2="531.79" stroke="#000" stroke-width="0.45" />
<line x1="61.75" y1="528.10" x2="63.35" y2="528.10" stroke="#000" stroke-width="0.45" />
<line x1="66.35" y1="565.00" x2="66.35" y2="566.60" stroke="#000" stroke-width="0.6" />
<line x1="68.50" y1="565.00" x2="68.50" y2="565.90" stroke="#000" stroke-width="0.4" />
<line x1="69.75" y1="565.00" x2="69.75" y2="565.90" stroke="#000" stroke-width="0.4" />
<line x1="70.64" y1="565.00" x2="70.64" y2="565.90" stroke="#000" stroke-width="0.4" />
<line x1="71.33" y1="565.00" x2="71.33" y2="565.90" stroke="#000" stroke-width="0.4" />
<line x1="71.90" y1="565.00" x2="71.90" y2="565.90" stroke="#000" stroke-width="0.4" />
<line x1="72.38" y1="565.00" x2="72.38" y2="565.90" stroke="#000" stroke-width="0.4" />
<line x1="72.79" y1="565.00" x2="72.79" y2="565.90" stroke="#000" stroke-width="0.4" />
<line x1="73.15" y1="565.00" x2="73.15" y2="565.90" stroke="#000" stroke-width="0.4" />
<line x1="73.48" y1="565.00" x2="73.48" y2="566.60" stroke="#000" stroke-width="0.6" />
<line x1="75.63" y1="565.00" x2="75.63" y2="565.90" stroke="#000" stroke-width="0.4" />
<line x1="76.88" y1="565.00" x2="76.88" y2="565.90" stroke="#000" stroke-width="0.4" />
<line x1="77.77" y1="565.00" x2="77.77" y2="565.90" stroke="#000" stroke-width="0.4" />
<line x1="78.46" y1="565.00" x2="78.46" y2="565.90" stroke="#000" stroke-width="0.4" />
<line x1="79.03" y1="565.00" x2="79.03" y2="565.90" stroke="#000" stroke-width="0.4" />
<line x1="79.51" y1="565.00" x2="79.51" y2="565.90" stroke="#000" stroke-width="0.4" />
<line x1="79.92" y1="565.00" x2="79.92" y2="565.90" stroke="#000" stroke-width="0.4" />
<line x1="80.28" y1="565.00" x2="80.28" y2="565.90" stroke="#000" stroke-width="0.4" />
<line x1="80.61" y1="565.00" x2="80.61" y2="566.60" stroke="#000" stroke-width="0.6" />
<line x1="82.76" y1="565.00" x2="82.76" y2="565.90" stroke="#000" stroke-width="0.4" />
<line x1="84.01" y1="565.00" x2="84.01" y2="565.90" stroke="#000" stroke-width="0.4" />
<line x1="84.90" y1="565.00" x2="84.90" y2="565.90" stroke="#000" stroke-width="0.4" />
<line x1="85.59" y1="565.00" x2="85.59" y2="565.90" stroke="#000" stroke-width="0.4" />
<line x1="86.16" y1="565.00" x2="86.16" y2="565.90" stroke="#000" stroke-width="0.4" />
<line x1="86.64" y1="565.00" x2="86.64" y2="565.90" stroke="#000" stroke-width="0.4" />
<line x1="87.05" y1="565.00" x2="87.05" y2="565.90" stroke="#000" stroke-width="0.4" />
<line x1="87.41" y1="565.00" x2="87.41" y2="565.90" stroke="#000" stroke-width="0.4" />
<line x1="87.74" y1="565.00" x2="87.74" y2="566.60" stroke="#000" stroke-width="0.6" />
<line x1="89.89" y1="565.00" x2="89.89" y2="565.90" stroke="#000" stroke-width="0.4" />
<line x1="91.14" y1="565.00" x2="91.14" y2="565.90" stroke="#000" stroke-width="0.4" />
<line x1="92.03" y1="565.00" x2="92.03" y2="565.90" stroke="#000" stroke-width="0.4" />
<line x1="92.72" y1="565.00" x2="92.72" y2="565.90" stroke="#000" stroke-width="0.4" />
<line x1="93.29" y1="565.00" x2="93.29" y2="565.90" stroke="#000" stroke-width="0.4" />
<line x1="93.77" y1="565.00" x2="93.77" y2="565.90" stroke="#000" stroke-width="0.4" />
<line x1="94.18" y1="565.00" x2="94.18" y2="565.90" stroke="#000" stroke-width="0.4" />
<line x1="94.54" y1="565.00" x2="94.54" y2="565.90" stroke="#000" stroke-width="0.4" />
<line x1="94.87" y1="565.00" x2="94.87" y2="566.60" stroke="#000" stroke-width="0.6" />
<line x1="97.02" y1="565.00" x2="97.02" y2="565.90" stroke="#000" stroke-width="0.4" />
<line x1="98.27" y1="565.00" x2="98.27" y2="565.90" stroke="#000" stroke-width="0.4" />
<line x1="99.16" y1="565.00" x2="99.16" y2="565.90" stroke="#000" stroke-width="0.4" />
<line x1="99.85" y1="565.00" x2="99.85" y2="565.90" stroke="#000" stroke-width="0.4" />
<line x1="100.42" y1="565.00" x2="100.42" y2="565.90" stroke="#000" stroke-width="0.4" />
<line x1="100.90" y1="565.00" x2="100.90" y2="565.90" stroke="#000" stroke-width="0.4" />
<line x1="101.31" y1="565.00" x2="101.31" y2="565.90" stroke="#000" stroke-width="0.4" />
<line x1="101.67" y1="565.00" x2="101.67" y2="565.90" stroke="#000" stroke-width="0.4" />
<line x1="86.50" y1="543.50" x2="103.00" y2="543.50" stroke="#222" stroke-width="0.8" />
<line x1="86.50" y1="541.80" x2="86.50" y2="544.20" stroke="#222" stroke-width="0.7" />
<text x="83.80" y="534.26" font-size="5.6" text-anchor="middle" fill="#231f20" stroke="#231f20" stroke-width="0.1" >65%</text>
<path d="M116.60,565.00 L116.60,565.00 L117.00,565.00 L117.40,565.00 L117.80,565.00 L118.20,565.00 L118.60,565.00 L119.00,565.00 L119.40,565.00 L119.80,565.00 L120.20,565.00 L120.60,565.00 L121.00,565.00 L121.40,565.00 L121.80,565.00 L122.20,565.00 L122.60,565.00 L123.00,565.00 L123.40,565.00 L123.80,565.00 L124.20,565.00 L124.60,564.99 L125.00,564.98 L125.40,564.96 L125.80,564.92 L126.20,564.84 L126.60,564.72 L127.00,564.51 L127.40,564.20 L127.80,563.76 L128.20,563.16 L128.60,562.40 L129.00,561.50 L129.40,560.52 L129.80,559.54 L130.20,558.66 L130.60,558.00 L131.00,557.64 L131.40,557.62 L131.80,557.84 L132.20,558.27 L132.60,558.86 L133.00,559.55 L133.40,560.29 L133.80,561.00 L134.20,561.65 L134.60,562.19 L135.00,562.63 L135.40,562.96 L135.80,563.19 L136.20,563.36 L136.60,563.49 L137.00,563.60 L137.40,563.72 L137.80,563.84 L138.20,563.98 L138.60,564.13 L139.00,564.28 L139.40,564.42 L139.80,564.55 L140.20,564.64 L140.60,564.67 L141.00,564.55 L141.40,564.12 L141.80,563.09 L142.20,561.05 L142.60,557.57 L143.00,552.44 L143.40,545.96 L143.80,539.16 L144.20,533.61 L144.60,530.89 L145.00,531.67 L145.40,535.39 L145.80,541.07 L146.20,547.41 L146.60,553.24 L147.00,557.84 L147.40,561.04 L147.80,563.01 L148.20,564.09 L148.60,564.62 L149.00,564.86 L149.40,564.95 L149.80,564.98 L150.20,565.00 L150.60,565.00 L151.00,565.00 L151.40,565.00 L151.80,565.00 L152.20,565.00 L152.60,565.00 L153.00,565.00 L153.40,565.00 L153.80,565.00 L154.20,565.00 L154.60,565.00 L154.60,565.00 Z" fill="#2a4a88" stroke="none" stroke-width="1" />
<path d="M116.60,565.00 L116.60,563.58 L117.00,563.32 L117.40,563.03 L117.80,562.72 L118.20,562.39 L118.60,562.06 L119.00,561.72 L119.40,561.37 L119.80,561.02 L120.20,560.67 L120.60,560.31 L121.00,559.93 L121.40,559.50 L121.80,559.01 L122.20,558.40 L122.60,557.66 L123.00,556.72 L123.40,555.55 L123.80,554.12 L124.20,552.42 L124.60,550.43 L125.00,548.21 L125.40,545.80 L125.80,543.30 L126.20,540.83 L126.60,538.53 L127.00,536.54 L127.40,535.00 L127.80,534.03 L128.20,533.71 L128.60,534.47 L129.00,537.16 L129.40,541.31 L129.80,546.21 L130.20,551.10 L130.60,555.41 L131.00,558.82 L131.40,561.29 L131.80,562.91 L132.20,563.90 L132.60,564.45 L133.00,564.74 L133.40,564.88 L133.80,564.95 L134.20,564.98 L134.60,564.99 L135.00,564.99 L135.40,565.00 L135.80,565.00 L136.20,565.00 L136.60,565.00 L137.00,565.00 L137.40,565.00 L137.80,565.00 L138.20,565.00 L138.60,565.00 L139.00,565.00 L139.40,565.00 L139.80,565.00 L140.20,565.00 L140.60,565.00 L141.00,565.00 L141.40,565.00 L141.80,565.00 L142.20,565.00 L142.60,565.00 L143.00,565.00 L143.40,565.00 L143.80,565.00 L144.20,565.00 L144.60,565.00 L145.00,565.00 L145.40,565.00 L145.80,565.00 L146.20,565.00 L146.60,565.00 L147.00,565.00 L147.40,565.00 L147.80,565.00 L148.20,565.00 L148.60,565.00 L149.00,565.00 L149.40,565.00 L149.80,565.00 L150.20,565.00 L150.60,565.00 L151.00,565.00 L151.40,565.00 L151.80,565.00 L152.20,565.00 L152.60,565.00 L153.00,565.00 L153.40,565.00 L153.80,565.00 L154.20,565.00 L154.60,565.00 L154.60,565.00 Z" fill="#b6d8a0" stroke="none" stroke-width="1" />
<path d="M116.60,565.00 L116.60,565.00 L117.00,565.00 L117.40,565.00 L117.80,565.00 L118.20,565.00 L118.60,565.00 L119.00,565.00 L119.40,565.00 L119.80,565.00 L120.20,565.00 L120.60,565.00 L121.00,565.00 L121.40,565.00 L121.80,565.00 L122.20,565.00 L122.60,565.00 L123.00,565.00 L123.40,565.00 L123.80,565.00 L124.20,565.00 L124.60,564.99 L125.00,564.98 L125.40,564.96 L125.80,564.92 L126.20,564.84 L126.60,564.72 L127.00,564.51 L127.40,564.20 L127.80,563.76 L128.20,563.16 L128.60,562.40 L129.00,561.50 L129.40,560.52 L129.80,559.54 L130.20,558.66 L130.60,558.00 L131.00,558.82 L131.40,561.29 L131.80,562.91 L132.20,563.90 L132.60,564.45 L133.00,564.74 L133.40,564.88 L133.80,564.95 L134.20,564.98 L134.60,564.99 L135.00,564.99 L135.40,565.00 L135.80,565.00 L136.20,565.00 L136.60,565.00 L137.00,565.00 L137.40,565.00 L137.80,565.00 L138.20,565.00 L138.60,565.00 L139.00,565.00 L139.40,565.00 L139.80,565.00 L140.20,565.00 L140.60,565.00 L141.00,565.00 L141.40,565.00 L141.80,565.00 L142.20,565.00 L142.60,565.00 L143.00,565.00 L143.40,565.00 L143.80,565.00 L144.20,565.00 L144.60,565.00 L145.00,565.00 L145.40,565.00 L145.80,565.00 L146.20,565.00 L146.60,565.00 L147.00,565.00 L147.40,565.00 L147.80,565.00 L148.20,565.00 L148.60,565.00 L149.00,565.00 L149.40,565.00 L149.80,565.00 L150.20,565.00 L150.60,565.00 L151.00,565.00 L151.40,565.00 L151.80,565.00 L152.20,565.00 L152.60,565.00 L153.00,565.00 L153.40,565.00 L153.80,565.00 L154.20,565.00 L154.60,565.00 L154.60,565.00 Z" fill="#3f6d4c" stroke="none" stroke-width="1" />
<path d="M116.60,563.58 L117.00,563.32 L117.40,563.03 L117.80,562.72 L118.20,562.39 L118.60,562.06 L119.00,561.72 L119.40,561.37 L119.80,561.02 L120.20,560.67 L120.60,560.31 L121.00,559.93 L121.40,559.50 L121.80,559.01 L122.20,558.40 L122.60,557.66 L123.00,556.72 L123.40,555.55 L123.80,554.12 L124.20,552.42 L124.60,550.43 L125.00,548.21 L125.40,545.80 L125.80,543.30 L126.20,540.83 L126.60,538.53 L127.00,536.54 L127.40,535.00 L127.80,534.03 L128.20,533.71 L128.60,534.47 L129.00,537.16 L129.40,541.31 L129.80,546.21 L130.20,551.10 L130.60,555.41 L131.00,558.82 L131.40,561.29 L131.80,562.91 L132.20,563.90 L132.60,564.45 L133.00,564.74 L133.40,564.88 L133.80,564.95 L134.20,564.98 L134.60,564.99 L135.00,564.99 L135.40,565.00 L135.80,565.00 L136.20,565.00 L136.60,565.00 L137.00,565.00 L137.40,565.00 L137.80,565.00 L138.20,565.00 L138.60,565.00 L139.00,565.00 L139.40,565.00 L139.80,565.00 L140.20,565.00 L140.60,565.00 L141.00,565.00 L141.40,565.00 L141.80,565.00 L142.20,565.00 L142.60,565.00 L143.00,565.00 L143.40,565.00 L143.80,565.00 L144.20,565.00 L144.60,565.00 L145.00,565.00 L145.40,565.00 L145.80,565.00 L146.20,565.00 L146.60,565.00 L147.00,565.00 L147.40,565.00 L147.80,565.00 L148.20,565.00 L148.60,565.00 L149.00,565.00 L149.40,565.00 L149.80,565.00 L150.20,565.00 L150.60,565.00 L151.00,565.00 L151.40,565.00 L151.80,565.00 L152.20,565.00 L152.60,565.00 L153.00,565.00 L153.40,565.00 L153.80,565.00 L154.20,565.00 L154.60,565.00" fill="none" stroke="#6cb049" stroke-width="0.6" />
<rect x="116.00" y="526.10" width="39.50" height="38.90" fill="none" stroke="#111" stroke-width="1.25"/>
<line x1="114.40" y1="565.00" x2="116.00" y2="565.00" stroke="#000" stroke-width="0.45" />
<line x1="115.10" y1="561.31" x2="116.00" y2="561.31" stroke="#000" stroke-width="0.45" />
<line x1="114.40" y1="557.62" x2="116.00" y2="557.62" stroke="#000" stroke-width="0.45" />
<line x1="115.10" y1="553.93" x2="116.00" y2="553.93" stroke="#000" stroke-width="0.45" />
<line x1="114.40" y1="550.24" x2="116.00" y2="550.24" stroke="#000" stroke-width="0.45" />
<line x1="115.10" y1="546.55" x2="116.00" y2="546.55" stroke="#000" stroke-width="0.45" />
<line x1="114.40" y1="542.86" x2="116.00" y2="542.86" stroke="#000" stroke-width="0.45" />
<line x1="115.10" y1="539.17" x2="116.00" y2="539.17" stroke="#000" stroke-width="0.45" />
<line x1="114.40" y1="535.48" x2="116.00" y2="535.48" stroke="#000" stroke-width="0.45" />
<line x1="115.10" y1="531.79" x2="116.00" y2="531.79" stroke="#000" stroke-width="0.45" />
<line x1="114.40" y1="528.10" x2="116.00" y2="528.10" stroke="#000" stroke-width="0.45" />
<line x1="119.00" y1="565.00" x2="119.00" y2="566.60" stroke="#000" stroke-width="0.6" />
<line x1="121.14" y1="565.00" x2="121.14" y2="565.90" stroke="#000" stroke-width="0.4" />
<line x1="122.39" y1="565.00" x2="122.39" y2="565.90" stroke="#000" stroke-width="0.4" />
<line x1="123.27" y1="565.00" x2="123.27" y2="565.90" stroke="#000" stroke-width="0.4" />
<line x1="123.96" y1="565.00" x2="123.96" y2="565.90" stroke="#000" stroke-width="0.4" />
<line x1="124.52" y1="565.00" x2="124.52" y2="565.90" stroke="#000" stroke-width="0.4" />
<line x1="125.00" y1="565.00" x2="125.00" y2="565.90" stroke="#000" stroke-width="0.4" />
<line x1="125.41" y1="565.00" x2="125.41" y2="565.90" stroke="#000" stroke-width="0.4" />
<line x1="125.78" y1="565.00" x2="125.78" y2="565.90" stroke="#000" stroke-width="0.4" />
<line x1="126.10" y1="565.00" x2="126.10" y2="566.60" stroke="#000" stroke-width="0.6" />
<line x1="128.24" y1="565.00" x2="128.24" y2="565.90" stroke="#000" stroke-width="0.4" />
<line x1="129.49" y1="565.00" x2="129.49" y2="565.90" stroke="#000" stroke-width="0.4" />
<line x1="130.37" y1="565.00" x2="130.37" y2="565.90" stroke="#000" stroke-width="0.4" />
<line x1="131.06" y1="565.00" x2="131.06" y2="565.90" stroke="#000" stroke-width="0.4" />
<line x1="131.62" y1="565.00" x2="131.62" y2="565.90" stroke="#000" stroke-width="0.4" />
<line x1="132.10" y1="565.00" x2="132.10" y2="565.90" stroke="#000" stroke-width="0.4" />
<line x1="132.51" y1="565.00" x2="132.51" y2="565.90" stroke="#000" stroke-width="0.4" />
<line x1="132.88" y1="565.00" x2="132.88" y2="565.90" stroke="#000" stroke-width="0.4" />
<line x1="133.20" y1="565.00" x2="133.20" y2="566.60" stroke="#000" stroke-width="0.6" />
<line x1="135.34" y1="565.00" x2="135.34" y2="565.90" stroke="#000" stroke-width="0.4" />
<line x1="136.59" y1="565.00" x2="136.59" y2="565.90" stroke="#000" stroke-width="0.4" />
<line x1="137.47" y1="565.00" x2="137.47" y2="565.90" stroke="#000" stroke-width="0.4" />
<line x1="138.16" y1="565.00" x2="138.16" y2="565.90" stroke="#000" stroke-width="0.4" />
<line x1="138.72" y1="565.00" x2="138.72" y2="565.90" stroke="#000" stroke-width="0.4" />
<line x1="139.20" y1="565.00" x2="139.20" y2="565.90" stroke="#000" stroke-width="0.4" />
<line x1="139.61" y1="565.00" x2="139.61" y2="565.90" stroke="#000" stroke-width="0.4" />
<line x1="139.98" y1="565.00" x2="139.98" y2="565.90" stroke="#000" stroke-width="0.4" />
<line x1="140.30" y1="565.00" x2="140.30" y2="566.60" stroke="#000" stroke-width="0.6" />
<line x1="142.44" y1="565.00" x2="142.44" y2="565.90" stroke="#000" stroke-width="0.4" />
<line x1="143.69" y1="565.00" x2="143.69" y2="565.90" stroke="#000" stroke-width="0.4" />
<line x1="144.57" y1="565.00" x2="144.57" y2="565.90" stroke="#000" stroke-width="0.4" />
<line x1="145.26" y1="565.00" x2="145.26" y2="565.90" stroke="#000" stroke-width="0.4" />
<line x1="145.82" y1="565.00" x2="145.82" y2="565.90" stroke="#000" stroke-width="0.4" />
<line x1="146.30" y1="565.00" x2="146.30" y2="565.90" stroke="#000" stroke-width="0.4" />
<line x1="146.71" y1="565.00" x2="146.71" y2="565.90" stroke="#000" stroke-width="0.4" />
<line x1="147.08" y1="565.00" x2="147.08" y2="565.90" stroke="#000" stroke-width="0.4" />
<line x1="147.40" y1="565.00" x2="147.40" y2="566.60" stroke="#000" stroke-width="0.6" />
<line x1="149.54" y1="565.00" x2="149.54" y2="565.90" stroke="#000" stroke-width="0.4" />
<line x1="150.79" y1="565.00" x2="150.79" y2="565.90" stroke="#000" stroke-width="0.4" />
<line x1="151.67" y1="565.00" x2="151.67" y2="565.90" stroke="#000" stroke-width="0.4" />
<line x1="152.36" y1="565.00" x2="152.36" y2="565.90" stroke="#000" stroke-width="0.4" />
<line x1="152.92" y1="565.00" x2="152.92" y2="565.90" stroke="#000" stroke-width="0.4" />
<line x1="153.40" y1="565.00" x2="153.40" y2="565.90" stroke="#000" stroke-width="0.4" />
<line x1="153.81" y1="565.00" x2="153.81" y2="565.90" stroke="#000" stroke-width="0.4" />
<line x1="154.18" y1="565.00" x2="154.18" y2="565.90" stroke="#000" stroke-width="0.4" />
<line x1="138.90" y1="543.50" x2="155.50" y2="543.50" stroke="#222" stroke-width="0.8" />
<line x1="138.90" y1="541.80" x2="138.90" y2="544.20" stroke="#222" stroke-width="0.7" />
<text x="136.40" y="534.26" font-size="5.6" text-anchor="middle" fill="#231f20" stroke="#231f20" stroke-width="0.1" >68%</text>
<path d="M168.95,565.00 L168.95,565.00 L169.35,565.00 L169.75,565.00 L170.15,565.00 L170.55,565.00 L170.95,565.00 L171.35,565.00 L171.75,564.99 L172.15,564.99 L172.55,564.98 L172.95,564.96 L173.35,564.94 L173.75,564.90 L174.15,564.84 L174.55,564.74 L174.95,564.59 L175.35,564.38 L175.75,564.09 L176.15,563.68 L176.55,563.13 L176.95,562.42 L177.35,561.52 L177.75,560.41 L178.15,559.10 L178.55,557.59 L178.95,555.92 L179.35,554.12 L179.75,552.27 L180.15,550.46 L180.55,548.78 L180.95,547.33 L181.35,546.19 L181.75,545.45 L182.15,545.16 L182.55,545.40 L182.95,546.26 L183.35,547.66 L183.75,549.46 L184.15,551.50 L184.55,553.62 L184.95,555.67 L185.35,557.51 L185.75,559.08 L186.15,560.34 L186.55,561.27 L186.95,561.92 L187.35,562.33 L187.75,562.58 L188.15,562.71 L188.55,562.80 L188.95,562.88 L189.35,562.98 L189.75,563.13 L190.15,563.32 L190.55,563.54 L190.95,563.77 L191.35,563.96 L191.75,564.08 L192.15,564.01 L192.55,563.59 L192.95,562.54 L193.35,560.53 L193.75,557.23 L194.15,552.49 L194.55,546.58 L194.95,540.27 L195.35,534.78 L195.75,531.39 L196.15,530.96 L196.55,533.31 L196.95,537.81 L197.35,543.50 L197.75,549.33 L198.15,554.47 L198.55,558.48 L198.95,561.28 L199.35,563.05 L199.75,564.05 L200.15,564.58 L200.55,564.83 L200.95,564.93 L201.35,564.98 L201.75,564.99 L202.15,565.00 L202.55,565.00 L202.95,565.00 L203.35,565.00 L203.75,565.00 L204.15,565.00 L204.55,565.00 L204.95,565.00 L205.35,565.00 L205.75,565.00 L206.15,565.00 L206.55,565.00 L206.95,565.00 L207.35,565.00 L207.75,565.00 L207.75,565.00 Z" fill="#2a4a88" stroke="none" stroke-width="1" />
<path d="M168.95,565.00 L168.95,563.95 L169.35,563.73 L169.75,563.48 L170.15,563.21 L170.55,562.92 L170.95,562.60 L171.35,562.28 L171.75,561.94 L172.15,561.60 L172.55,561.26 L172.95,560.92 L173.35,560.57 L173.75,560.20 L174.15,559.80 L174.55,559.32 L174.95,558.74 L175.35,557.99 L175.75,557.04 L176.15,555.81 L176.55,554.28 L176.95,552.41 L177.35,550.20 L177.75,547.69 L178.15,544.97 L178.55,542.16 L178.95,539.41 L179.35,536.92 L179.75,534.86 L180.15,533.42 L180.55,532.72 L180.95,532.93 L181.35,535.00 L181.75,538.81 L182.15,543.66 L182.55,548.79 L182.95,553.51 L183.35,557.39 L183.75,560.30 L184.15,562.28 L184.55,563.52 L184.95,564.24 L185.35,564.63 L185.75,564.82 L186.15,564.92 L186.55,564.96 L186.95,564.98 L187.35,564.99 L187.75,564.99 L188.15,565.00 L188.55,565.00 L188.95,565.00 L189.35,565.00 L189.75,565.00 L190.15,565.00 L190.55,565.00 L190.95,565.00 L191.35,565.00 L191.75,565.00 L192.15,565.00 L192.55,565.00 L192.95,565.00 L193.35,565.00 L193.75,565.00 L194.15,565.00 L194.55,565.00 L194.95,565.00 L195.35,565.00 L195.75,565.00 L196.15,565.00 L196.55,565.00 L196.95,565.00 L197.35,565.00 L197.75,565.00 L198.15,565.00 L198.55,565.00 L198.95,565.00 L199.35,565.00 L199.75,565.00 L200.15,565.00 L200.55,565.00 L200.95,565.00 L201.35,565.00 L201.75,565.00 L202.15,565.00 L202.55,565.00 L202.95,565.00 L203.35,565.00 L203.75,565.00 L204.15,565.00 L204.55,565.00 L204.95,565.00 L205.35,565.00 L205.75,565.00 L206.15,565.00 L206.55,565.00 L206.95,565.00 L207.35,565.00 L207.75,565.00 L207.75,565.00 Z" fill="#b6d8a0" stroke="none" stroke-width="1" />
<path d="M168.95,565.00 L168.95,565.00 L169.35,565.00 L169.75,565.00 L170.15,565.00 L170.55,565.00 L170.95,565.00 L171.35,565.00 L171.75,564.99 L172.15,564.99 L172.55,564.98 L172.95,564.96 L173.35,564.94 L173.75,564.90 L174.15,564.84 L174.55,564.74 L174.95,564.59 L175.35,564.38 L175.75,564.09 L176.15,563.68 L176.55,563.13 L176.95,562.42 L177.35,561.52 L177.75,560.41 L178.15,559.10 L178.55,557.59 L178.95,555.92 L179.35,554.12 L179.75,552.27 L180.15,550.46 L180.55,548.78 L180.95,547.33 L181.35,546.19 L181.75,545.45 L182.15,545.16 L182.55,548.79 L182.95,553.51 L183.35,557.39 L183.75,560.30 L184.15,562.28 L184.55,563.52 L184.95,564.24 L185.35,564.63 L185.75,564.82 L186.15,564.92 L186.55,564.96 L186.95,564.98 L187.35,564.99 L187.75,564.99 L188.15,565.00 L188.55,565.00 L188.95,565.00 L189.35,565.00 L189.75,565.00 L190.15,565.00 L190.55,565.00 L190.95,565.00 L191.35,565.00 L191.75,565.00 L192.15,565.00 L192.55,565.00 L192.95,565.00 L193.35,565.00 L193.75,565.00 L194.15,565.00 L194.55,565.00 L194.95,565.00 L195.35,565.00 L195.75,565.00 L196.15,565.00 L196.55,565.00 L196.95,565.00 L197.35,565.00 L197.75,565.00 L198.15,565.00 L198.55,565.00 L198.95,565.00 L199.35,565.00 L199.75,565.00 L200.15,565.00 L200.55,565.00 L200.95,565.00 L201.35,565.00 L201.75,565.00 L202.15,565.00 L202.55,565.00 L202.95,565.00 L203.35,565.00 L203.75,565.00 L204.15,565.00 L204.55,565.00 L204.95,565.00 L205.35,565.00 L205.75,565.00 L206.15,565.00 L206.55,565.00 L206.95,565.00 L207.35,565.00 L207.75,565.00 L207.75,565.00 Z" fill="#3f6d4c" stroke="none" stroke-width="1" />
<path d="M168.95,563.95 L169.35,563.73 L169.75,563.48 L170.15,563.21 L170.55,562.92 L170.95,562.60 L171.35,562.28 L171.75,561.94 L172.15,561.60 L172.55,561.26 L172.95,560.92 L173.35,560.57 L173.75,560.20 L174.15,559.80 L174.55,559.32 L174.95,558.74 L175.35,557.99 L175.75,557.04 L176.15,555.81 L176.55,554.28 L176.95,552.41 L177.35,550.20 L177.75,547.69 L178.15,544.97 L178.55,542.16 L178.95,539.41 L179.35,536.92 L179.75,534.86 L180.15,533.42 L180.55,532.72 L180.95,532.93 L181.35,535.00 L181.75,538.81 L182.15,543.66 L182.55,548.79 L182.95,553.51 L183.35,557.39 L183.75,560.30 L184.15,562.28 L184.55,563.52 L184.95,564.24 L185.35,564.63 L185.75,564.82 L186.15,564.92 L186.55,564.96 L186.95,564.98 L187.35,564.99 L187.75,564.99 L188.15,565.00 L188.55,565.00 L188.95,565.00 L189.35,565.00 L189.75,565.00 L190.15,565.00 L190.55,565.00 L190.95,565.00 L191.35,565.00 L191.75,565.00 L192.15,565.00 L192.55,565.00 L192.95,565.00 L193.35,565.00 L193.75,565.00 L194.15,565.00 L194.55,565.00 L194.95,565.00 L195.35,565.00 L195.75,565.00 L196.15,565.00 L196.55,565.00 L196.95,565.00 L197.35,565.00 L197.75,565.00 L198.15,565.00 L198.55,565.00 L198.95,565.00 L199.35,565.00 L199.75,565.00 L200.15,565.00 L200.55,565.00 L200.95,565.00 L201.35,565.00 L201.75,565.00 L202.15,565.00 L202.55,565.00 L202.95,565.00 L203.35,565.00 L203.75,565.00 L204.15,565.00 L204.55,565.00 L204.95,565.00 L205.35,565.00 L205.75,565.00 L206.15,565.00 L206.55,565.00 L206.95,565.00 L207.35,565.00 L207.75,565.00" fill="none" stroke="#6cb049" stroke-width="0.6" />
<rect x="168.35" y="526.10" width="40.00" height="38.90" fill="none" stroke="#111" stroke-width="1.25"/>
<line x1="166.75" y1="565.00" x2="168.35" y2="565.00" stroke="#000" stroke-width="0.45" />
<line x1="167.45" y1="561.31" x2="168.35" y2="561.31" stroke="#000" stroke-width="0.45" />
<line x1="166.75" y1="557.62" x2="168.35" y2="557.62" stroke="#000" stroke-width="0.45" />
<line x1="167.45" y1="553.93" x2="168.35" y2="553.93" stroke="#000" stroke-width="0.45" />
<line x1="166.75" y1="550.24" x2="168.35" y2="550.24" stroke="#000" stroke-width="0.45" />
<line x1="167.45" y1="546.55" x2="168.35" y2="546.55" stroke="#000" stroke-width="0.45" />
<line x1="166.75" y1="542.86" x2="168.35" y2="542.86" stroke="#000" stroke-width="0.45" />
<line x1="167.45" y1="539.17" x2="168.35" y2="539.17" stroke="#000" stroke-width="0.45" />
<line x1="166.75" y1="535.48" x2="168.35" y2="535.48" stroke="#000" stroke-width="0.45" />
<line x1="167.45" y1="531.79" x2="168.35" y2="531.79" stroke="#000" stroke-width="0.45" />
<line x1="166.75" y1="528.10" x2="168.35" y2="528.10" stroke="#000" stroke-width="0.45" />
<line x1="171.35" y1="565.00" x2="171.35" y2="566.60" stroke="#000" stroke-width="0.6" />
<line x1="173.52" y1="565.00" x2="173.52" y2="565.90" stroke="#000" stroke-width="0.4" />
<line x1="174.79" y1="565.00" x2="174.79" y2="565.90" stroke="#000" stroke-width="0.4" />
<line x1="175.68" y1="565.00" x2="175.68" y2="565.90" stroke="#000" stroke-width="0.4" />
<line x1="176.38" y1="565.00" x2="176.38" y2="565.90" stroke="#000" stroke-width="0.4" />
<line x1="176.95" y1="565.00" x2="176.95" y2="565.90" stroke="#000" stroke-width="0.4" />
<line x1="177.43" y1="565.00" x2="177.43" y2="565.90" stroke="#000" stroke-width="0.4" />
<line x1="177.85" y1="565.00" x2="177.85" y2="565.90" stroke="#000" stroke-width="0.4" />
<line x1="178.22" y1="565.00" x2="178.22" y2="565.90" stroke="#000" stroke-width="0.4" />
<line x1="178.55" y1="565.00" x2="178.55" y2="566.60" stroke="#000" stroke-width="0.6" />
<line x1="180.72" y1="565.00" x2="180.72" y2="565.90" stroke="#000" stroke-width="0.4" />
<line x1="181.99" y1="565.00" x2="181.99" y2="565.90" stroke="#000" stroke-width="0.4" />
<line x1="182.88" y1="565.00" x2="182.88" y2="565.90" stroke="#000" stroke-width="0.4" />
<line x1="183.58" y1="565.00" x2="183.58" y2="565.90" stroke="#000" stroke-width="0.4" />
<line x1="184.15" y1="565.00" x2="184.15" y2="565.90" stroke="#000" stroke-width="0.4" />
<line x1="184.63" y1="565.00" x2="184.63" y2="565.90" stroke="#000" stroke-width="0.4" />
<line x1="185.05" y1="565.00" x2="185.05" y2="565.90" stroke="#000" stroke-width="0.4" />
<line x1="185.42" y1="565.00" x2="185.42" y2="565.90" stroke="#000" stroke-width="0.4" />
<line x1="185.75" y1="565.00" x2="185.75" y2="566.60" stroke="#000" stroke-width="0.6" />
<line x1="187.92" y1="565.00" x2="187.92" y2="565.90" stroke="#000" stroke-width="0.4" />
<line x1="189.19" y1="565.00" x2="189.19" y2="565.90" stroke="#000" stroke-width="0.4" />
<line x1="190.08" y1="565.00" x2="190.08" y2="565.90" stroke="#000" stroke-width="0.4" />
<line x1="190.78" y1="565.00" x2="190.78" y2="565.90" stroke="#000" stroke-width="0.4" />
<line x1="191.35" y1="565.00" x2="191.35" y2="565.90" stroke="#000" stroke-width="0.4" />
<line x1="191.83" y1="565.00" x2="191.83" y2="565.90" stroke="#000" stroke-width="0.4" />
<line x1="192.25" y1="565.00" x2="192.25" y2="565.90" stroke="#000" stroke-width="0.4" />
<line x1="192.62" y1="565.00" x2="192.62" y2="565.90" stroke="#000" stroke-width="0.4" />
<line x1="192.95" y1="565.00" x2="192.95" y2="566.60" stroke="#000" stroke-width="0.6" />
<line x1="195.12" y1="565.00" x2="195.12" y2="565.90" stroke="#000" stroke-width="0.4" />
<line x1="196.39" y1="565.00" x2="196.39" y2="565.90" stroke="#000" stroke-width="0.4" />
<line x1="197.28" y1="565.00" x2="197.28" y2="565.90" stroke="#000" stroke-width="0.4" />
<line x1="197.98" y1="565.00" x2="197.98" y2="565.90" stroke="#000" stroke-width="0.4" />
<line x1="198.55" y1="565.00" x2="198.55" y2="565.90" stroke="#000" stroke-width="0.4" />
<line x1="199.03" y1="565.00" x2="199.03" y2="565.90" stroke="#000" stroke-width="0.4" />
<line x1="199.45" y1="565.00" x2="199.45" y2="565.90" stroke="#000" stroke-width="0.4" />
<line x1="199.82" y1="565.00" x2="199.82" y2="565.90" stroke="#000" stroke-width="0.4" />
<line x1="200.15" y1="565.00" x2="200.15" y2="566.60" stroke="#000" stroke-width="0.6" />
<line x1="202.32" y1="565.00" x2="202.32" y2="565.90" stroke="#000" stroke-width="0.4" />
<line x1="203.59" y1="565.00" x2="203.59" y2="565.90" stroke="#000" stroke-width="0.4" />
<line x1="204.48" y1="565.00" x2="204.48" y2="565.90" stroke="#000" stroke-width="0.4" />
<line x1="205.18" y1="565.00" x2="205.18" y2="565.90" stroke="#000" stroke-width="0.4" />
<line x1="205.75" y1="565.00" x2="205.75" y2="565.90" stroke="#000" stroke-width="0.4" />
<line x1="206.23" y1="565.00" x2="206.23" y2="565.90" stroke="#000" stroke-width="0.4" />
<line x1="206.65" y1="565.00" x2="206.65" y2="565.90" stroke="#000" stroke-width="0.4" />
<line x1="207.02" y1="565.00" x2="207.02" y2="565.90" stroke="#000" stroke-width="0.4" />
<line x1="191.80" y1="543.50" x2="208.35" y2="543.50" stroke="#222" stroke-width="0.8" />
<line x1="191.80" y1="541.80" x2="191.80" y2="544.20" stroke="#222" stroke-width="0.7" />
<text x="186.10" y="534.26" font-size="5.6" text-anchor="middle" fill="#231f20" stroke="#231f20" stroke-width="0.1" >46%</text>
<line x1="11.20" y1="574.50" x2="97.00" y2="574.50" stroke="#111" stroke-width="1.0" />
<path d="M101.00,574.30 L97.00,576.30 L97.00,572.30 Z" fill="#111" stroke="none" stroke-width="1" />
<line x1="116.20" y1="574.50" x2="203.80" y2="574.50" stroke="#111" stroke-width="1.0" />
<path d="M207.80,574.30 L203.80,576.30 L203.80,572.30 Z" fill="#111" stroke="none" stroke-width="1" />
<text transform="translate(10.90 585.91) scale(0.7732 1)" font-size="8.6" text-anchor="start" fill="#231f20" stroke="#231f20" stroke-width="0.1" >CD71</text>
<text transform="translate(116.30 585.91) scale(0.7732 1)" font-size="8.6" text-anchor="start" fill="#231f20" stroke="#231f20" stroke-width="0.1" >CD71</text>
<text x="229.45" y="363.27" font-size="12.2" text-anchor="middle" fill="#000" font-weight="bold" >G</text>
<line x1="259.50" y1="370.80" x2="259.50" y2="427.00" stroke="#000" stroke-width="1.1" />
<line x1="258.50" y1="426.50" x2="339.80" y2="426.50" stroke="#000" stroke-width="1.1" />
<line x1="255.80" y1="426.50" x2="259.00" y2="426.50" stroke="#000" stroke-width="1.0" />
<text x="253.00" y="428.81" font-size="6.6" text-anchor="end" fill="#231f20" stroke="#231f20" stroke-width="0.1" >0</text>
<line x1="255.80" y1="415.50" x2="259.00" y2="415.50" stroke="#000" stroke-width="1.0" />
<text x="253.00" y="418.11" font-size="6.6" text-anchor="end" fill="#231f20" stroke="#231f20" stroke-width="0.1" >20</text>
<line x1="255.80" y1="405.50" x2="259.00" y2="405.50" stroke="#000" stroke-width="1.0" />
<text x="253.00" y="407.41" font-size="6.6" text-anchor="end" fill="#231f20" stroke="#231f20" stroke-width="0.1" >40</text>
<line x1="255.80" y1="394.50" x2="259.00" y2="394.50" stroke="#000" stroke-width="1.0" />
<text x="253.00" y="396.71" font-size="6.6" text-anchor="end" fill="#231f20" stroke="#231f20" stroke-width="0.1" >60</text>
<line x1="255.80" y1="383.50" x2="259.00" y2="383.50" stroke="#000" stroke-width="1.0" />
<text x="253.00" y="386.01" font-size="6.6" text-anchor="end" fill="#231f20" stroke="#231f20" stroke-width="0.1" >80</text>
<line x1="255.80" y1="373.50" x2="259.00" y2="373.50" stroke="#000" stroke-width="1.0" />
<text x="253.00" y="375.31" font-size="6.6" text-anchor="end" fill="#231f20" stroke="#231f20" stroke-width="0.1" >100</text>
<line x1="272.50" y1="426.50" x2="272.50" y2="429.30" stroke="#000" stroke-width="0.9" />
<text transform="translate(272.30 439.52) scale(0.9464 1)" font-size="7.2" text-anchor="middle" fill="#231f20" stroke="#231f20" stroke-width="0.1" >Day 3</text>
<line x1="299.50" y1="426.50" x2="299.50" y2="429.30" stroke="#000" stroke-width="0.9" />
<text transform="translate(299.60 439.52) scale(0.9464 1)" font-size="7.2" text-anchor="middle" fill="#231f20" stroke="#231f20" stroke-width="0.1" >Day 5</text>
<line x1="327.50" y1="426.50" x2="327.50" y2="429.30" stroke="#000" stroke-width="0.9" />
<text transform="translate(327.30 439.52) scale(0.9464 1)" font-size="7.2" text-anchor="middle" fill="#231f20" stroke="#231f20" stroke-width="0.1" >Day 7</text>
<circle cx="266.10" cy="392.26" r="1.1" fill="#27468a"/>
<circle cx="268.60" cy="395.47" r="1.1" fill="#27468a"/>
<circle cx="267.30" cy="404.03" r="1.1" fill="#27468a"/>
<circle cx="276.70" cy="402.96" r="1.1" fill="#78bd4f"/>
<circle cx="278.90" cy="403.50" r="1.1" fill="#78bd4f"/>
<circle cx="277.70" cy="410.45" r="1.1" fill="#78bd4f"/>
<line x1="263.70" y1="397.50" x2="270.90" y2="397.50" stroke="#111" stroke-width="0.9" />
<line x1="274.10" y1="404.50" x2="281.30" y2="404.50" stroke="#111" stroke-width="0.9" />
<line x1="267.30" y1="394.57" x2="267.30" y2="399.57" stroke="#111" stroke-width="0.6" />
<line x1="277.70" y1="402.06" x2="277.70" y2="407.06" stroke="#111" stroke-width="0.6" />
<line x1="267.70" y1="388.50" x2="277.30" y2="388.50" stroke="#222" stroke-width="1.0" />
<text x="272.50" y="387.96" font-size="5.6" text-anchor="middle" fill="#231f20" stroke="#231f20" stroke-width="0.1" >**</text>
<circle cx="295.10" cy="379.95" r="1.1" fill="#27468a"/>
<circle cx="293.40" cy="383.70" r="1.1" fill="#27468a"/>
<circle cx="295.80" cy="382.63" r="1.1" fill="#27468a"/>
<circle cx="305.00" cy="390.65" r="1.1" fill="#78bd4f"/>
<circle cx="304.00" cy="393.33" r="1.1" fill="#78bd4f"/>
<circle cx="306.20" cy="392.26" r="1.1" fill="#78bd4f"/>
<line x1="291.00" y1="382.50" x2="298.20" y2="382.50" stroke="#111" stroke-width="0.9" />
<line x1="301.40" y1="391.50" x2="308.60" y2="391.50" stroke="#111" stroke-width="0.9" />
<line x1="294.60" y1="379.60" x2="294.60" y2="384.60" stroke="#111" stroke-width="0.6" />
<line x1="305.00" y1="389.23" x2="305.00" y2="394.23" stroke="#111" stroke-width="0.6" />
<line x1="295.00" y1="375.50" x2="304.60" y2="375.50" stroke="#222" stroke-width="1.0" />
<text x="299.80" y="374.96" font-size="5.6" text-anchor="middle" fill="#231f20" stroke="#231f20" stroke-width="0.1" >***</text>
<circle cx="321.50" cy="377.81" r="1.1" fill="#27468a"/>
<circle cx="323.30" cy="379.42" r="1.1" fill="#27468a"/>
<circle cx="322.30" cy="378.88" r="1.1" fill="#27468a"/>
<circle cx="332.70" cy="385.84" r="1.1" fill="#78bd4f"/>
<circle cx="333.70" cy="387.98" r="1.1" fill="#78bd4f"/>
<circle cx="332.70" cy="392.80" r="1.1" fill="#78bd4f"/>
<line x1="318.70" y1="378.50" x2="325.90" y2="378.50" stroke="#111" stroke-width="0.9" />
<line x1="329.10" y1="389.50" x2="336.30" y2="389.50" stroke="#111" stroke-width="0.9" />
<line x1="322.30" y1="376.38" x2="322.30" y2="381.38" stroke="#111" stroke-width="0.6" />
<line x1="332.70" y1="386.55" x2="332.70" y2="391.55" stroke="#111" stroke-width="0.6" />
<line x1="322.70" y1="373.50" x2="332.30" y2="373.50" stroke="#222" stroke-width="1.0" />
<text x="327.50" y="373.06" font-size="5.6" text-anchor="middle" fill="#231f20" stroke="#231f20" stroke-width="0.1" >*</text>
<circle cx="309.30" cy="414.8" r="1.0" fill="#27468a"/>
<circle cx="309.30" cy="420.8" r="1.0" fill="#78bd4f"/>
<text transform="translate(313.50 416.76) scale(1.0098 1)" font-size="5.6" text-anchor="start" fill="#231f20" stroke="#231f20" stroke-width="0.1" >shControl</text>
<text transform="translate(313.50 422.76) scale(0.8651 1)" font-size="5.6" text-anchor="start" fill="#231f20" stroke="#231f20" stroke-width="0.1" >shENT1</text>
<text transform="translate(235.95 398.20) rotate(-90) scale(0.7838 1)" font-size="9.0" text-anchor="middle" fill="#231f20" stroke="#231f20" stroke-width="0.1">% of GPA<tspan font-size="5.2" dy="-3.0">+</tspan><tspan dy="3.0"> cells</tspan></text>
<line x1="383.50" y1="370.80" x2="383.50" y2="427.00" stroke="#000" stroke-width="1.1" />
<line x1="382.70" y1="426.50" x2="464.50" y2="426.50" stroke="#000" stroke-width="1.1" />
<line x1="380.00" y1="426.50" x2="383.20" y2="426.50" stroke="#000" stroke-width="1.0" />
<text x="377.50" y="428.81" font-size="6.6" text-anchor="end" fill="#231f20" stroke="#231f20" stroke-width="0.1" >0</text>
<line x1="380.00" y1="415.50" x2="383.20" y2="415.50" stroke="#000" stroke-width="1.0" />
<text x="377.50" y="418.11" font-size="6.6" text-anchor="end" fill="#231f20" stroke="#231f20" stroke-width="0.1" >20</text>
<line x1="380.00" y1="405.50" x2="383.20" y2="405.50" stroke="#000" stroke-width="1.0" />
<text x="377.50" y="407.41" font-size="6.6" text-anchor="end" fill="#231f20" stroke="#231f20" stroke-width="0.1" >40</text>
<line x1="380.00" y1="394.50" x2="383.20" y2="394.50" stroke="#000" stroke-width="1.0" />
<text x="377.50" y="396.71" font-size="6.6" text-anchor="end" fill="#231f20" stroke="#231f20" stroke-width="0.1" >60</text>
<line x1="380.00" y1="383.50" x2="383.20" y2="383.50" stroke="#000" stroke-width="1.0" />
<text x="377.50" y="386.01" font-size="6.6" text-anchor="end" fill="#231f20" stroke="#231f20" stroke-width="0.1" >80</text>
<line x1="380.00" y1="373.50" x2="383.20" y2="373.50" stroke="#000" stroke-width="1.0" />
<text x="377.50" y="375.31" font-size="6.6" text-anchor="end" fill="#231f20" stroke="#231f20" stroke-width="0.1" >100</text>
<line x1="396.50" y1="426.50" x2="396.50" y2="429.30" stroke="#000" stroke-width="0.9" />
<text transform="translate(396.80 439.52) scale(0.9464 1)" font-size="7.2" text-anchor="middle" fill="#231f20" stroke="#231f20" stroke-width="0.1" >Day 3</text>
<line x1="423.50" y1="426.50" x2="423.50" y2="429.30" stroke="#000" stroke-width="0.9" />
<text transform="translate(423.80 439.52) scale(0.9464 1)" font-size="7.2" text-anchor="middle" fill="#231f20" stroke="#231f20" stroke-width="0.1" >Day 5</text>
<line x1="451.50" y1="426.50" x2="451.50" y2="429.30" stroke="#000" stroke-width="0.9" />
<text transform="translate(451.00 439.52) scale(0.9464 1)" font-size="7.2" text-anchor="middle" fill="#231f20" stroke="#231f20" stroke-width="0.1" >Day 7</text>
<circle cx="391.80" cy="389.05" r="1.1" fill="#27468a"/>
<circle cx="390.80" cy="394.40" r="1.1" fill="#27468a"/>
<circle cx="393.00" cy="391.19" r="1.1" fill="#27468a"/>
<circle cx="401.20" cy="402.43" r="1.1" fill="#78bd4f"/>
<circle cx="403.40" cy="402.96" r="1.1" fill="#78bd4f"/>
<circle cx="402.20" cy="410.99" r="1.1" fill="#78bd4f"/>
<line x1="388.20" y1="391.50" x2="395.40" y2="391.50" stroke="#111" stroke-width="0.9" />
<line x1="398.60" y1="404.50" x2="405.80" y2="404.50" stroke="#111" stroke-width="0.9" />
<line x1="391.80" y1="388.69" x2="391.80" y2="393.69" stroke="#111" stroke-width="0.6" />
<line x1="402.20" y1="402.06" x2="402.20" y2="407.06" stroke="#111" stroke-width="0.6" />
<line x1="392.20" y1="383.50" x2="401.80" y2="383.50" stroke="#222" stroke-width="1.0" />
<text x="397.00" y="383.36" font-size="5.6" text-anchor="middle" fill="#231f20" stroke="#231f20" stroke-width="0.1" >*</text>
<circle cx="418.80" cy="374.61" r="1.1" fill="#27468a"/>
<circle cx="417.80" cy="382.10" r="1.1" fill="#27468a"/>
<circle cx="420.00" cy="379.42" r="1.1" fill="#27468a"/>
<circle cx="429.70" cy="391.19" r="1.1" fill="#78bd4f"/>
<circle cx="428.20" cy="395.47" r="1.1" fill="#78bd4f"/>
<circle cx="430.20" cy="393.33" r="1.1" fill="#78bd4f"/>
<line x1="415.20" y1="378.50" x2="422.40" y2="378.50" stroke="#111" stroke-width="0.9" />
<line x1="425.60" y1="393.50" x2="432.80" y2="393.50" stroke="#111" stroke-width="0.9" />
<line x1="418.80" y1="376.38" x2="418.80" y2="381.38" stroke="#111" stroke-width="0.6" />
<line x1="429.20" y1="390.83" x2="429.20" y2="395.83" stroke="#111" stroke-width="0.6" />
<line x1="419.20" y1="370.50" x2="428.80" y2="370.50" stroke="#222" stroke-width="1.0" />
<text x="424.00" y="370.46" font-size="5.6" text-anchor="middle" fill="#231f20" stroke="#231f20" stroke-width="0.1" >**</text>
<circle cx="445.00" cy="377.28" r="1.1" fill="#27468a"/>
<circle cx="447.00" cy="378.35" r="1.1" fill="#27468a"/>
<circle cx="446.00" cy="379.42" r="1.1" fill="#27468a"/>
<circle cx="456.40" cy="386.38" r="1.1" fill="#78bd4f"/>
<circle cx="455.40" cy="388.51" r="1.1" fill="#78bd4f"/>
<circle cx="457.40" cy="387.44" r="1.1" fill="#78bd4f"/>
<line x1="442.40" y1="378.50" x2="449.60" y2="378.50" stroke="#111" stroke-width="0.9" />
<line x1="452.80" y1="387.50" x2="460.00" y2="387.50" stroke="#111" stroke-width="0.9" />
<line x1="446.00" y1="375.85" x2="446.00" y2="380.85" stroke="#111" stroke-width="0.6" />
<line x1="456.40" y1="385.48" x2="456.40" y2="390.48" stroke="#111" stroke-width="0.6" />
<line x1="446.40" y1="373.50" x2="456.00" y2="373.50" stroke="#222" stroke-width="1.0" />
<text x="451.20" y="372.56" font-size="5.6" text-anchor="middle" fill="#231f20" stroke="#231f20" stroke-width="0.1" >**</text>
<circle cx="433.70" cy="414.8" r="1.0" fill="#27468a"/>
<circle cx="433.70" cy="420.8" r="1.0" fill="#78bd4f"/>
<text transform="translate(437.70 416.76) scale(1.0098 1)" font-size="5.6" text-anchor="start" fill="#231f20" stroke="#231f20" stroke-width="0.1" >shControl</text>
<text transform="translate(437.70 422.76) scale(0.8651 1)" font-size="5.6" text-anchor="start" fill="#231f20" stroke="#231f20" stroke-width="0.1" >shENT1</text>
<text transform="translate(360.75 398.20) rotate(-90) scale(0.7978 1)" font-size="9.0" text-anchor="middle" fill="#231f20" stroke="#231f20" stroke-width="0.1">% of CD71<tspan font-size="5.2" dy="-3.0">+</tspan><tspan dy="3.0"> cells</tspan></text>
<text x="12.00" y="614.37" font-size="12.2" text-anchor="middle" fill="#000" font-weight="bold" >H</text>
<line x1="47.50" y1="625.00" x2="47.50" y2="682.25" stroke="#000" stroke-width="1.1" />
<line x1="47.00" y1="681.50" x2="128.00" y2="681.50" stroke="#000" stroke-width="1.1" />
<line x1="44.30" y1="681.50" x2="47.50" y2="681.50" stroke="#000" stroke-width="1.0" />
<text x="41.30" y="683.96" font-size="6.3" text-anchor="end" fill="#231f20" stroke="#231f20" stroke-width="0.1" >0</text>
<line x1="44.30" y1="668.50" x2="47.50" y2="668.50" stroke="#000" stroke-width="1.0" />
<text x="41.30" y="670.27" font-size="6.3" text-anchor="end" fill="#231f20" stroke="#231f20" stroke-width="0.1" >10</text>
<line x1="44.30" y1="654.50" x2="47.50" y2="654.50" stroke="#000" stroke-width="1.0" />
<text x="41.30" y="656.58" font-size="6.3" text-anchor="end" fill="#231f20" stroke="#231f20" stroke-width="0.1" >20</text>
<line x1="44.30" y1="640.50" x2="47.50" y2="640.50" stroke="#000" stroke-width="1.0" />
<text x="41.30" y="642.89" font-size="6.3" text-anchor="end" fill="#231f20" stroke="#231f20" stroke-width="0.1" >30</text>
<line x1="44.30" y1="627.50" x2="47.50" y2="627.50" stroke="#000" stroke-width="1.0" />
<text x="41.30" y="629.21" font-size="6.3" text-anchor="end" fill="#231f20" stroke="#231f20" stroke-width="0.1" >40</text>
<rect x="54.50" y="655.75" width="26.75" height="26.00" fill="#8c97c4" />
<rect x="95.75" y="677.50" width="26.75" height="4.25" fill="#a9cf8c" />
<line x1="68.50" y1="649.25" x2="68.50" y2="661.75" stroke="#111" stroke-width="0.9" />
<line x1="63.50" y1="649.50" x2="72.50" y2="649.50" stroke="#111" stroke-width="0.9" />
<line x1="63.50" y1="661.50" x2="72.50" y2="661.50" stroke="#111" stroke-width="0.9" />
<circle cx="68" cy="643" r="1.1" fill="#27468a"/><circle cx="66" cy="662.5" r="1.1" fill="#27468a"/>
<line x1="109.50" y1="676.00" x2="109.50" y2="680.00" stroke="#111" stroke-width="0.9" />
<line x1="104.50" y1="676.50" x2="113.50" y2="676.50" stroke="#111" stroke-width="0.9" />
<line x1="104.50" y1="679.50" x2="113.50" y2="679.50" stroke="#111" stroke-width="0.9" />
<circle cx="109" cy="675" r="1.0" fill="#78bd4f"/><circle cx="109" cy="678.5" r="1.0" fill="#1e3b1a"/>
<line x1="67.80" y1="630.50" x2="108.70" y2="630.50" stroke="#222" stroke-width="1.1" />
<text x="88.00" y="629.96" font-size="5.6" text-anchor="middle" fill="#231f20" stroke="#231f20" stroke-width="0.1" >*</text>
<line x1="68.50" y1="681.75" x2="68.50" y2="684.55" stroke="#000" stroke-width="0.9" />
<line x1="109.50" y1="681.75" x2="109.50" y2="684.55" stroke="#000" stroke-width="0.9" />
<text transform="translate(68.00 694.31) scale(0.9196 1)" font-size="6.6" text-anchor="middle" fill="#231f20" stroke="#231f20" stroke-width="0.1" >shCT</text>
<text transform="translate(108.75 694.31) scale(0.9647 1)" font-size="6.6" text-anchor="middle" fill="#231f20" stroke="#231f20" stroke-width="0.1" >shENT1</text>
<text transform="translate(28.22 652.30) rotate(-90) scale(0.7537 1)" font-size="9.2" text-anchor="middle" fill="#231f20" stroke="#231f20" stroke-width="0.1">Enucleated cells (%)</text>
<text x="230.00" y="466.47" font-size="12.2" text-anchor="middle" fill="#000" font-weight="bold" >I</text>
<text transform="translate(284.35 468.54) scale(1.0293 1)" font-size="8.4" text-anchor="middle" fill="#231f20" stroke="#231f20" stroke-width="0.1" >shControl</text>
<text transform="translate(363.10 468.54) scale(0.9492 1)" font-size="8.4" text-anchor="middle" fill="#231f20" stroke="#231f20" stroke-width="0.1" >shENT1</text>
<path d="M260.20,520.80 L260.20,520.80 L260.70,520.80 L261.20,520.80 L261.70,520.80 L262.00,520.80 L262.20,520.80 L262.70,520.80 L263.20,520.80 L263.70,520.80 L264.20,520.80 L264.50,520.80 L264.70,520.80 L265.20,520.80 L265.70,520.80 L266.20,520.80 L266.70,520.80 L266.80,520.80 L267.20,520.80 L267.70,520.80 L268.00,520.80 L268.20,520.70 L268.50,520.55 L268.70,520.45 L269.20,520.21 L269.70,519.96 L270.00,519.81 L270.20,519.71 L270.70,519.47 L271.20,519.22 L271.50,519.07 L271.70,518.97 L272.00,518.82 L272.20,518.69 L272.40,518.56 L272.70,518.36 L273.20,518.03 L273.70,517.70 L274.20,517.37 L274.70,517.05 L274.80,516.98 L275.00,516.85 L275.20,516.57 L275.70,515.88 L276.00,515.46 L276.20,515.19 L276.70,514.50 L277.20,513.80 L277.50,513.39 L277.70,512.40 L278.20,509.93 L278.30,509.44 L278.70,507.46 L279.00,505.98 L279.20,504.39 L279.70,500.41 L280.20,496.43 L280.70,492.45 L280.80,491.65 L281.20,488.23 L281.70,483.95 L282.20,479.67 L282.30,478.81 L282.70,477.37 L283.20,475.58 L283.40,474.86 L283.70,477.28 L284.20,481.32 L284.50,483.75 L284.70,486.71 L285.20,494.12 L285.50,498.57 L285.70,500.46 L286.20,505.20 L286.70,509.93 L287.20,511.30 L287.70,512.68 L288.20,514.05 L288.50,514.87 L288.70,515.22 L289.20,516.08 L289.70,516.95 L290.20,517.81 L290.50,518.33 L290.70,518.58 L291.20,519.19 L291.70,519.81 L292.20,520.43 L292.50,520.80 L292.70,520.80 L293.20,520.80 L293.70,520.80 L294.20,520.80 L294.70,520.80 L295.20,520.80 L295.70,520.80 L296.20,520.80 L296.70,520.80 L297.20,520.80 L297.70,520.80 L298.20,520.80 L298.70,520.80 L299.20,520.80 L299.70,520.80 L300.20,520.80 L300.70,520.80 L301.20,520.80 L301.70,520.80 L302.20,520.80 L302.70,520.80 L303.20,520.80 L303.70,520.80 L304.20,520.80 L304.70,520.80 L305.20,520.80 L305.70,520.80 L306.20,520.80 L306.70,520.80 L307.20,520.80 L307.70,520.80 L308.20,520.80 L308.70,520.80 L308.70,520.80 Z" fill="#2a4a88" stroke="none" stroke-width="1" />
<path d="M260.20,520.80 L260.20,518.63 L260.70,518.13 L261.20,517.64 L261.70,517.14 L262.00,516.85 L262.20,516.57 L262.70,515.88 L263.20,515.19 L263.70,514.50 L264.20,513.80 L264.50,513.39 L264.70,512.92 L265.20,511.74 L265.70,510.55 L266.20,509.37 L266.70,508.19 L266.80,507.96 L267.20,506.33 L267.70,504.29 L268.00,503.07 L268.20,502.26 L268.50,501.04 L268.70,499.79 L269.20,496.66 L269.70,493.53 L270.00,491.65 L270.20,490.80 L270.70,488.66 L271.20,486.52 L271.50,485.23 L271.70,484.24 L272.00,482.76 L272.20,481.77 L272.40,480.79 L272.70,481.71 L273.20,483.26 L273.70,484.18 L274.20,485.11 L274.70,486.03 L274.80,486.22 L275.00,488.28 L275.20,490.34 L275.70,495.48 L276.00,498.57 L276.20,501.04 L276.70,507.21 L277.20,513.39 L277.50,515.41 L277.70,516.76 L278.20,520.13 L278.30,520.80 L278.70,520.80 L279.00,520.80 L279.20,520.80 L279.70,520.80 L280.20,520.80 L280.70,520.80 L280.80,520.80 L281.20,520.80 L281.70,520.80 L282.20,520.80 L282.30,520.80 L282.70,520.80 L283.20,520.80 L283.40,520.80 L283.70,520.80 L284.20,520.80 L284.50,520.80 L284.70,520.80 L285.20,520.80 L285.50,520.80 L285.70,520.80 L286.20,520.80 L286.70,520.80 L287.20,520.80 L287.70,520.80 L288.20,520.80 L288.50,520.80 L288.70,520.80 L289.20,520.80 L289.70,520.80 L290.20,520.80 L290.50,520.80 L290.70,520.80 L291.20,520.80 L291.70,520.80 L292.20,520.80 L292.50,520.80 L292.70,520.80 L293.20,520.80 L293.70,520.80 L294.20,520.80 L294.70,520.80 L295.20,520.80 L295.70,520.80 L296.20,520.80 L296.70,520.80 L297.20,520.80 L297.70,520.80 L298.20,520.80 L298.70,520.80 L299.20,520.80 L299.70,520.80 L300.20,520.80 L300.70,520.80 L301.20,520.80 L301.70,520.80 L302.20,520.80 L302.70,520.80 L303.20,520.80 L303.70,520.80 L304.20,520.80 L304.70,520.80 L305.20,520.80 L305.70,520.80 L306.20,520.80 L306.70,520.80 L307.20,520.80 L307.70,520.80 L308.20,520.80 L308.70,520.80 L308.70,520.80 Z" fill="#b6d8a0" stroke="none" stroke-width="1" />
<path d="M260.20,520.80 L260.20,520.80 L260.70,520.80 L261.20,520.80 L261.70,520.80 L262.00,520.80 L262.20,520.80 L262.70,520.80 L263.20,520.80 L263.70,520.80 L264.20,520.80 L264.50,520.80 L264.70,520.80 L265.20,520.80 L265.70,520.80 L266.20,520.80 L266.70,520.80 L266.80,520.80 L267.20,520.80 L267.70,520.80 L268.00,520.80 L268.20,520.70 L268.50,520.55 L268.70,520.45 L269.20,520.21 L269.70,519.96 L270.00,519.81 L270.20,519.71 L270.70,519.47 L271.20,519.22 L271.50,519.07 L271.70,518.97 L272.00,518.82 L272.20,518.69 L272.40,518.56 L272.70,518.36 L273.20,518.03 L273.70,517.70 L274.20,517.37 L274.70,517.05 L274.80,516.98 L275.00,516.85 L275.20,516.57 L275.70,515.88 L276.00,515.46 L276.20,515.19 L276.70,514.50 L277.20,513.80 L277.50,515.41 L277.70,516.76 L278.20,520.13 L278.30,520.80 L278.70,520.80 L279.00,520.80 L279.20,520.80 L279.70,520.80 L280.20,520.80 L280.70,520.80 L280.80,520.80 L281.20,520.80 L281.70,520.80 L282.20,520.80 L282.30,520.80 L282.70,520.80 L283.20,520.80 L283.40,520.80 L283.70,520.80 L284.20,520.80 L284.50,520.80 L284.70,520.80 L285.20,520.80 L285.50,520.80 L285.70,520.80 L286.20,520.80 L286.70,520.80 L287.20,520.80 L287.70,520.80 L288.20,520.80 L288.50,520.80 L288.70,520.80 L289.20,520.80 L289.70,520.80 L290.20,520.80 L290.50,520.80 L290.70,520.80 L291.20,520.80 L291.70,520.80 L292.20,520.80 L292.50,520.80 L292.70,520.80 L293.20,520.80 L293.70,520.80 L294.20,520.80 L294.70,520.80 L295.20,520.80 L295.70,520.80 L296.20,520.80 L296.70,520.80 L297.20,520.80 L297.70,520.80 L298.20,520.80 L298.70,520.80 L299.20,520.80 L299.70,520.80 L300.20,520.80 L300.70,520.80 L301.20,520.80 L301.70,520.80 L302.20,520.80 L302.70,520.80 L303.20,520.80 L303.70,520.80 L304.20,520.80 L304.70,520.80 L305.20,520.80 L305.70,520.80 L306.20,520.80 L306.70,520.80 L307.20,520.80 L307.70,520.80 L308.20,520.80 L308.70,520.80 L308.70,520.80 Z" fill="#3f6d4c" stroke="none" stroke-width="1" />
<path d="M260.20,518.63 L260.70,518.13 L261.20,517.64 L261.70,517.14 L262.00,516.85 L262.20,516.57 L262.70,515.88 L263.20,515.19 L263.70,514.50 L264.20,513.80 L264.50,513.39 L264.70,512.92 L265.20,511.74 L265.70,510.55 L266.20,509.37 L266.70,508.19 L266.80,507.96 L267.20,506.33 L267.70,504.29 L268.00,503.07 L268.20,502.26 L268.50,501.04 L268.70,499.79 L269.20,496.66 L269.70,493.53 L270.00,491.65 L270.20,490.80 L270.70,488.66 L271.20,486.52 L271.50,485.23 L271.70,484.24 L272.00,482.76 L272.20,481.77 L272.40,480.79 L272.70,481.71 L273.20,483.26 L273.70,484.18 L274.20,485.11 L274.70,486.03 L274.80,486.22 L275.00,488.28 L275.20,490.34 L275.70,495.48 L276.00,498.57 L276.20,501.04 L276.70,507.21 L277.20,513.39 L277.50,515.41 L277.70,516.76 L278.20,520.13 L278.30,520.80 L278.70,520.80 L279.00,520.80 L279.20,520.80 L279.70,520.80 L280.20,520.80 L280.70,520.80 L280.80,520.80 L281.20,520.80 L281.70,520.80 L282.20,520.80 L282.30,520.80 L282.70,520.80 L283.20,520.80 L283.40,520.80 L283.70,520.80 L284.20,520.80 L284.50,520.80 L284.70,520.80 L285.20,520.80 L285.50,520.80 L285.70,520.80 L286.20,520.80 L286.70,520.80 L287.20,520.80 L287.70,520.80 L288.20,520.80 L288.50,520.80 L288.70,520.80 L289.20,520.80 L289.70,520.80 L290.20,520.80 L290.50,520.80 L290.70,520.80 L291.20,520.80 L291.70,520.80 L292.20,520.80 L292.50,520.80 L292.70,520.80 L293.20,520.80 L293.70,520.80 L294.20,520.80 L294.70,520.80 L295.20,520.80 L295.70,520.80 L296.20,520.80 L296.70,520.80 L297.20,520.80 L297.70,520.80 L298.20,520.80 L298.70,520.80 L299.20,520.80 L299.70,520.80 L300.20,520.80 L300.70,520.80 L301.20,520.80 L301.70,520.80 L302.20,520.80 L302.70,520.80 L303.20,520.80 L303.70,520.80 L304.20,520.80 L304.70,520.80 L305.20,520.80 L305.70,520.80 L306.20,520.80 L306.70,520.80 L307.20,520.80 L307.70,520.80 L308.20,520.80 L308.70,520.80" fill="none" stroke="#6cb049" stroke-width="0.7" />
<rect x="259.70" y="471.40" width="49.70" height="49.40" fill="none" stroke="#111" stroke-width="1.25"/>
<line x1="257.70" y1="520.50" x2="259.70" y2="520.50" stroke="#000" stroke-width="0.8" />
<text x="252.80" y="523.07" font-size="6.5" text-anchor="end" fill="#000" stroke="#000" stroke-width="0.1" >0</text>
<line x1="258.60" y1="518.45" x2="259.70" y2="518.45" stroke="#000" stroke-width="0.45" />
<line x1="258.60" y1="516.10" x2="259.70" y2="516.10" stroke="#000" stroke-width="0.45" />
<line x1="258.60" y1="513.75" x2="259.70" y2="513.75" stroke="#000" stroke-width="0.45" />
<line x1="257.70" y1="511.50" x2="259.70" y2="511.50" stroke="#000" stroke-width="0.8" />
<text x="252.80" y="513.67" font-size="6.5" text-anchor="end" fill="#000" stroke="#000" stroke-width="0.1" >20</text>
<line x1="258.60" y1="509.05" x2="259.70" y2="509.05" stroke="#000" stroke-width="0.45" />
<line x1="258.60" y1="506.70" x2="259.70" y2="506.70" stroke="#000" stroke-width="0.45" />
<line x1="258.60" y1="504.35" x2="259.70" y2="504.35" stroke="#000" stroke-width="0.45" />
<line x1="257.70" y1="501.50" x2="259.70" y2="501.50" stroke="#000" stroke-width="0.8" />
<text x="252.80" y="504.27" font-size="6.5" text-anchor="end" fill="#000" stroke="#000" stroke-width="0.1" >40</text>
<line x1="258.60" y1="499.65" x2="259.70" y2="499.65" stroke="#000" stroke-width="0.45" />
<line x1="258.60" y1="497.30" x2="259.70" y2="497.30" stroke="#000" stroke-width="0.45" />
<line x1="258.60" y1="494.95" x2="259.70" y2="494.95" stroke="#000" stroke-width="0.45" />
<line x1="257.70" y1="492.50" x2="259.70" y2="492.50" stroke="#000" stroke-width="0.8" />
<text x="252.80" y="494.87" font-size="6.5" text-anchor="end" fill="#000" stroke="#000" stroke-width="0.1" >60</text>
<line x1="258.60" y1="490.25" x2="259.70" y2="490.25" stroke="#000" stroke-width="0.45" />
<line x1="258.60" y1="487.90" x2="259.70" y2="487.90" stroke="#000" stroke-width="0.45" />
<line x1="258.60" y1="485.55" x2="259.70" y2="485.55" stroke="#000" stroke-width="0.45" />
<line x1="257.70" y1="483.50" x2="259.70" y2="483.50" stroke="#000" stroke-width="0.8" />
<text x="252.80" y="485.47" font-size="6.5" text-anchor="end" fill="#000" stroke="#000" stroke-width="0.1" >80</text>
<line x1="258.60" y1="480.85" x2="259.70" y2="480.85" stroke="#000" stroke-width="0.45" />
<line x1="258.60" y1="478.50" x2="259.70" y2="478.50" stroke="#000" stroke-width="0.45" />
<line x1="258.60" y1="476.15" x2="259.70" y2="476.15" stroke="#000" stroke-width="0.45" />
<line x1="257.70" y1="473.50" x2="259.70" y2="473.50" stroke="#000" stroke-width="0.8" />
<text x="252.80" y="476.07" font-size="6.5" text-anchor="end" fill="#000" stroke="#000" stroke-width="0.1" >100</text>
<line x1="263.70" y1="520.80" x2="263.70" y2="522.80" stroke="#000" stroke-width="0.7" />
<line x1="266.71" y1="520.80" x2="266.71" y2="521.90" stroke="#000" stroke-width="0.45" />
<line x1="268.47" y1="520.80" x2="268.47" y2="521.90" stroke="#000" stroke-width="0.45" />
<line x1="269.72" y1="520.80" x2="269.72" y2="521.90" stroke="#000" stroke-width="0.45" />
<line x1="270.69" y1="520.80" x2="270.69" y2="521.90" stroke="#000" stroke-width="0.45" />
<line x1="271.48" y1="520.80" x2="271.48" y2="521.90" stroke="#000" stroke-width="0.45" />
<line x1="272.15" y1="520.80" x2="272.15" y2="521.90" stroke="#000" stroke-width="0.45" />
<line x1="272.73" y1="520.80" x2="272.73" y2="521.90" stroke="#000" stroke-width="0.45" />
<line x1="273.24" y1="520.80" x2="273.24" y2="521.90" stroke="#000" stroke-width="0.45" />
<line x1="273.70" y1="520.80" x2="273.70" y2="522.80" stroke="#000" stroke-width="0.7" />
<line x1="276.71" y1="520.80" x2="276.71" y2="521.90" stroke="#000" stroke-width="0.45" />
<line x1="278.47" y1="520.80" x2="278.47" y2="521.90" stroke="#000" stroke-width="0.45" />
<line x1="279.72" y1="520.80" x2="279.72" y2="521.90" stroke="#000" stroke-width="0.45" />
<line x1="280.69" y1="520.80" x2="280.69" y2="521.90" stroke="#000" stroke-width="0.45" />
<line x1="281.48" y1="520.80" x2="281.48" y2="521.90" stroke="#000" stroke-width="0.45" />
<line x1="282.15" y1="520.80" x2="282.15" y2="521.90" stroke="#000" stroke-width="0.45" />
<line x1="282.73" y1="520.80" x2="282.73" y2="521.90" stroke="#000" stroke-width="0.45" />
<line x1="283.24" y1="520.80" x2="283.24" y2="521.90" stroke="#000" stroke-width="0.45" />
<line x1="283.70" y1="520.80" x2="283.70" y2="522.80" stroke="#000" stroke-width="0.7" />
<line x1="286.71" y1="520.80" x2="286.71" y2="521.90" stroke="#000" stroke-width="0.45" />
<line x1="288.47" y1="520.80" x2="288.47" y2="521.90" stroke="#000" stroke-width="0.45" />
<line x1="289.72" y1="520.80" x2="289.72" y2="521.90" stroke="#000" stroke-width="0.45" />
<line x1="290.69" y1="520.80" x2="290.69" y2="521.90" stroke="#000" stroke-width="0.45" />
<line x1="291.48" y1="520.80" x2="291.48" y2="521.90" stroke="#000" stroke-width="0.45" />
<line x1="292.15" y1="520.80" x2="292.15" y2="521.90" stroke="#000" stroke-width="0.45" />
<line x1="292.73" y1="520.80" x2="292.73" y2="521.90" stroke="#000" stroke-width="0.45" />
<line x1="293.24" y1="520.80" x2="293.24" y2="521.90" stroke="#000" stroke-width="0.45" />
<line x1="293.70" y1="520.80" x2="293.70" y2="522.80" stroke="#000" stroke-width="0.7" />
<line x1="296.71" y1="520.80" x2="296.71" y2="521.90" stroke="#000" stroke-width="0.45" />
<line x1="298.47" y1="520.80" x2="298.47" y2="521.90" stroke="#000" stroke-width="0.45" />
<line x1="299.72" y1="520.80" x2="299.72" y2="521.90" stroke="#000" stroke-width="0.45" />
<line x1="300.69" y1="520.80" x2="300.69" y2="521.90" stroke="#000" stroke-width="0.45" />
<line x1="301.48" y1="520.80" x2="301.48" y2="521.90" stroke="#000" stroke-width="0.45" />
<line x1="302.15" y1="520.80" x2="302.15" y2="521.90" stroke="#000" stroke-width="0.45" />
<line x1="302.73" y1="520.80" x2="302.73" y2="521.90" stroke="#000" stroke-width="0.45" />
<line x1="303.24" y1="520.80" x2="303.24" y2="521.90" stroke="#000" stroke-width="0.45" />
<line x1="303.70" y1="520.80" x2="303.70" y2="522.80" stroke="#000" stroke-width="0.7" />
<line x1="306.71" y1="520.80" x2="306.71" y2="521.90" stroke="#000" stroke-width="0.45" />
<line x1="308.47" y1="520.80" x2="308.47" y2="521.90" stroke="#000" stroke-width="0.45" />
<text x="260.70" y="533.88" font-size="6.8" fill="#000" textLength="7.21" lengthAdjust="spacingAndGlyphs">10</text>
<text x="267.91" y="531.00" font-size="4.49" fill="#000">1</text>
<text x="270.44" y="533.88" font-size="6.8" fill="#000" textLength="7.21" lengthAdjust="spacingAndGlyphs">10</text>
<text x="277.65" y="531.00" font-size="4.49" fill="#000">2</text>
<text x="280.18" y="533.88" font-size="6.8" fill="#000" textLength="7.21" lengthAdjust="spacingAndGlyphs">10</text>
<text x="287.39" y="531.00" font-size="4.49" fill="#000">3</text>
<text x="289.92" y="533.88" font-size="6.8" fill="#000" textLength="7.21" lengthAdjust="spacingAndGlyphs">10</text>
<text x="297.13" y="531.00" font-size="4.49" fill="#000">4</text>
<text x="299.66" y="533.88" font-size="6.8" fill="#000" textLength="7.21" lengthAdjust="spacingAndGlyphs">10</text>
<text x="306.87" y="531.00" font-size="4.49" fill="#000">5</text>
<path d="M339.30,520.80 L339.30,519.02 L339.80,518.53 L340.30,518.03 L340.80,517.54 L341.00,517.34 L341.30,516.99 L341.80,516.39 L342.30,515.80 L342.80,515.21 L343.30,514.62 L343.50,514.38 L343.80,513.80 L344.30,512.83 L344.80,511.87 L345.30,510.90 L345.80,509.93 L346.30,508.14 L346.80,506.34 L347.30,504.54 L347.50,503.82 L347.80,502.75 L348.00,502.03 L348.30,500.99 L348.80,499.26 L349.30,497.53 L349.50,496.84 L349.80,495.80 L350.00,495.11 L350.30,493.78 L350.80,491.56 L351.30,489.33 L351.40,488.89 L351.80,487.11 L352.00,486.22 L352.30,485.23 L352.50,484.57 L352.80,483.59 L353.20,482.27 L353.30,481.92 L353.80,480.19 L354.20,478.81 L354.30,479.11 L354.80,480.63 L355.30,482.15 L355.50,482.76 L355.80,483.06 L356.00,483.26 L356.30,483.55 L356.80,484.05 L357.00,484.24 L357.10,484.16 L357.30,484.00 L357.80,483.59 L358.20,483.26 L358.30,483.45 L358.80,484.44 L359.20,485.23 L359.30,485.66 L359.80,487.83 L360.30,489.99 L360.80,492.15 L361.30,494.82 L361.80,497.50 L362.00,498.57 L362.30,500.05 L362.80,502.52 L363.00,503.51 L363.30,505.73 L363.80,509.44 L364.00,510.92 L364.30,513.14 L364.60,515.37 L364.80,515.86 L365.30,517.09 L365.80,518.33 L366.00,518.82 L366.30,519.28 L366.80,520.04 L367.30,520.80 L367.80,520.80 L368.30,520.80 L368.80,520.80 L369.30,520.80 L369.80,520.80 L370.30,520.80 L370.80,520.80 L371.30,520.80 L371.80,520.80 L372.30,520.80 L372.80,520.80 L373.30,520.80 L373.80,520.80 L374.30,520.80 L374.80,520.80 L375.30,520.80 L375.80,520.80 L376.30,520.80 L376.80,520.80 L377.30,520.80 L377.80,520.80 L378.30,520.80 L378.80,520.80 L379.30,520.80 L379.80,520.80 L380.30,520.80 L380.80,520.80 L381.30,520.80 L381.80,520.80 L382.30,520.80 L382.80,520.80 L383.30,520.80 L383.80,520.80 L384.30,520.80 L384.80,520.80 L385.30,520.80 L385.80,520.80 L386.30,520.80 L386.80,520.80 L387.30,520.80 L387.80,520.80 L387.80,520.80 Z" fill="#2a4a88" stroke="none" stroke-width="1" />
<path d="M339.30,520.80 L339.30,517.96 L339.80,517.34 L340.30,516.72 L340.80,516.11 L341.00,515.86 L341.30,515.39 L341.80,514.60 L342.30,513.80 L342.80,513.01 L343.30,512.22 L343.50,511.91 L343.80,511.26 L344.30,510.19 L344.80,509.12 L345.30,508.04 L345.80,506.97 L346.30,505.22 L346.80,503.48 L347.30,501.74 L347.50,501.04 L347.80,499.56 L348.00,498.57 L348.30,497.09 L348.80,494.62 L349.30,492.15 L349.50,491.16 L349.80,489.45 L350.00,488.31 L350.30,486.60 L350.80,483.75 L351.30,481.28 L351.40,480.79 L351.80,482.40 L352.00,483.21 L352.30,484.42 L352.50,485.23 L352.80,486.60 L353.20,488.42 L353.30,488.88 L353.80,491.16 L354.20,497.09 L354.30,498.57 L354.80,505.98 L355.30,510.10 L355.50,511.74 L355.80,514.21 L356.00,515.86 L356.30,517.21 L356.80,519.45 L357.00,520.35 L357.10,520.80 L357.30,520.80 L357.80,520.80 L358.20,520.80 L358.30,520.80 L358.80,520.80 L359.20,520.80 L359.30,520.80 L359.80,520.80 L360.30,520.80 L360.80,520.80 L361.30,520.80 L361.80,520.80 L362.00,520.80 L362.30,520.80 L362.80,520.80 L363.00,520.80 L363.30,520.80 L363.80,520.80 L364.00,520.80 L364.30,520.80 L364.60,520.80 L364.80,520.80 L365.30,520.80 L365.80,520.80 L366.00,520.80 L366.30,520.80 L366.80,520.80 L367.30,520.80 L367.80,520.80 L368.30,520.80 L368.80,520.80 L369.30,520.80 L369.80,520.80 L370.30,520.80 L370.80,520.80 L371.30,520.80 L371.80,520.80 L372.30,520.80 L372.80,520.80 L373.30,520.80 L373.80,520.80 L374.30,520.80 L374.80,520.80 L375.30,520.80 L375.80,520.80 L376.30,520.80 L376.80,520.80 L377.30,520.80 L377.80,520.80 L378.30,520.80 L378.80,520.80 L379.30,520.80 L379.80,520.80 L380.30,520.80 L380.80,520.80 L381.30,520.80 L381.80,520.80 L382.30,520.80 L382.80,520.80 L383.30,520.80 L383.80,520.80 L384.30,520.80 L384.80,520.80 L385.30,520.80 L385.80,520.80 L386.30,520.80 L386.80,520.80 L387.30,520.80 L387.80,520.80 L387.80,520.80 Z" fill="#b6d8a0" stroke="none" stroke-width="1" />
<path d="M339.30,520.80 L339.30,519.02 L339.80,518.53 L340.30,518.03 L340.80,517.54 L341.00,517.34 L341.30,516.99 L341.80,516.39 L342.30,515.80 L342.80,515.21 L343.30,514.62 L343.50,514.38 L343.80,513.80 L344.30,512.83 L344.80,511.87 L345.30,510.90 L345.80,509.93 L346.30,508.14 L346.80,506.34 L347.30,504.54 L347.50,503.82 L347.80,502.75 L348.00,502.03 L348.30,500.99 L348.80,499.26 L349.30,497.53 L349.50,496.84 L349.80,495.80 L350.00,495.11 L350.30,493.78 L350.80,491.56 L351.30,489.33 L351.40,488.89 L351.80,487.11 L352.00,486.22 L352.30,485.23 L352.50,485.23 L352.80,486.60 L353.20,488.42 L353.30,488.88 L353.80,491.16 L354.20,497.09 L354.30,498.57 L354.80,505.98 L355.30,510.10 L355.50,511.74 L355.80,514.21 L356.00,515.86 L356.30,517.21 L356.80,519.45 L357.00,520.35 L357.10,520.80 L357.30,520.80 L357.80,520.80 L358.20,520.80 L358.30,520.80 L358.80,520.80 L359.20,520.80 L359.30,520.80 L359.80,520.80 L360.30,520.80 L360.80,520.80 L361.30,520.80 L361.80,520.80 L362.00,520.80 L362.30,520.80 L362.80,520.80 L363.00,520.80 L363.30,520.80 L363.80,520.80 L364.00,520.80 L364.30,520.80 L364.60,520.80 L364.80,520.80 L365.30,520.80 L365.80,520.80 L366.00,520.80 L366.30,520.80 L366.80,520.80 L367.30,520.80 L367.80,520.80 L368.30,520.80 L368.80,520.80 L369.30,520.80 L369.80,520.80 L370.30,520.80 L370.80,520.80 L371.30,520.80 L371.80,520.80 L372.30,520.80 L372.80,520.80 L373.30,520.80 L373.80,520.80 L374.30,520.80 L374.80,520.80 L375.30,520.80 L375.80,520.80 L376.30,520.80 L376.80,520.80 L377.30,520.80 L377.80,520.80 L378.30,520.80 L378.80,520.80 L379.30,520.80 L379.80,520.80 L380.30,520.80 L380.80,520.80 L381.30,520.80 L381.80,520.80 L382.30,520.80 L382.80,520.80 L383.30,520.80 L383.80,520.80 L384.30,520.80 L384.80,520.80 L385.30,520.80 L385.80,520.80 L386.30,520.80 L386.80,520.80 L387.30,520.80 L387.80,520.80 L387.80,520.80 Z" fill="#3f6d4c" stroke="none" stroke-width="1" />
<path d="M339.30,517.96 L339.80,517.34 L340.30,516.72 L340.80,516.11 L341.00,515.86 L341.30,515.39 L341.80,514.60 L342.30,513.80 L342.80,513.01 L343.30,512.22 L343.50,511.91 L343.80,511.26 L344.30,510.19 L344.80,509.12 L345.30,508.04 L345.80,506.97 L346.30,505.22 L346.80,503.48 L347.30,501.74 L347.50,501.04 L347.80,499.56 L348.00,498.57 L348.30,497.09 L348.80,494.62 L349.30,492.15 L349.50,491.16 L349.80,489.45 L350.00,488.31 L350.30,486.60 L350.80,483.75 L351.30,481.28 L351.40,480.79 L351.80,482.40 L352.00,483.21 L352.30,484.42 L352.50,485.23 L352.80,486.60 L353.20,488.42 L353.30,488.88 L353.80,491.16 L354.20,497.09 L354.30,498.57 L354.80,505.98 L355.30,510.10 L355.50,511.74 L355.80,514.21 L356.00,515.86 L356.30,517.21 L356.80,519.45 L357.00,520.35 L357.10,520.80 L357.30,520.80 L357.80,520.80 L358.20,520.80 L358.30,520.80 L358.80,520.80 L359.20,520.80 L359.30,520.80 L359.80,520.80 L360.30,520.80 L360.80,520.80 L361.30,520.80 L361.80,520.80 L362.00,520.80 L362.30,520.80 L362.80,520.80 L363.00,520.80 L363.30,520.80 L363.80,520.80 L364.00,520.80 L364.30,520.80 L364.60,520.80 L364.80,520.80 L365.30,520.80 L365.80,520.80 L366.00,520.80 L366.30,520.80 L366.80,520.80 L367.30,520.80 L367.80,520.80 L368.30,520.80 L368.80,520.80 L369.30,520.80 L369.80,520.80 L370.30,520.80 L370.80,520.80 L371.30,520.80 L371.80,520.80 L372.30,520.80 L372.80,520.80 L373.30,520.80 L373.80,520.80 L374.30,520.80 L374.80,520.80 L375.30,520.80 L375.80,520.80 L376.30,520.80 L376.80,520.80 L377.30,520.80 L377.80,520.80 L378.30,520.80 L378.80,520.80 L379.30,520.80 L379.80,520.80 L380.30,520.80 L380.80,520.80 L381.30,520.80 L381.80,520.80 L382.30,520.80 L382.80,520.80 L383.30,520.80 L383.80,520.80 L384.30,520.80 L384.80,520.80 L385.30,520.80 L385.80,520.80 L386.30,520.80 L386.80,520.80 L387.30,520.80 L387.80,520.80" fill="none" stroke="#6cb049" stroke-width="0.7" />
<rect x="338.80" y="471.40" width="49.60" height="49.40" fill="none" stroke="#111" stroke-width="1.25"/>
<line x1="336.80" y1="520.50" x2="338.80" y2="520.50" stroke="#000" stroke-width="0.8" />
<text x="332.00" y="523.07" font-size="6.5" text-anchor="end" fill="#000" stroke="#000" stroke-width="0.1" >0</text>
<line x1="337.70" y1="518.45" x2="338.80" y2="518.45" stroke="#000" stroke-width="0.45" />
<line x1="337.70" y1="516.10" x2="338.80" y2="516.10" stroke="#000" stroke-width="0.45" />
<line x1="337.70" y1="513.75" x2="338.80" y2="513.75" stroke="#000" stroke-width="0.45" />
<line x1="336.80" y1="511.50" x2="338.80" y2="511.50" stroke="#000" stroke-width="0.8" />
<text x="332.00" y="513.67" font-size="6.5" text-anchor="end" fill="#000" stroke="#000" stroke-width="0.1" >20</text>
<line x1="337.70" y1="509.05" x2="338.80" y2="509.05" stroke="#000" stroke-width="0.45" />
<line x1="337.70" y1="506.70" x2="338.80" y2="506.70" stroke="#000" stroke-width="0.45" />
<line x1="337.70" y1="504.35" x2="338.80" y2="504.35" stroke="#000" stroke-width="0.45" />
<line x1="336.80" y1="501.50" x2="338.80" y2="501.50" stroke="#000" stroke-width="0.8" />
<text x="332.00" y="504.27" font-size="6.5" text-anchor="end" fill="#000" stroke="#000" stroke-width="0.1" >40</text>
<line x1="337.70" y1="499.65" x2="338.80" y2="499.65" stroke="#000" stroke-width="0.45" />
<line x1="337.70" y1="497.30" x2="338.80" y2="497.30" stroke="#000" stroke-width="0.45" />
<line x1="337.70" y1="494.95" x2="338.80" y2="494.95" stroke="#000" stroke-width="0.45" />
<line x1="336.80" y1="492.50" x2="338.80" y2="492.50" stroke="#000" stroke-width="0.8" />
<text x="332.00" y="494.87" font-size="6.5" text-anchor="end" fill="#000" stroke="#000" stroke-width="0.1" >60</text>
<line x1="337.70" y1="490.25" x2="338.80" y2="490.25" stroke="#000" stroke-width="0.45" />
<line x1="337.70" y1="487.90" x2="338.80" y2="487.90" stroke="#000" stroke-width="0.45" />
<line x1="337.70" y1="485.55" x2="338.80" y2="485.55" stroke="#000" stroke-width="0.45" />
<line x1="336.80" y1="483.50" x2="338.80" y2="483.50" stroke="#000" stroke-width="0.8" />
<text x="332.00" y="485.47" font-size="6.5" text-anchor="end" fill="#000" stroke="#000" stroke-width="0.1" >80</text>
<line x1="337.70" y1="480.85" x2="338.80" y2="480.85" stroke="#000" stroke-width="0.45" />
<line x1="337.70" y1="478.50" x2="338.80" y2="478.50" stroke="#000" stroke-width="0.45" />
<line x1="337.70" y1="476.15" x2="338.80" y2="476.15" stroke="#000" stroke-width="0.45" />
<line x1="336.80" y1="473.50" x2="338.80" y2="473.50" stroke="#000" stroke-width="0.8" />
<text x="332.00" y="476.07" font-size="6.5" text-anchor="end" fill="#000" stroke="#000" stroke-width="0.1" >100</text>
<line x1="342.80" y1="520.80" x2="342.80" y2="522.80" stroke="#000" stroke-width="0.7" />
<line x1="345.81" y1="520.80" x2="345.81" y2="521.90" stroke="#000" stroke-width="0.45" />
<line x1="347.57" y1="520.80" x2="347.57" y2="521.90" stroke="#000" stroke-width="0.45" />
<line x1="348.82" y1="520.80" x2="348.82" y2="521.90" stroke="#000" stroke-width="0.45" />
<line x1="349.79" y1="520.80" x2="349.79" y2="521.90" stroke="#000" stroke-width="0.45" />
<line x1="350.58" y1="520.80" x2="350.58" y2="521.90" stroke="#000" stroke-width="0.45" />
<line x1="351.25" y1="520.80" x2="351.25" y2="521.90" stroke="#000" stroke-width="0.45" />
<line x1="351.83" y1="520.80" x2="351.83" y2="521.90" stroke="#000" stroke-width="0.45" />
<line x1="352.34" y1="520.80" x2="352.34" y2="521.90" stroke="#000" stroke-width="0.45" />
<line x1="352.80" y1="520.80" x2="352.80" y2="522.80" stroke="#000" stroke-width="0.7" />
<line x1="355.81" y1="520.80" x2="355.81" y2="521.90" stroke="#000" stroke-width="0.45" />
<line x1="357.57" y1="520.80" x2="357.57" y2="521.90" stroke="#000" stroke-width="0.45" />
<line x1="358.82" y1="520.80" x2="358.82" y2="521.90" stroke="#000" stroke-width="0.45" />
<line x1="359.79" y1="520.80" x2="359.79" y2="521.90" stroke="#000" stroke-width="0.45" />
<line x1="360.58" y1="520.80" x2="360.58" y2="521.90" stroke="#000" stroke-width="0.45" />
<line x1="361.25" y1="520.80" x2="361.25" y2="521.90" stroke="#000" stroke-width="0.45" />
<line x1="361.83" y1="520.80" x2="361.83" y2="521.90" stroke="#000" stroke-width="0.45" />
<line x1="362.34" y1="520.80" x2="362.34" y2="521.90" stroke="#000" stroke-width="0.45" />
<line x1="362.80" y1="520.80" x2="362.80" y2="522.80" stroke="#000" stroke-width="0.7" />
<line x1="365.81" y1="520.80" x2="365.81" y2="521.90" stroke="#000" stroke-width="0.45" />
<line x1="367.57" y1="520.80" x2="367.57" y2="521.90" stroke="#000" stroke-width="0.45" />
<line x1="368.82" y1="520.80" x2="368.82" y2="521.90" stroke="#000" stroke-width="0.45" />
<line x1="369.79" y1="520.80" x2="369.79" y2="521.90" stroke="#000" stroke-width="0.45" />
<line x1="370.58" y1="520.80" x2="370.58" y2="521.90" stroke="#000" stroke-width="0.45" />
<line x1="371.25" y1="520.80" x2="371.25" y2="521.90" stroke="#000" stroke-width="0.45" />
<line x1="371.83" y1="520.80" x2="371.83" y2="521.90" stroke="#000" stroke-width="0.45" />
<line x1="372.34" y1="520.80" x2="372.34" y2="521.90" stroke="#000" stroke-width="0.45" />
<line x1="372.80" y1="520.80" x2="372.80" y2="522.80" stroke="#000" stroke-width="0.7" />
<line x1="375.81" y1="520.80" x2="375.81" y2="521.90" stroke="#000" stroke-width="0.45" />
<line x1="377.57" y1="520.80" x2="377.57" y2="521.90" stroke="#000" stroke-width="0.45" />
<line x1="378.82" y1="520.80" x2="378.82" y2="521.90" stroke="#000" stroke-width="0.45" />
<line x1="379.79" y1="520.80" x2="379.79" y2="521.90" stroke="#000" stroke-width="0.45" />
<line x1="380.58" y1="520.80" x2="380.58" y2="521.90" stroke="#000" stroke-width="0.45" />
<line x1="381.25" y1="520.80" x2="381.25" y2="521.90" stroke="#000" stroke-width="0.45" />
<line x1="381.83" y1="520.80" x2="381.83" y2="521.90" stroke="#000" stroke-width="0.45" />
<line x1="382.34" y1="520.80" x2="382.34" y2="521.90" stroke="#000" stroke-width="0.45" />
<line x1="382.80" y1="520.80" x2="382.80" y2="522.80" stroke="#000" stroke-width="0.7" />
<line x1="385.81" y1="520.80" x2="385.81" y2="521.90" stroke="#000" stroke-width="0.45" />
<line x1="387.57" y1="520.80" x2="387.57" y2="521.90" stroke="#000" stroke-width="0.45" />
<text x="339.80" y="533.88" font-size="6.8" fill="#000" textLength="7.19" lengthAdjust="spacingAndGlyphs">10</text>
<text x="346.99" y="531.00" font-size="4.49" fill="#000">1</text>
<text x="349.52" y="533.88" font-size="6.8" fill="#000" textLength="7.19" lengthAdjust="spacingAndGlyphs">10</text>
<text x="356.71" y="531.00" font-size="4.49" fill="#000">2</text>
<text x="359.24" y="533.88" font-size="6.8" fill="#000" textLength="7.19" lengthAdjust="spacingAndGlyphs">10</text>
<text x="366.43" y="531.00" font-size="4.49" fill="#000">3</text>
<text x="368.96" y="533.88" font-size="6.8" fill="#000" textLength="7.19" lengthAdjust="spacingAndGlyphs">10</text>
<text x="376.15" y="531.00" font-size="4.49" fill="#000">4</text>
<text x="378.68" y="533.88" font-size="6.8" fill="#000" textLength="7.19" lengthAdjust="spacingAndGlyphs">10</text>
<text x="385.87" y="531.00" font-size="4.49" fill="#000">5</text>
<text transform="translate(235.95 496.50) rotate(-90) scale(0.8031 1)" font-size="9.0" text-anchor="middle" fill="#231f20" stroke="#231f20" stroke-width="0.1">Band3</text>
<path d="M260.20,600.80 L260.20,598.27 L260.70,597.60 L261.20,596.92 L261.70,596.25 L262.00,595.84 L262.20,595.44 L262.70,594.45 L263.20,593.46 L263.70,592.47 L264.20,591.48 L264.50,590.88 L264.70,590.45 L265.20,589.37 L265.70,588.29 L266.20,587.21 L266.70,586.14 L266.80,585.92 L267.20,584.17 L267.70,581.98 L268.20,579.79 L268.50,578.48 L268.70,577.29 L269.20,574.31 L269.70,571.34 L270.00,569.55 L270.20,568.43 L270.70,565.62 L271.20,562.81 L271.50,561.12 L271.70,560.34 L272.20,558.39 L272.70,556.44 L272.90,555.66 L273.20,557.42 L273.70,560.35 L274.00,562.11 L274.20,564.10 L274.70,569.06 L275.20,574.02 L275.40,576.00 L275.70,579.19 L276.20,584.50 L276.70,589.82 L276.80,590.88 L277.20,593.93 L277.70,597.75 L278.10,600.80 L278.20,600.80 L278.70,600.80 L279.20,600.80 L279.70,600.80 L280.20,600.80 L280.70,600.80 L281.20,600.80 L281.70,600.80 L282.20,600.80 L282.70,600.80 L283.20,600.80 L283.70,600.80 L284.20,600.80 L284.70,600.80 L285.20,600.80 L285.50,600.80 L285.70,600.55 L286.20,599.93 L286.70,599.31 L287.20,598.69 L287.50,598.32 L287.70,598.22 L288.20,597.96 L288.70,597.70 L289.20,597.44 L289.70,597.18 L289.90,597.08 L290.20,597.19 L290.70,597.36 L291.20,597.54 L291.70,597.72 L292.00,597.82 L292.20,598.02 L292.70,598.52 L293.20,599.01 L293.50,599.31 L293.70,599.51 L294.20,600.01 L294.70,600.50 L295.00,600.80 L295.20,600.80 L295.70,600.80 L296.20,600.80 L296.70,600.80 L297.20,600.80 L297.70,600.80 L298.20,600.80 L298.70,600.80 L299.20,600.80 L299.70,600.80 L300.20,600.80 L300.70,600.80 L301.20,600.80 L301.70,600.80 L302.20,600.80 L302.70,600.80 L303.20,600.80 L303.70,600.80 L304.20,600.80 L304.70,600.80 L305.20,600.80 L305.70,600.80 L306.20,600.80 L306.70,600.80 L307.20,600.80 L307.70,600.80 L308.20,600.80 L308.70,600.80 L308.70,600.80 Z" fill="#2a4a88" stroke="none" stroke-width="1" />
<path d="M260.20,600.80 L260.20,598.27 L260.70,597.60 L261.20,596.92 L261.70,596.25 L262.00,595.84 L262.20,595.44 L262.70,594.45 L263.20,593.46 L263.70,592.47 L264.20,591.48 L264.50,590.88 L264.70,590.45 L265.20,589.37 L265.70,588.29 L266.20,587.21 L266.70,586.14 L266.80,585.92 L267.20,584.17 L267.70,581.98 L268.20,579.79 L268.50,578.48 L268.70,577.29 L269.20,574.31 L269.70,571.34 L270.00,569.55 L270.20,568.43 L270.70,565.62 L271.20,562.81 L271.50,561.12 L271.70,560.48 L272.20,558.89 L272.70,557.29 L272.90,556.66 L273.20,558.41 L273.70,561.35 L274.00,563.10 L274.20,564.95 L274.70,569.55 L275.20,574.16 L275.40,576.00 L275.70,579.19 L276.20,584.50 L276.70,589.82 L276.80,590.88 L277.20,593.93 L277.70,597.75 L278.10,600.80 L278.20,600.80 L278.70,600.80 L279.20,600.80 L279.70,600.80 L280.20,600.80 L280.70,600.80 L281.20,600.80 L281.70,600.80 L282.20,600.80 L282.70,600.80 L283.20,600.80 L283.70,600.80 L284.20,600.80 L284.70,600.80 L285.20,600.80 L285.50,600.80 L285.70,600.80 L286.20,600.80 L286.70,600.80 L287.20,600.80 L287.50,600.80 L287.70,600.80 L288.20,600.80 L288.70,600.80 L289.20,600.80 L289.70,600.80 L289.90,600.80 L290.20,600.80 L290.70,600.80 L291.20,600.80 L291.70,600.80 L292.00,600.80 L292.20,600.80 L292.70,600.80 L293.20,600.80 L293.50,600.80 L293.70,600.80 L294.20,600.80 L294.70,600.80 L295.00,600.80 L295.20,600.80 L295.70,600.80 L296.20,600.80 L296.70,600.80 L297.20,600.80 L297.70,600.80 L298.20,600.80 L298.70,600.80 L299.20,600.80 L299.70,600.80 L300.20,600.80 L300.70,600.80 L301.20,600.80 L301.70,600.80 L302.20,600.80 L302.70,600.80 L303.20,600.80 L303.70,600.80 L304.20,600.80 L304.70,600.80 L305.20,600.80 L305.70,600.80 L306.20,600.80 L306.70,600.80 L307.20,600.80 L307.70,600.80 L308.20,600.80 L308.70,600.80 L308.70,600.80 Z" fill="#b6d8a0" stroke="none" stroke-width="1" />
<path d="M260.20,600.80 L260.20,598.27 L260.70,597.60 L261.20,596.92 L261.70,596.25 L262.00,595.84 L262.20,595.44 L262.70,594.45 L263.20,593.46 L263.70,592.47 L264.20,591.48 L264.50,590.88 L264.70,590.45 L265.20,589.37 L265.70,588.29 L266.20,587.21 L266.70,586.14 L266.80,585.92 L267.20,584.17 L267.70,581.98 L268.20,579.79 L268.50,578.48 L268.70,577.29 L269.20,574.31 L269.70,571.34 L270.00,569.55 L270.20,568.43 L270.70,565.62 L271.20,562.81 L271.50,561.12 L271.70,560.48 L272.20,558.89 L272.70,557.29 L272.90,556.66 L273.20,558.41 L273.70,561.35 L274.00,563.10 L274.20,564.95 L274.70,569.55 L275.20,574.16 L275.40,576.00 L275.70,579.19 L276.20,584.50 L276.70,589.82 L276.80,590.88 L277.20,593.93 L277.70,597.75 L278.10,600.80 L278.20,600.80 L278.70,600.80 L279.20,600.80 L279.70,600.80 L280.20,600.80 L280.70,600.80 L281.20,600.80 L281.70,600.80 L282.20,600.80 L282.70,600.80 L283.20,600.80 L283.70,600.80 L284.20,600.80 L284.70,600.80 L285.20,600.80 L285.50,600.80 L285.70,600.80 L286.20,600.80 L286.70,600.80 L287.20,600.80 L287.50,600.80 L287.70,600.80 L288.20,600.80 L288.70,600.80 L289.20,600.80 L289.70,600.80 L289.90,600.80 L290.20,600.80 L290.70,600.80 L291.20,600.80 L291.70,600.80 L292.00,600.80 L292.20,600.80 L292.70,600.80 L293.20,600.80 L293.50,600.80 L293.70,600.80 L294.20,600.80 L294.70,600.80 L295.00,600.80 L295.20,600.80 L295.70,600.80 L296.20,600.80 L296.70,600.80 L297.20,600.80 L297.70,600.80 L298.20,600.80 L298.70,600.80 L299.20,600.80 L299.70,600.80 L300.20,600.80 L300.70,600.80 L301.20,600.80 L301.70,600.80 L302.20,600.80 L302.70,600.80 L303.20,600.80 L303.70,600.80 L304.20,600.80 L304.70,600.80 L305.20,600.80 L305.70,600.80 L306.20,600.80 L306.70,600.80 L307.20,600.80 L307.70,600.80 L308.20,600.80 L308.70,600.80 L308.70,600.80 Z" fill="#3f6d4c" stroke="none" stroke-width="1" />
<path d="M260.20,598.27 L260.70,597.60 L261.20,596.92 L261.70,596.25 L262.00,595.84 L262.20,595.44 L262.70,594.45 L263.20,593.46 L263.70,592.47 L264.20,591.48 L264.50,590.88 L264.70,590.45 L265.20,589.37 L265.70,588.29 L266.20,587.21 L266.70,586.14 L266.80,585.92 L267.20,584.17 L267.70,581.98 L268.20,579.79 L268.50,578.48 L268.70,577.29 L269.20,574.31 L269.70,571.34 L270.00,569.55 L270.20,568.43 L270.70,565.62 L271.20,562.81 L271.50,561.12 L271.70,560.48 L272.20,558.89 L272.70,557.29 L272.90,556.66 L273.20,558.41 L273.70,561.35 L274.00,563.10 L274.20,564.95 L274.70,569.55 L275.20,574.16 L275.40,576.00 L275.70,579.19 L276.20,584.50 L276.70,589.82 L276.80,590.88 L277.20,593.93 L277.70,597.75 L278.10,600.80 L278.20,600.80 L278.70,600.80 L279.20,600.80 L279.70,600.80 L280.20,600.80 L280.70,600.80 L281.20,600.80 L281.70,600.80 L282.20,600.80 L282.70,600.80 L283.20,600.80 L283.70,600.80 L284.20,600.80 L284.70,600.80 L285.20,600.80 L285.50,600.80 L285.70,600.80 L286.20,600.80 L286.70,600.80 L287.20,600.80 L287.50,600.80 L287.70,600.80 L288.20,600.80 L288.70,600.80 L289.20,600.80 L289.70,600.80 L289.90,600.80 L290.20,600.80 L290.70,600.80 L291.20,600.80 L291.70,600.80 L292.00,600.80 L292.20,600.80 L292.70,600.80 L293.20,600.80 L293.50,600.80 L293.70,600.80 L294.20,600.80 L294.70,600.80 L295.00,600.80 L295.20,600.80 L295.70,600.80 L296.20,600.80 L296.70,600.80 L297.20,600.80 L297.70,600.80 L298.20,600.80 L298.70,600.80 L299.20,600.80 L299.70,600.80 L300.20,600.80 L300.70,600.80 L301.20,600.80 L301.70,600.80 L302.20,600.80 L302.70,600.80 L303.20,600.80 L303.70,600.80 L304.20,600.80 L304.70,600.80 L305.20,600.80 L305.70,600.80 L306.20,600.80 L306.70,600.80 L307.20,600.80 L307.70,600.80 L308.20,600.80 L308.70,600.80" fill="none" stroke="#6cb049" stroke-width="0.7" />
<rect x="259.70" y="551.20" width="49.70" height="49.60" fill="none" stroke="#111" stroke-width="1.25"/>
<line x1="257.70" y1="600.50" x2="259.70" y2="600.50" stroke="#000" stroke-width="0.8" />
<text x="252.80" y="603.07" font-size="6.5" text-anchor="end" fill="#000" stroke="#000" stroke-width="0.1" >0</text>
<line x1="258.60" y1="598.44" x2="259.70" y2="598.44" stroke="#000" stroke-width="0.45" />
<line x1="258.60" y1="596.08" x2="259.70" y2="596.08" stroke="#000" stroke-width="0.45" />
<line x1="258.60" y1="593.72" x2="259.70" y2="593.72" stroke="#000" stroke-width="0.45" />
<line x1="257.70" y1="591.50" x2="259.70" y2="591.50" stroke="#000" stroke-width="0.8" />
<text x="252.80" y="593.63" font-size="6.5" text-anchor="end" fill="#000" stroke="#000" stroke-width="0.1" >20</text>
<line x1="258.60" y1="589.00" x2="259.70" y2="589.00" stroke="#000" stroke-width="0.45" />
<line x1="258.60" y1="586.64" x2="259.70" y2="586.64" stroke="#000" stroke-width="0.45" />
<line x1="258.60" y1="584.28" x2="259.70" y2="584.28" stroke="#000" stroke-width="0.45" />
<line x1="257.70" y1="581.50" x2="259.70" y2="581.50" stroke="#000" stroke-width="0.8" />
<text x="252.80" y="584.19" font-size="6.5" text-anchor="end" fill="#000" stroke="#000" stroke-width="0.1" >40</text>
<line x1="258.60" y1="579.56" x2="259.70" y2="579.56" stroke="#000" stroke-width="0.45" />
<line x1="258.60" y1="577.20" x2="259.70" y2="577.20" stroke="#000" stroke-width="0.45" />
<line x1="258.60" y1="574.84" x2="259.70" y2="574.84" stroke="#000" stroke-width="0.45" />
<line x1="257.70" y1="572.50" x2="259.70" y2="572.50" stroke="#000" stroke-width="0.8" />
<text x="252.80" y="574.75" font-size="6.5" text-anchor="end" fill="#000" stroke="#000" stroke-width="0.1" >60</text>
<line x1="258.60" y1="570.12" x2="259.70" y2="570.12" stroke="#000" stroke-width="0.45" />
<line x1="258.60" y1="567.76" x2="259.70" y2="567.76" stroke="#000" stroke-width="0.45" />
<line x1="258.60" y1="565.40" x2="259.70" y2="565.40" stroke="#000" stroke-width="0.45" />
<line x1="257.70" y1="563.50" x2="259.70" y2="563.50" stroke="#000" stroke-width="0.8" />
<text x="252.80" y="565.31" font-size="6.5" text-anchor="end" fill="#000" stroke="#000" stroke-width="0.1" >80</text>
<line x1="258.60" y1="560.68" x2="259.70" y2="560.68" stroke="#000" stroke-width="0.45" />
<line x1="258.60" y1="558.32" x2="259.70" y2="558.32" stroke="#000" stroke-width="0.45" />
<line x1="258.60" y1="555.96" x2="259.70" y2="555.96" stroke="#000" stroke-width="0.45" />
<line x1="257.70" y1="553.50" x2="259.70" y2="553.50" stroke="#000" stroke-width="0.8" />
<text x="252.80" y="555.88" font-size="6.5" text-anchor="end" fill="#000" stroke="#000" stroke-width="0.1" >100</text>
<line x1="263.70" y1="600.80" x2="263.70" y2="602.80" stroke="#000" stroke-width="0.7" />
<line x1="266.71" y1="600.80" x2="266.71" y2="601.90" stroke="#000" stroke-width="0.45" />
<line x1="268.47" y1="600.80" x2="268.47" y2="601.90" stroke="#000" stroke-width="0.45" />
<line x1="269.72" y1="600.80" x2="269.72" y2="601.90" stroke="#000" stroke-width="0.45" />
<line x1="270.69" y1="600.80" x2="270.69" y2="601.90" stroke="#000" stroke-width="0.45" />
<line x1="271.48" y1="600.80" x2="271.48" y2="601.90" stroke="#000" stroke-width="0.45" />
<line x1="272.15" y1="600.80" x2="272.15" y2="601.90" stroke="#000" stroke-width="0.45" />
<line x1="272.73" y1="600.80" x2="272.73" y2="601.90" stroke="#000" stroke-width="0.45" />
<line x1="273.24" y1="600.80" x2="273.24" y2="601.90" stroke="#000" stroke-width="0.45" />
<line x1="273.70" y1="600.80" x2="273.70" y2="602.80" stroke="#000" stroke-width="0.7" />
<line x1="276.71" y1="600.80" x2="276.71" y2="601.90" stroke="#000" stroke-width="0.45" />
<line x1="278.47" y1="600.80" x2="278.47" y2="601.90" stroke="#000" stroke-width="0.45" />
<line x1="279.72" y1="600.80" x2="279.72" y2="601.90" stroke="#000" stroke-width="0.45" />
<line x1="280.69" y1="600.80" x2="280.69" y2="601.90" stroke="#000" stroke-width="0.45" />
<line x1="281.48" y1="600.80" x2="281.48" y2="601.90" stroke="#000" stroke-width="0.45" />
<line x1="282.15" y1="600.80" x2="282.15" y2="601.90" stroke="#000" stroke-width="0.45" />
<line x1="282.73" y1="600.80" x2="282.73" y2="601.90" stroke="#000" stroke-width="0.45" />
<line x1="283.24" y1="600.80" x2="283.24" y2="601.90" stroke="#000" stroke-width="0.45" />
<line x1="283.70" y1="600.80" x2="283.70" y2="602.80" stroke="#000" stroke-width="0.7" />
<line x1="286.71" y1="600.80" x2="286.71" y2="601.90" stroke="#000" stroke-width="0.45" />
<line x1="288.47" y1="600.80" x2="288.47" y2="601.90" stroke="#000" stroke-width="0.45" />
<line x1="289.72" y1="600.80" x2="289.72" y2="601.90" stroke="#000" stroke-width="0.45" />
<line x1="290.69" y1="600.80" x2="290.69" y2="601.90" stroke="#000" stroke-width="0.45" />
<line x1="291.48" y1="600.80" x2="291.48" y2="601.90" stroke="#000" stroke-width="0.45" />
<line x1="292.15" y1="600.80" x2="292.15" y2="601.90" stroke="#000" stroke-width="0.45" />
<line x1="292.73" y1="600.80" x2="292.73" y2="601.90" stroke="#000" stroke-width="0.45" />
<line x1="293.24" y1="600.80" x2="293.24" y2="601.90" stroke="#000" stroke-width="0.45" />
<line x1="293.70" y1="600.80" x2="293.70" y2="602.80" stroke="#000" stroke-width="0.7" />
<line x1="296.71" y1="600.80" x2="296.71" y2="601.90" stroke="#000" stroke-width="0.45" />
<line x1="298.47" y1="600.80" x2="298.47" y2="601.90" stroke="#000" stroke-width="0.45" />
<line x1="299.72" y1="600.80" x2="299.72" y2="601.90" stroke="#000" stroke-width="0.45" />
<line x1="300.69" y1="600.80" x2="300.69" y2="601.90" stroke="#000" stroke-width="0.45" />
<line x1="301.48" y1="600.80" x2="301.48" y2="601.90" stroke="#000" stroke-width="0.45" />
<line x1="302.15" y1="600.80" x2="302.15" y2="601.90" stroke="#000" stroke-width="0.45" />
<line x1="302.73" y1="600.80" x2="302.73" y2="601.90" stroke="#000" stroke-width="0.45" />
<line x1="303.24" y1="600.80" x2="303.24" y2="601.90" stroke="#000" stroke-width="0.45" />
<line x1="303.70" y1="600.80" x2="303.70" y2="602.80" stroke="#000" stroke-width="0.7" />
<line x1="306.71" y1="600.80" x2="306.71" y2="601.90" stroke="#000" stroke-width="0.45" />
<line x1="308.47" y1="600.80" x2="308.47" y2="601.90" stroke="#000" stroke-width="0.45" />
<text x="260.70" y="613.48" font-size="6.8" fill="#000" textLength="7.21" lengthAdjust="spacingAndGlyphs">10</text>
<text x="267.91" y="610.60" font-size="4.49" fill="#000">1</text>
<text x="270.44" y="613.48" font-size="6.8" fill="#000" textLength="7.21" lengthAdjust="spacingAndGlyphs">10</text>
<text x="277.65" y="610.60" font-size="4.49" fill="#000">2</text>
<text x="280.18" y="613.48" font-size="6.8" fill="#000" textLength="7.21" lengthAdjust="spacingAndGlyphs">10</text>
<text x="287.39" y="610.60" font-size="4.49" fill="#000">3</text>
<text x="289.92" y="613.48" font-size="6.8" fill="#000" textLength="7.21" lengthAdjust="spacingAndGlyphs">10</text>
<text x="297.13" y="610.60" font-size="4.49" fill="#000">4</text>
<text x="299.66" y="613.48" font-size="6.8" fill="#000" textLength="7.21" lengthAdjust="spacingAndGlyphs">10</text>
<text x="306.87" y="610.60" font-size="4.49" fill="#000">5</text>
<path d="M339.30,600.80 L339.30,598.14 L339.80,597.46 L340.30,596.79 L340.80,596.11 L341.00,595.84 L341.30,595.24 L341.80,594.25 L342.30,593.26 L342.80,592.27 L343.30,591.28 L343.50,590.88 L343.80,590.11 L344.30,588.82 L344.80,587.53 L345.30,586.24 L345.80,584.95 L346.00,584.43 L346.30,583.39 L346.80,581.65 L347.30,579.92 L347.80,578.18 L348.00,577.49 L348.30,576.15 L348.80,573.92 L349.30,571.68 L349.80,569.45 L350.00,568.56 L350.30,566.70 L350.80,563.60 L351.20,561.12 L351.30,560.77 L351.80,558.99 L351.90,558.64 L352.30,559.54 L352.80,560.67 L353.00,561.12 L353.30,563.60 L353.80,567.73 L354.30,571.87 L354.50,573.52 L354.80,576.95 L355.30,582.68 L355.80,588.40 L356.30,593.17 L356.80,597.94 L357.10,600.80 L357.30,600.80 L357.80,600.80 L358.30,600.80 L358.80,600.80 L359.30,600.80 L359.80,600.80 L360.30,600.80 L360.80,600.80 L361.30,600.80 L361.80,600.80 L362.30,600.80 L362.40,600.80 L362.80,599.56 L363.30,598.01 L363.80,596.46 L364.00,595.84 L364.30,593.86 L364.80,590.55 L365.30,587.24 L365.50,585.92 L365.80,582.94 L366.30,577.98 L366.50,576.00 L366.80,573.40 L367.30,569.06 L367.80,573.31 L368.00,575.01 L368.30,577.54 L368.80,581.75 L369.00,583.44 L369.30,584.93 L369.80,587.41 L370.30,589.89 L370.50,590.88 L370.80,591.87 L371.30,593.53 L371.80,595.18 L372.00,595.84 L372.30,596.34 L372.80,597.16 L373.30,597.99 L373.50,598.32 L373.80,598.71 L374.30,599.36 L374.80,600.02 L375.30,600.67 L375.40,600.80 L375.80,600.80 L376.30,600.80 L376.80,600.80 L377.30,600.80 L377.80,600.80 L378.30,600.80 L378.80,600.80 L379.30,600.80 L379.80,600.80 L380.30,600.80 L380.80,600.80 L381.30,600.80 L381.80,600.80 L382.30,600.80 L382.80,600.80 L383.30,600.80 L383.80,600.80 L384.30,600.80 L384.80,600.80 L385.30,600.80 L385.80,600.80 L386.30,600.80 L386.80,600.80 L387.30,600.80 L387.80,600.80 L387.80,600.80 Z" fill="#2a4a88" stroke="none" stroke-width="1" />
<path d="M339.30,600.80 L339.30,598.14 L339.80,597.46 L340.30,596.79 L340.80,596.11 L341.00,595.84 L341.30,595.24 L341.80,594.25 L342.30,593.26 L342.80,592.27 L343.30,591.28 L343.50,590.88 L343.80,590.11 L344.30,588.82 L344.80,587.53 L345.30,586.24 L345.80,584.95 L346.00,584.43 L346.30,583.39 L346.80,581.65 L347.30,579.92 L347.80,578.18 L348.00,577.49 L348.30,576.15 L348.80,573.92 L349.30,571.68 L349.80,569.45 L350.00,568.56 L350.30,566.70 L350.80,563.60 L351.20,561.12 L351.30,560.77 L351.80,558.99 L351.90,558.64 L352.30,559.54 L352.80,560.67 L353.00,561.12 L353.30,563.60 L353.80,567.73 L354.30,571.87 L354.50,573.52 L354.80,576.95 L355.30,582.68 L355.80,588.40 L356.30,593.17 L356.80,597.94 L357.10,600.80 L357.30,600.80 L357.80,600.80 L358.30,600.80 L358.80,600.80 L359.30,600.80 L359.80,600.80 L360.30,600.80 L360.80,600.80 L361.30,600.80 L361.80,600.80 L362.30,600.80 L362.40,600.80 L362.80,600.80 L363.30,600.80 L363.80,600.80 L364.00,600.80 L364.30,600.80 L364.80,600.80 L365.30,600.80 L365.50,600.80 L365.80,600.80 L366.30,600.80 L366.50,600.80 L366.80,600.80 L367.30,600.80 L367.80,600.80 L368.00,600.80 L368.30,600.80 L368.80,600.80 L369.00,600.80 L369.30,600.80 L369.80,600.80 L370.30,600.80 L370.50,600.80 L370.80,600.80 L371.30,600.80 L371.80,600.80 L372.00,600.80 L372.30,600.80 L372.80,600.80 L373.30,600.80 L373.50,600.80 L373.80,600.80 L374.30,600.80 L374.80,600.80 L375.30,600.80 L375.40,600.80 L375.80,600.80 L376.30,600.80 L376.80,600.80 L377.30,600.80 L377.80,600.80 L378.30,600.80 L378.80,600.80 L379.30,600.80 L379.80,600.80 L380.30,600.80 L380.80,600.80 L381.30,600.80 L381.80,600.80 L382.30,600.80 L382.80,600.80 L383.30,600.80 L383.80,600.80 L384.30,600.80 L384.80,600.80 L385.30,600.80 L385.80,600.80 L386.30,600.80 L386.80,600.80 L387.30,600.80 L387.80,600.80 L387.80,600.80 Z" fill="#b6d8a0" stroke="none" stroke-width="1" />
<path d="M339.30,600.80 L339.30,598.14 L339.80,597.46 L340.30,596.79 L340.80,596.11 L341.00,595.84 L341.30,595.24 L341.80,594.25 L342.30,593.26 L342.80,592.27 L343.30,591.28 L343.50,590.88 L343.80,590.11 L344.30,588.82 L344.80,587.53 L345.30,586.24 L345.80,584.95 L346.00,584.43 L346.30,583.39 L346.80,581.65 L347.30,579.92 L347.80,578.18 L348.00,577.49 L348.30,576.15 L348.80,573.92 L349.30,571.68 L349.80,569.45 L350.00,568.56 L350.30,566.70 L350.80,563.60 L351.20,561.12 L351.30,560.77 L351.80,558.99 L351.90,558.64 L352.30,559.54 L352.80,560.67 L353.00,561.12 L353.30,563.60 L353.80,567.73 L354.30,571.87 L354.50,573.52 L354.80,576.95 L355.30,582.68 L355.80,588.40 L356.30,593.17 L356.80,597.94 L357.10,600.80 L357.30,600.80 L357.80,600.80 L358.30,600.80 L358.80,600.80 L359.30,600.80 L359.80,600.80 L360.30,600.80 L360.80,600.80 L361.30,600.80 L361.80,600.80 L362.30,600.80 L362.40,600.80 L362.80,600.80 L363.30,600.80 L363.80,600.80 L364.00,600.80 L364.30,600.80 L364.80,600.80 L365.30,600.80 L365.50,600.80 L365.80,600.80 L366.30,600.80 L366.50,600.80 L366.80,600.80 L367.30,600.80 L367.80,600.80 L368.00,600.80 L368.30,600.80 L368.80,600.80 L369.00,600.80 L369.30,600.80 L369.80,600.80 L370.30,600.80 L370.50,600.80 L370.80,600.80 L371.30,600.80 L371.80,600.80 L372.00,600.80 L372.30,600.80 L372.80,600.80 L373.30,600.80 L373.50,600.80 L373.80,600.80 L374.30,600.80 L374.80,600.80 L375.30,600.80 L375.40,600.80 L375.80,600.80 L376.30,600.80 L376.80,600.80 L377.30,600.80 L377.80,600.80 L378.30,600.80 L378.80,600.80 L379.30,600.80 L379.80,600.80 L380.30,600.80 L380.80,600.80 L381.30,600.80 L381.80,600.80 L382.30,600.80 L382.80,600.80 L383.30,600.80 L383.80,600.80 L384.30,600.80 L384.80,600.80 L385.30,600.80 L385.80,600.80 L386.30,600.80 L386.80,600.80 L387.30,600.80 L387.80,600.80 L387.80,600.80 Z" fill="#3f6d4c" stroke="none" stroke-width="1" />
<path d="M339.30,598.14 L339.80,597.46 L340.30,596.79 L340.80,596.11 L341.00,595.84 L341.30,595.24 L341.80,594.25 L342.30,593.26 L342.80,592.27 L343.30,591.28 L343.50,590.88 L343.80,590.11 L344.30,588.82 L344.80,587.53 L345.30,586.24 L345.80,584.95 L346.00,584.43 L346.30,583.39 L346.80,581.65 L347.30,579.92 L347.80,578.18 L348.00,577.49 L348.30,576.15 L348.80,573.92 L349.30,571.68 L349.80,569.45 L350.00,568.56 L350.30,566.70 L350.80,563.60 L351.20,561.12 L351.30,560.77 L351.80,558.99 L351.90,558.64 L352.30,559.54 L352.80,560.67 L353.00,561.12 L353.30,563.60 L353.80,567.73 L354.30,571.87 L354.50,573.52 L354.80,576.95 L355.30,582.68 L355.80,588.40 L356.30,593.17 L356.80,597.94 L357.10,600.80 L357.30,600.80 L357.80,600.80 L358.30,600.80 L358.80,600.80 L359.30,600.80 L359.80,600.80 L360.30,600.80 L360.80,600.80 L361.30,600.80 L361.80,600.80 L362.30,600.80 L362.40,600.80 L362.80,600.80 L363.30,600.80 L363.80,600.80 L364.00,600.80 L364.30,600.80 L364.80,600.80 L365.30,600.80 L365.50,600.80 L365.80,600.80 L366.30,600.80 L366.50,600.80 L366.80,600.80 L367.30,600.80 L367.80,600.80 L368.00,600.80 L368.30,600.80 L368.80,600.80 L369.00,600.80 L369.30,600.80 L369.80,600.80 L370.30,600.80 L370.50,600.80 L370.80,600.80 L371.30,600.80 L371.80,600.80 L372.00,600.80 L372.30,600.80 L372.80,600.80 L373.30,600.80 L373.50,600.80 L373.80,600.80 L374.30,600.80 L374.80,600.80 L375.30,600.80 L375.40,600.80 L375.80,600.80 L376.30,600.80 L376.80,600.80 L377.30,600.80 L377.80,600.80 L378.30,600.80 L378.80,600.80 L379.30,600.80 L379.80,600.80 L380.30,600.80 L380.80,600.80 L381.30,600.80 L381.80,600.80 L382.30,600.80 L382.80,600.80 L383.30,600.80 L383.80,600.80 L384.30,600.80 L384.80,600.80 L385.30,600.80 L385.80,600.80 L386.30,600.80 L386.80,600.80 L387.30,600.80 L387.80,600.80" fill="none" stroke="#6cb049" stroke-width="0.7" />
<rect x="338.80" y="551.20" width="49.60" height="49.60" fill="none" stroke="#111" stroke-width="1.25"/>
<line x1="336.80" y1="600.50" x2="338.80" y2="600.50" stroke="#000" stroke-width="0.8" />
<text x="332.00" y="603.07" font-size="6.5" text-anchor="end" fill="#000" stroke="#000" stroke-width="0.1" >0</text>
<line x1="337.70" y1="598.44" x2="338.80" y2="598.44" stroke="#000" stroke-width="0.45" />
<line x1="337.70" y1="596.08" x2="338.80" y2="596.08" stroke="#000" stroke-width="0.45" />
<line x1="337.70" y1="593.72" x2="338.80" y2="593.72" stroke="#000" stroke-width="0.45" />
<line x1="336.80" y1="591.50" x2="338.80" y2="591.50" stroke="#000" stroke-width="0.8" />
<text x="332.00" y="593.63" font-size="6.5" text-anchor="end" fill="#000" stroke="#000" stroke-width="0.1" >20</text>
<line x1="337.70" y1="589.00" x2="338.80" y2="589.00" stroke="#000" stroke-width="0.45" />
<line x1="337.70" y1="586.64" x2="338.80" y2="586.64" stroke="#000" stroke-width="0.45" />
<line x1="337.70" y1="584.28" x2="338.80" y2="584.28" stroke="#000" stroke-width="0.45" />
<line x1="336.80" y1="581.50" x2="338.80" y2="581.50" stroke="#000" stroke-width="0.8" />
<text x="332.00" y="584.19" font-size="6.5" text-anchor="end" fill="#000" stroke="#000" stroke-width="0.1" >40</text>
<line x1="337.70" y1="579.56" x2="338.80" y2="579.56" stroke="#000" stroke-width="0.45" />
<line x1="337.70" y1="577.20" x2="338.80" y2="577.20" stroke="#000" stroke-width="0.45" />
<line x1="337.70" y1="574.84" x2="338.80" y2="574.84" stroke="#000" stroke-width="0.45" />
<line x1="336.80" y1="572.50" x2="338.80" y2="572.50" stroke="#000" stroke-width="0.8" />
<text x="332.00" y="574.75" font-size="6.5" text-anchor="end" fill="#000" stroke="#000" stroke-width="0.1" >60</text>
<line x1="337.70" y1="570.12" x2="338.80" y2="570.12" stroke="#000" stroke-width="0.45" />
<line x1="337.70" y1="567.76" x2="338.80" y2="567.76" stroke="#000" stroke-width="0.45" />
<line x1="337.70" y1="565.40" x2="338.80" y2="565.40" stroke="#000" stroke-width="0.45" />
<line x1="336.80" y1="563.50" x2="338.80" y2="563.50" stroke="#000" stroke-width="0.8" />
<text x="332.00" y="565.31" font-size="6.5" text-anchor="end" fill="#000" stroke="#000" stroke-width="0.1" >80</text>
<line x1="337.70" y1="560.68" x2="338.80" y2="560.68" stroke="#000" stroke-width="0.45" />
<line x1="337.70" y1="558.32" x2="338.80" y2="558.32" stroke="#000" stroke-width="0.45" />
<line x1="337.70" y1="555.96" x2="338.80" y2="555.96" stroke="#000" stroke-width="0.45" />
<line x1="336.80" y1="553.50" x2="338.80" y2="553.50" stroke="#000" stroke-width="0.8" />
<text x="332.00" y="555.88" font-size="6.5" text-anchor="end" fill="#000" stroke="#000" stroke-width="0.1" >100</text>
<line x1="342.80" y1="600.80" x2="342.80" y2="602.80" stroke="#000" stroke-width="0.7" />
<line x1="345.81" y1="600.80" x2="345.81" y2="601.90" stroke="#000" stroke-width="0.45" />
<line x1="347.57" y1="600.80" x2="347.57" y2="601.90" stroke="#000" stroke-width="0.45" />
<line x1="348.82" y1="600.80" x2="348.82" y2="601.90" stroke="#000" stroke-width="0.45" />
<line x1="349.79" y1="600.80" x2="349.79" y2="601.90" stroke="#000" stroke-width="0.45" />
<line x1="350.58" y1="600.80" x2="350.58" y2="601.90" stroke="#000" stroke-width="0.45" />
<line x1="351.25" y1="600.80" x2="351.25" y2="601.90" stroke="#000" stroke-width="0.45" />
<line x1="351.83" y1="600.80" x2="351.83" y2="601.90" stroke="#000" stroke-width="0.45" />
<line x1="352.34" y1="600.80" x2="352.34" y2="601.90" stroke="#000" stroke-width="0.45" />
<line x1="352.80" y1="600.80" x2="352.80" y2="602.80" stroke="#000" stroke-width="0.7" />
<line x1="355.81" y1="600.80" x2="355.81" y2="601.90" stroke="#000" stroke-width="0.45" />
<line x1="357.57" y1="600.80" x2="357.57" y2="601.90" stroke="#000" stroke-width="0.45" />
<line x1="358.82" y1="600.80" x2="358.82" y2="601.90" stroke="#000" stroke-width="0.45" />
<line x1="359.79" y1="600.80" x2="359.79" y2="601.90" stroke="#000" stroke-width="0.45" />
<line x1="360.58" y1="600.80" x2="360.58" y2="601.90" stroke="#000" stroke-width="0.45" />
<line x1="361.25" y1="600.80" x2="361.25" y2="601.90" stroke="#000" stroke-width="0.45" />
<line x1="361.83" y1="600.80" x2="361.83" y2="601.90" stroke="#000" stroke-width="0.45" />
<line x1="362.34" y1="600.80" x2="362.34" y2="601.90" stroke="#000" stroke-width="0.45" />
<line x1="362.80" y1="600.80" x2="362.80" y2="602.80" stroke="#000" stroke-width="0.7" />
<line x1="365.81" y1="600.80" x2="365.81" y2="601.90" stroke="#000" stroke-width="0.45" />
<line x1="367.57" y1="600.80" x2="367.57" y2="601.90" stroke="#000" stroke-width="0.45" />
<line x1="368.82" y1="600.80" x2="368.82" y2="601.90" stroke="#000" stroke-width="0.45" />
<line x1="369.79" y1="600.80" x2="369.79" y2="601.90" stroke="#000" stroke-width="0.45" />
<line x1="370.58" y1="600.80" x2="370.58" y2="601.90" stroke="#000" stroke-width="0.45" />
<line x1="371.25" y1="600.80" x2="371.25" y2="601.90" stroke="#000" stroke-width="0.45" />
<line x1="371.83" y1="600.80" x2="371.83" y2="601.90" stroke="#000" stroke-width="0.45" />
<line x1="372.34" y1="600.80" x2="372.34" y2="601.90" stroke="#000" stroke-width="0.45" />
<line x1="372.80" y1="600.80" x2="372.80" y2="602.80" stroke="#000" stroke-width="0.7" />
<line x1="375.81" y1="600.80" x2="375.81" y2="601.90" stroke="#000" stroke-width="0.45" />
<line x1="377.57" y1="600.80" x2="377.57" y2="601.90" stroke="#000" stroke-width="0.45" />
<line x1="378.82" y1="600.80" x2="378.82" y2="601.90" stroke="#000" stroke-width="0.45" />
<line x1="379.79" y1="600.80" x2="379.79" y2="601.90" stroke="#000" stroke-width="0.45" />
<line x1="380.58" y1="600.80" x2="380.58" y2="601.90" stroke="#000" stroke-width="0.45" />
<line x1="381.25" y1="600.80" x2="381.25" y2="601.90" stroke="#000" stroke-width="0.45" />
<line x1="381.83" y1="600.80" x2="381.83" y2="601.90" stroke="#000" stroke-width="0.45" />
<line x1="382.34" y1="600.80" x2="382.34" y2="601.90" stroke="#000" stroke-width="0.45" />
<line x1="382.80" y1="600.80" x2="382.80" y2="602.80" stroke="#000" stroke-width="0.7" />
<line x1="385.81" y1="600.80" x2="385.81" y2="601.90" stroke="#000" stroke-width="0.45" />
<line x1="387.57" y1="600.80" x2="387.57" y2="601.90" stroke="#000" stroke-width="0.45" />
<text x="339.80" y="613.48" font-size="6.8" fill="#000" textLength="7.19" lengthAdjust="spacingAndGlyphs">10</text>
<text x="346.99" y="610.60" font-size="4.49" fill="#000">1</text>
<text x="349.52" y="613.48" font-size="6.8" fill="#000" textLength="7.19" lengthAdjust="spacingAndGlyphs">10</text>
<text x="356.71" y="610.60" font-size="4.49" fill="#000">2</text>
<text x="359.24" y="613.48" font-size="6.8" fill="#000" textLength="7.19" lengthAdjust="spacingAndGlyphs">10</text>
<text x="366.43" y="610.60" font-size="4.49" fill="#000">3</text>
<text x="368.96" y="613.48" font-size="6.8" fill="#000" textLength="7.19" lengthAdjust="spacingAndGlyphs">10</text>
<text x="376.15" y="610.60" font-size="4.49" fill="#000">4</text>
<text x="378.68" y="613.48" font-size="6.8" fill="#000" textLength="7.19" lengthAdjust="spacingAndGlyphs">10</text>
<text x="385.87" y="610.60" font-size="4.49" fill="#000">5</text>
<text transform="translate(235.95 576.30) rotate(-90) scale(0.7753 1)" font-size="9.0" text-anchor="middle" fill="#231f20" stroke="#231f20" stroke-width="0.1">CD11a</text>
<path d="M260.20,678.90 L260.20,676.78 L260.70,676.00 L261.20,675.21 L261.70,674.42 L262.00,673.95 L262.20,673.47 L262.70,672.29 L263.20,671.10 L263.70,669.91 L264.20,668.72 L264.50,668.01 L264.70,667.45 L265.20,666.05 L265.70,664.65 L266.20,663.25 L266.70,661.85 L266.80,661.57 L267.20,659.83 L267.70,657.64 L268.20,655.46 L268.50,654.15 L268.70,653.23 L269.20,650.92 L269.70,648.61 L270.00,647.22 L270.20,646.49 L270.70,644.68 L271.00,643.59 L271.20,642.86 L271.50,641.77 L271.60,641.53 L271.70,641.28 L272.20,640.04 L272.50,639.30 L272.70,640.09 L273.20,642.07 L273.50,643.26 L273.70,645.32 L273.80,646.34 L274.20,650.46 L274.70,655.60 L274.80,656.62 L275.20,661.57 L275.70,667.76 L276.00,671.48 L276.20,672.56 L276.50,674.20 L276.70,675.29 L277.00,676.92 L277.20,676.92 L277.70,676.92 L278.20,676.92 L278.70,676.92 L279.00,676.92 L279.20,676.87 L279.70,676.73 L280.20,676.59 L280.70,676.45 L280.80,676.42 L281.20,676.51 L281.70,676.63 L282.20,676.74 L282.70,676.85 L283.00,676.92 L283.20,677.12 L283.70,677.61 L284.20,678.11 L284.70,678.60 L285.00,678.90 L285.20,678.90 L285.70,678.90 L286.20,678.90 L286.70,678.90 L287.20,678.90 L287.70,678.90 L288.20,678.90 L288.70,678.90 L289.20,678.90 L289.70,678.90 L290.20,678.90 L290.70,678.90 L291.20,678.90 L291.70,678.90 L292.20,678.90 L292.70,678.90 L293.20,678.90 L293.70,678.90 L294.20,678.90 L294.70,678.90 L295.20,678.90 L295.70,678.90 L296.20,678.90 L296.70,678.90 L297.20,678.90 L297.70,678.90 L298.20,678.90 L298.70,678.90 L299.20,678.90 L299.70,678.90 L300.20,678.90 L300.70,678.90 L301.20,678.90 L301.70,678.90 L302.20,678.90 L302.70,678.90 L303.20,678.90 L303.70,678.90 L304.20,678.90 L304.70,678.90 L305.20,678.90 L305.70,678.90 L306.20,678.90 L306.70,678.90 L307.20,678.90 L307.70,678.90 L308.20,678.90 L308.70,678.90 L308.70,678.90 Z" fill="#2a4a88" stroke="none" stroke-width="1" />
<path d="M260.20,678.90 L260.20,676.20 L260.70,675.30 L261.20,674.40 L261.70,673.50 L262.00,672.96 L262.20,672.45 L262.70,671.16 L263.20,669.87 L263.70,668.58 L264.20,667.30 L264.50,666.52 L264.70,665.97 L265.20,664.57 L265.70,663.17 L266.20,661.77 L266.70,660.37 L266.80,660.09 L267.20,658.46 L267.70,656.42 L268.20,654.38 L268.50,653.16 L268.70,652.10 L269.20,649.46 L269.70,646.82 L270.00,645.24 L270.20,644.05 L270.70,641.08 L271.00,639.30 L271.20,638.64 L271.50,637.65 L271.60,637.32 L271.70,637.81 L272.20,640.29 L272.50,641.77 L272.70,643.30 L273.20,647.11 L273.50,649.39 L273.70,650.91 L273.80,651.67 L274.20,655.92 L274.70,661.22 L274.80,662.28 L275.20,666.52 L275.70,671.28 L276.00,674.14 L276.20,676.04 L276.50,678.90 L276.70,678.90 L277.00,678.90 L277.20,678.90 L277.70,678.90 L278.20,678.90 L278.70,678.90 L279.00,678.90 L279.20,678.90 L279.70,678.90 L280.20,678.90 L280.70,678.90 L280.80,678.90 L281.20,678.90 L281.70,678.90 L282.20,678.90 L282.70,678.90 L283.00,678.90 L283.20,678.90 L283.70,678.90 L284.20,678.90 L284.70,678.90 L285.00,678.90 L285.20,678.90 L285.70,678.90 L286.20,678.90 L286.70,678.90 L287.20,678.90 L287.70,678.90 L288.20,678.90 L288.70,678.90 L289.20,678.90 L289.70,678.90 L290.20,678.90 L290.70,678.90 L291.20,678.90 L291.70,678.90 L292.20,678.90 L292.70,678.90 L293.20,678.90 L293.70,678.90 L294.20,678.90 L294.70,678.90 L295.20,678.90 L295.70,678.90 L296.20,678.90 L296.70,678.90 L297.20,678.90 L297.70,678.90 L298.20,678.90 L298.70,678.90 L299.20,678.90 L299.70,678.90 L300.20,678.90 L300.70,678.90 L301.20,678.90 L301.70,678.90 L302.20,678.90 L302.70,678.90 L303.20,678.90 L303.70,678.90 L304.20,678.90 L304.70,678.90 L305.20,678.90 L305.70,678.90 L306.20,678.90 L306.70,678.90 L307.20,678.90 L307.70,678.90 L308.20,678.90 L308.70,678.90 L308.70,678.90 Z" fill="#b6d8a0" stroke="none" stroke-width="1" />
<path d="M260.20,678.90 L260.20,676.78 L260.70,676.00 L261.20,675.21 L261.70,674.42 L262.00,673.95 L262.20,673.47 L262.70,672.29 L263.20,671.10 L263.70,669.91 L264.20,668.72 L264.50,668.01 L264.70,667.45 L265.20,666.05 L265.70,664.65 L266.20,663.25 L266.70,661.85 L266.80,661.57 L267.20,659.83 L267.70,657.64 L268.20,655.46 L268.50,654.15 L268.70,653.23 L269.20,650.92 L269.70,648.61 L270.00,647.22 L270.20,646.49 L270.70,644.68 L271.00,643.59 L271.20,642.86 L271.50,641.77 L271.60,641.53 L271.70,641.28 L272.20,640.29 L272.50,641.77 L272.70,643.30 L273.20,647.11 L273.50,649.39 L273.70,650.91 L273.80,651.67 L274.20,655.92 L274.70,661.22 L274.80,662.28 L275.20,666.52 L275.70,671.28 L276.00,674.14 L276.20,676.04 L276.50,678.90 L276.70,678.90 L277.00,678.90 L277.20,678.90 L277.70,678.90 L278.20,678.90 L278.70,678.90 L279.00,678.90 L279.20,678.90 L279.70,678.90 L280.20,678.90 L280.70,678.90 L280.80,678.90 L281.20,678.90 L281.70,678.90 L282.20,678.90 L282.70,678.90 L283.00,678.90 L283.20,678.90 L283.70,678.90 L284.20,678.90 L284.70,678.90 L285.00,678.90 L285.20,678.90 L285.70,678.90 L286.20,678.90 L286.70,678.90 L287.20,678.90 L287.70,678.90 L288.20,678.90 L288.70,678.90 L289.20,678.90 L289.70,678.90 L290.20,678.90 L290.70,678.90 L291.20,678.90 L291.70,678.90 L292.20,678.90 L292.70,678.90 L293.20,678.90 L293.70,678.90 L294.20,678.90 L294.70,678.90 L295.20,678.90 L295.70,678.90 L296.20,678.90 L296.70,678.90 L297.20,678.90 L297.70,678.90 L298.20,678.90 L298.70,678.90 L299.20,678.90 L299.70,678.90 L300.20,678.90 L300.70,678.90 L301.20,678.90 L301.70,678.90 L302.20,678.90 L302.70,678.90 L303.20,678.90 L303.70,678.90 L304.20,678.90 L304.70,678.90 L305.20,678.90 L305.70,678.90 L306.20,678.90 L306.70,678.90 L307.20,678.90 L307.70,678.90 L308.20,678.90 L308.70,678.90 L308.70,678.90 Z" fill="#3f6d4c" stroke="none" stroke-width="1" />
<path d="M260.20,676.20 L260.70,675.30 L261.20,674.40 L261.70,673.50 L262.00,672.96 L262.20,672.45 L262.70,671.16 L263.20,669.87 L263.70,668.58 L264.20,667.30 L264.50,666.52 L264.70,665.97 L265.20,664.57 L265.70,663.17 L266.20,661.77 L266.70,660.37 L266.80,660.09 L267.20,658.46 L267.70,656.42 L268.20,654.38 L268.50,653.16 L268.70,652.10 L269.20,649.46 L269.70,646.82 L270.00,645.24 L270.20,644.05 L270.70,641.08 L271.00,639.30 L271.20,638.64 L271.50,637.65 L271.60,637.32 L271.70,637.81 L272.20,640.29 L272.50,641.77 L272.70,643.30 L273.20,647.11 L273.50,649.39 L273.70,650.91 L273.80,651.67 L274.20,655.92 L274.70,661.22 L274.80,662.28 L275.20,666.52 L275.70,671.28 L276.00,674.14 L276.20,676.04 L276.50,678.90 L276.70,678.90 L277.00,678.90 L277.20,678.90 L277.70,678.90 L278.20,678.90 L278.70,678.90 L279.00,678.90 L279.20,678.90 L279.70,678.90 L280.20,678.90 L280.70,678.90 L280.80,678.90 L281.20,678.90 L281.70,678.90 L282.20,678.90 L282.70,678.90 L283.00,678.90 L283.20,678.90 L283.70,678.90 L284.20,678.90 L284.70,678.90 L285.00,678.90 L285.20,678.90 L285.70,678.90 L286.20,678.90 L286.70,678.90 L287.20,678.90 L287.70,678.90 L288.20,678.90 L288.70,678.90 L289.20,678.90 L289.70,678.90 L290.20,678.90 L290.70,678.90 L291.20,678.90 L291.70,678.90 L292.20,678.90 L292.70,678.90 L293.20,678.90 L293.70,678.90 L294.20,678.90 L294.70,678.90 L295.20,678.90 L295.70,678.90 L296.20,678.90 L296.70,678.90 L297.20,678.90 L297.70,678.90 L298.20,678.90 L298.70,678.90 L299.20,678.90 L299.70,678.90 L300.20,678.90 L300.70,678.90 L301.20,678.90 L301.70,678.90 L302.20,678.90 L302.70,678.90 L303.20,678.90 L303.70,678.90 L304.20,678.90 L304.70,678.90 L305.20,678.90 L305.70,678.90 L306.20,678.90 L306.70,678.90 L307.20,678.90 L307.70,678.90 L308.20,678.90 L308.70,678.90" fill="none" stroke="#6cb049" stroke-width="0.7" />
<rect x="259.70" y="629.40" width="49.70" height="49.50" fill="none" stroke="#111" stroke-width="1.25"/>
<line x1="257.70" y1="678.50" x2="259.70" y2="678.50" stroke="#000" stroke-width="0.8" />
<text x="252.80" y="681.17" font-size="6.5" text-anchor="end" fill="#000" stroke="#000" stroke-width="0.1" >0</text>
<line x1="258.60" y1="676.54" x2="259.70" y2="676.54" stroke="#000" stroke-width="0.45" />
<line x1="258.60" y1="674.19" x2="259.70" y2="674.19" stroke="#000" stroke-width="0.45" />
<line x1="258.60" y1="671.83" x2="259.70" y2="671.83" stroke="#000" stroke-width="0.45" />
<line x1="257.70" y1="669.50" x2="259.70" y2="669.50" stroke="#000" stroke-width="0.8" />
<text x="252.80" y="671.75" font-size="6.5" text-anchor="end" fill="#000" stroke="#000" stroke-width="0.1" >20</text>
<line x1="258.60" y1="667.12" x2="259.70" y2="667.12" stroke="#000" stroke-width="0.45" />
<line x1="258.60" y1="664.77" x2="259.70" y2="664.77" stroke="#000" stroke-width="0.45" />
<line x1="258.60" y1="662.41" x2="259.70" y2="662.41" stroke="#000" stroke-width="0.45" />
<line x1="257.70" y1="660.50" x2="259.70" y2="660.50" stroke="#000" stroke-width="0.8" />
<text x="252.80" y="662.33" font-size="6.5" text-anchor="end" fill="#000" stroke="#000" stroke-width="0.1" >40</text>
<line x1="258.60" y1="657.70" x2="259.70" y2="657.70" stroke="#000" stroke-width="0.45" />
<line x1="258.60" y1="655.35" x2="259.70" y2="655.35" stroke="#000" stroke-width="0.45" />
<line x1="258.60" y1="652.99" x2="259.70" y2="652.99" stroke="#000" stroke-width="0.45" />
<line x1="257.70" y1="650.50" x2="259.70" y2="650.50" stroke="#000" stroke-width="0.8" />
<text x="252.80" y="652.91" font-size="6.5" text-anchor="end" fill="#000" stroke="#000" stroke-width="0.1" >60</text>
<line x1="258.60" y1="648.28" x2="259.70" y2="648.28" stroke="#000" stroke-width="0.45" />
<line x1="258.60" y1="645.93" x2="259.70" y2="645.93" stroke="#000" stroke-width="0.45" />
<line x1="258.60" y1="643.57" x2="259.70" y2="643.57" stroke="#000" stroke-width="0.45" />
<line x1="257.70" y1="641.50" x2="259.70" y2="641.50" stroke="#000" stroke-width="0.8" />
<text x="252.80" y="643.49" font-size="6.5" text-anchor="end" fill="#000" stroke="#000" stroke-width="0.1" >80</text>
<line x1="258.60" y1="638.86" x2="259.70" y2="638.86" stroke="#000" stroke-width="0.45" />
<line x1="258.60" y1="636.51" x2="259.70" y2="636.51" stroke="#000" stroke-width="0.45" />
<line x1="258.60" y1="634.15" x2="259.70" y2="634.15" stroke="#000" stroke-width="0.45" />
<line x1="257.70" y1="631.50" x2="259.70" y2="631.50" stroke="#000" stroke-width="0.8" />
<text x="252.80" y="634.07" font-size="6.5" text-anchor="end" fill="#000" stroke="#000" stroke-width="0.1" >100</text>
<line x1="263.70" y1="678.90" x2="263.70" y2="680.90" stroke="#000" stroke-width="0.7" />
<line x1="266.71" y1="678.90" x2="266.71" y2="680.00" stroke="#000" stroke-width="0.45" />
<line x1="268.47" y1="678.90" x2="268.47" y2="680.00" stroke="#000" stroke-width="0.45" />
<line x1="269.72" y1="678.90" x2="269.72" y2="680.00" stroke="#000" stroke-width="0.45" />
<line x1="270.69" y1="678.90" x2="270.69" y2="680.00" stroke="#000" stroke-width="0.45" />
<line x1="271.48" y1="678.90" x2="271.48" y2="680.00" stroke="#000" stroke-width="0.45" />
<line x1="272.15" y1="678.90" x2="272.15" y2="680.00" stroke="#000" stroke-width="0.45" />
<line x1="272.73" y1="678.90" x2="272.73" y2="680.00" stroke="#000" stroke-width="0.45" />
<line x1="273.24" y1="678.90" x2="273.24" y2="680.00" stroke="#000" stroke-width="0.45" />
<line x1="273.70" y1="678.90" x2="273.70" y2="680.90" stroke="#000" stroke-width="0.7" />
<line x1="276.71" y1="678.90" x2="276.71" y2="680.00" stroke="#000" stroke-width="0.45" />
<line x1="278.47" y1="678.90" x2="278.47" y2="680.00" stroke="#000" stroke-width="0.45" />
<line x1="279.72" y1="678.90" x2="279.72" y2="680.00" stroke="#000" stroke-width="0.45" />
<line x1="280.69" y1="678.90" x2="280.69" y2="680.00" stroke="#000" stroke-width="0.45" />
<line x1="281.48" y1="678.90" x2="281.48" y2="680.00" stroke="#000" stroke-width="0.45" />
<line x1="282.15" y1="678.90" x2="282.15" y2="680.00" stroke="#000" stroke-width="0.45" />
<line x1="282.73" y1="678.90" x2="282.73" y2="680.00" stroke="#000" stroke-width="0.45" />
<line x1="283.24" y1="678.90" x2="283.24" y2="680.00" stroke="#000" stroke-width="0.45" />
<line x1="283.70" y1="678.90" x2="283.70" y2="680.90" stroke="#000" stroke-width="0.7" />
<line x1="286.71" y1="678.90" x2="286.71" y2="680.00" stroke="#000" stroke-width="0.45" />
<line x1="288.47" y1="678.90" x2="288.47" y2="680.00" stroke="#000" stroke-width="0.45" />
<line x1="289.72" y1="678.90" x2="289.72" y2="680.00" stroke="#000" stroke-width="0.45" />
<line x1="290.69" y1="678.90" x2="290.69" y2="680.00" stroke="#000" stroke-width="0.45" />
<line x1="291.48" y1="678.90" x2="291.48" y2="680.00" stroke="#000" stroke-width="0.45" />
<line x1="292.15" y1="678.90" x2="292.15" y2="680.00" stroke="#000" stroke-width="0.45" />
<line x1="292.73" y1="678.90" x2="292.73" y2="680.00" stroke="#000" stroke-width="0.45" />
<line x1="293.24" y1="678.90" x2="293.24" y2="680.00" stroke="#000" stroke-width="0.45" />
<line x1="293.70" y1="678.90" x2="293.70" y2="680.90" stroke="#000" stroke-width="0.7" />
<line x1="296.71" y1="678.90" x2="296.71" y2="680.00" stroke="#000" stroke-width="0.45" />
<line x1="298.47" y1="678.90" x2="298.47" y2="680.00" stroke="#000" stroke-width="0.45" />
<line x1="299.72" y1="678.90" x2="299.72" y2="680.00" stroke="#000" stroke-width="0.45" />
<line x1="300.69" y1="678.90" x2="300.69" y2="680.00" stroke="#000" stroke-width="0.45" />
<line x1="301.48" y1="678.90" x2="301.48" y2="680.00" stroke="#000" stroke-width="0.45" />
<line x1="302.15" y1="678.90" x2="302.15" y2="680.00" stroke="#000" stroke-width="0.45" />
<line x1="302.73" y1="678.90" x2="302.73" y2="680.00" stroke="#000" stroke-width="0.45" />
<line x1="303.24" y1="678.90" x2="303.24" y2="680.00" stroke="#000" stroke-width="0.45" />
<line x1="303.70" y1="678.90" x2="303.70" y2="680.90" stroke="#000" stroke-width="0.7" />
<line x1="306.71" y1="678.90" x2="306.71" y2="680.00" stroke="#000" stroke-width="0.45" />
<line x1="308.47" y1="678.90" x2="308.47" y2="680.00" stroke="#000" stroke-width="0.45" />
<text x="260.70" y="691.48" font-size="6.8" fill="#000" textLength="7.21" lengthAdjust="spacingAndGlyphs">10</text>
<text x="267.91" y="688.60" font-size="4.49" fill="#000">1</text>
<text x="270.44" y="691.48" font-size="6.8" fill="#000" textLength="7.21" lengthAdjust="spacingAndGlyphs">10</text>
<text x="277.65" y="688.60" font-size="4.49" fill="#000">2</text>
<text x="280.18" y="691.48" font-size="6.8" fill="#000" textLength="7.21" lengthAdjust="spacingAndGlyphs">10</text>
<text x="287.39" y="688.60" font-size="4.49" fill="#000">3</text>
<text x="289.92" y="691.48" font-size="6.8" fill="#000" textLength="7.21" lengthAdjust="spacingAndGlyphs">10</text>
<text x="297.13" y="688.60" font-size="4.49" fill="#000">4</text>
<text x="299.66" y="691.48" font-size="6.8" fill="#000" textLength="7.21" lengthAdjust="spacingAndGlyphs">10</text>
<text x="306.87" y="688.60" font-size="4.49" fill="#000">5</text>
<path d="M339.30,678.90 L339.30,676.85 L339.80,676.29 L340.30,675.73 L340.80,675.16 L341.00,674.94 L341.30,674.35 L341.80,673.36 L342.30,672.37 L342.80,671.38 L343.30,670.39 L343.50,669.99 L343.80,669.16 L344.30,667.77 L344.80,666.39 L345.30,665.00 L345.80,663.61 L346.00,663.06 L346.30,661.95 L346.80,660.09 L347.30,658.23 L347.80,656.38 L348.00,655.63 L348.30,654.52 L348.80,652.66 L349.30,650.81 L349.50,650.07 L349.80,648.95 L350.00,648.21 L350.30,646.72 L350.60,645.24 L350.80,644.25 L351.30,641.77 L351.40,641.28 L351.50,641.46 L351.80,642.00 L352.30,642.90 L352.50,643.26 L352.80,644.63 L353.30,646.92 L353.80,649.20 L354.30,654.36 L354.80,659.51 L354.90,660.54 L355.00,661.57 L355.30,663.36 L355.80,666.33 L356.30,669.30 L356.50,670.49 L356.80,669.99 L357.30,669.16 L357.80,668.34 L358.00,668.01 L358.30,666.72 L358.80,664.58 L359.30,662.43 L359.50,661.57 L359.80,660.61 L360.30,659.01 L360.80,657.41 L361.20,656.13 L361.30,656.43 L361.80,657.96 L362.30,659.48 L362.50,660.09 L362.80,662.15 L363.30,665.57 L363.80,669.00 L364.30,671.89 L364.80,674.77 L365.00,675.93 L365.30,677.20 L365.70,678.90 L365.80,678.90 L366.30,678.90 L366.80,678.90 L367.30,678.90 L367.80,678.90 L368.30,678.90 L368.80,678.90 L369.30,678.90 L369.80,678.90 L370.30,678.90 L370.80,678.90 L371.30,678.90 L371.80,678.90 L372.30,678.90 L372.80,678.90 L373.30,678.90 L373.80,678.90 L374.30,678.90 L374.80,678.90 L375.30,678.90 L375.80,678.90 L376.30,678.90 L376.80,678.90 L377.30,678.90 L377.80,678.90 L378.30,678.90 L378.80,678.90 L379.30,678.90 L379.80,678.90 L380.30,678.90 L380.80,678.90 L381.30,678.90 L381.80,678.90 L382.30,678.90 L382.80,678.90 L383.30,678.90 L383.80,678.90 L384.30,678.90 L384.80,678.90 L385.30,678.90 L385.80,678.90 L386.30,678.90 L386.80,678.90 L387.30,678.90 L387.80,678.90 L387.80,678.90 Z" fill="#2a4a88" stroke="none" stroke-width="1" />
<path d="M339.30,678.90 L339.30,676.02 L339.80,675.12 L340.30,674.22 L340.80,673.32 L341.00,672.96 L341.30,672.19 L341.80,670.90 L342.30,669.61 L342.80,668.33 L343.30,667.04 L343.50,666.52 L343.80,665.69 L344.30,664.29 L344.80,662.89 L345.30,661.49 L345.80,660.09 L346.00,659.25 L346.30,657.99 L346.80,655.88 L347.30,653.78 L347.80,651.67 L348.00,650.80 L348.30,649.49 L348.80,647.31 L349.30,645.12 L349.50,644.25 L349.80,642.76 L350.00,641.77 L350.30,640.29 L350.60,638.80 L350.80,639.46 L351.30,641.12 L351.40,641.44 L351.50,641.77 L351.80,643.49 L352.30,646.34 L352.50,647.49 L352.80,649.20 L353.30,654.15 L353.80,659.10 L354.30,668.10 L354.80,677.10 L354.90,678.90 L355.00,678.90 L355.30,678.90 L355.80,678.90 L356.30,678.90 L356.50,678.90 L356.80,678.90 L357.30,678.90 L357.80,678.90 L358.00,678.90 L358.30,678.90 L358.80,678.90 L359.30,678.90 L359.50,678.90 L359.80,678.90 L360.30,678.90 L360.80,678.90 L361.20,678.90 L361.30,678.90 L361.80,678.90 L362.30,678.90 L362.50,678.90 L362.80,678.90 L363.30,678.90 L363.80,678.90 L364.30,678.90 L364.80,678.90 L365.00,678.90 L365.30,678.90 L365.70,678.90 L365.80,678.90 L366.30,678.90 L366.80,678.90 L367.30,678.90 L367.80,678.90 L368.30,678.90 L368.80,678.90 L369.30,678.90 L369.80,678.90 L370.30,678.90 L370.80,678.90 L371.30,678.90 L371.80,678.90 L372.30,678.90 L372.80,678.90 L373.30,678.90 L373.80,678.90 L374.30,678.90 L374.80,678.90 L375.30,678.90 L375.80,678.90 L376.30,678.90 L376.80,678.90 L377.30,678.90 L377.80,678.90 L378.30,678.90 L378.80,678.90 L379.30,678.90 L379.80,678.90 L380.30,678.90 L380.80,678.90 L381.30,678.90 L381.80,678.90 L382.30,678.90 L382.80,678.90 L383.30,678.90 L383.80,678.90 L384.30,678.90 L384.80,678.90 L385.30,678.90 L385.80,678.90 L386.30,678.90 L386.80,678.90 L387.30,678.90 L387.80,678.90 L387.80,678.90 Z" fill="#b6d8a0" stroke="none" stroke-width="1" />
<path d="M339.30,678.90 L339.30,676.85 L339.80,676.29 L340.30,675.73 L340.80,675.16 L341.00,674.94 L341.30,674.35 L341.80,673.36 L342.30,672.37 L342.80,671.38 L343.30,670.39 L343.50,669.99 L343.80,669.16 L344.30,667.77 L344.80,666.39 L345.30,665.00 L345.80,663.61 L346.00,663.06 L346.30,661.95 L346.80,660.09 L347.30,658.23 L347.80,656.38 L348.00,655.63 L348.30,654.52 L348.80,652.66 L349.30,650.81 L349.50,650.07 L349.80,648.95 L350.00,648.21 L350.30,646.72 L350.60,645.24 L350.80,644.25 L351.30,641.77 L351.40,641.44 L351.50,641.77 L351.80,643.49 L352.30,646.34 L352.50,647.49 L352.80,649.20 L353.30,654.15 L353.80,659.10 L354.30,668.10 L354.80,677.10 L354.90,678.90 L355.00,678.90 L355.30,678.90 L355.80,678.90 L356.30,678.90 L356.50,678.90 L356.80,678.90 L357.30,678.90 L357.80,678.90 L358.00,678.90 L358.30,678.90 L358.80,678.90 L359.30,678.90 L359.50,678.90 L359.80,678.90 L360.30,678.90 L360.80,678.90 L361.20,678.90 L361.30,678.90 L361.80,678.90 L362.30,678.90 L362.50,678.90 L362.80,678.90 L363.30,678.90 L363.80,678.90 L364.30,678.90 L364.80,678.90 L365.00,678.90 L365.30,678.90 L365.70,678.90 L365.80,678.90 L366.30,678.90 L366.80,678.90 L367.30,678.90 L367.80,678.90 L368.30,678.90 L368.80,678.90 L369.30,678.90 L369.80,678.90 L370.30,678.90 L370.80,678.90 L371.30,678.90 L371.80,678.90 L372.30,678.90 L372.80,678.90 L373.30,678.90 L373.80,678.90 L374.30,678.90 L374.80,678.90 L375.30,678.90 L375.80,678.90 L376.30,678.90 L376.80,678.90 L377.30,678.90 L377.80,678.90 L378.30,678.90 L378.80,678.90 L379.30,678.90 L379.80,678.90 L380.30,678.90 L380.80,678.90 L381.30,678.90 L381.80,678.90 L382.30,678.90 L382.80,678.90 L383.30,678.90 L383.80,678.90 L384.30,678.90 L384.80,678.90 L385.30,678.90 L385.80,678.90 L386.30,678.90 L386.80,678.90 L387.30,678.90 L387.80,678.90 L387.80,678.90 Z" fill="#3f6d4c" stroke="none" stroke-width="1" />
<path d="M339.30,676.02 L339.80,675.12 L340.30,674.22 L340.80,673.32 L341.00,672.96 L341.30,672.19 L341.80,670.90 L342.30,669.61 L342.80,668.33 L343.30,667.04 L343.50,666.52 L343.80,665.69 L344.30,664.29 L344.80,662.89 L345.30,661.49 L345.80,660.09 L346.00,659.25 L346.30,657.99 L346.80,655.88 L347.30,653.78 L347.80,651.67 L348.00,650.80 L348.30,649.49 L348.80,647.31 L349.30,645.12 L349.50,644.25 L349.80,642.76 L350.00,641.77 L350.30,640.29 L350.60,638.80 L350.80,639.46 L351.30,641.12 L351.40,641.44 L351.50,641.77 L351.80,643.49 L352.30,646.34 L352.50,647.49 L352.80,649.20 L353.30,654.15 L353.80,659.10 L354.30,668.10 L354.80,677.10 L354.90,678.90 L355.00,678.90 L355.30,678.90 L355.80,678.90 L356.30,678.90 L356.50,678.90 L356.80,678.90 L357.30,678.90 L357.80,678.90 L358.00,678.90 L358.30,678.90 L358.80,678.90 L359.30,678.90 L359.50,678.90 L359.80,678.90 L360.30,678.90 L360.80,678.90 L361.20,678.90 L361.30,678.90 L361.80,678.90 L362.30,678.90 L362.50,678.90 L362.80,678.90 L363.30,678.90 L363.80,678.90 L364.30,678.90 L364.80,678.90 L365.00,678.90 L365.30,678.90 L365.70,678.90 L365.80,678.90 L366.30,678.90 L366.80,678.90 L367.30,678.90 L367.80,678.90 L368.30,678.90 L368.80,678.90 L369.30,678.90 L369.80,678.90 L370.30,678.90 L370.80,678.90 L371.30,678.90 L371.80,678.90 L372.30,678.90 L372.80,678.90 L373.30,678.90 L373.80,678.90 L374.30,678.90 L374.80,678.90 L375.30,678.90 L375.80,678.90 L376.30,678.90 L376.80,678.90 L377.30,678.90 L377.80,678.90 L378.30,678.90 L378.80,678.90 L379.30,678.90 L379.80,678.90 L380.30,678.90 L380.80,678.90 L381.30,678.90 L381.80,678.90 L382.30,678.90 L382.80,678.90 L383.30,678.90 L383.80,678.90 L384.30,678.90 L384.80,678.90 L385.30,678.90 L385.80,678.90 L386.30,678.90 L386.80,678.90 L387.30,678.90 L387.80,678.90" fill="none" stroke="#6cb049" stroke-width="0.7" />
<rect x="338.80" y="629.40" width="49.60" height="49.50" fill="none" stroke="#111" stroke-width="1.25"/>
<line x1="336.80" y1="678.50" x2="338.80" y2="678.50" stroke="#000" stroke-width="0.8" />
<text x="332.00" y="681.17" font-size="6.5" text-anchor="end" fill="#000" stroke="#000" stroke-width="0.1" >0</text>
<line x1="337.70" y1="676.54" x2="338.80" y2="676.54" stroke="#000" stroke-width="0.45" />
<line x1="337.70" y1="674.19" x2="338.80" y2="674.19" stroke="#000" stroke-width="0.45" />
<line x1="337.70" y1="671.83" x2="338.80" y2="671.83" stroke="#000" stroke-width="0.45" />
<line x1="336.80" y1="669.50" x2="338.80" y2="669.50" stroke="#000" stroke-width="0.8" />
<text x="332.00" y="671.75" font-size="6.5" text-anchor="end" fill="#000" stroke="#000" stroke-width="0.1" >20</text>
<line x1="337.70" y1="667.12" x2="338.80" y2="667.12" stroke="#000" stroke-width="0.45" />
<line x1="337.70" y1="664.77" x2="338.80" y2="664.77" stroke="#000" stroke-width="0.45" />
<line x1="337.70" y1="662.41" x2="338.80" y2="662.41" stroke="#000" stroke-width="0.45" />
<line x1="336.80" y1="660.50" x2="338.80" y2="660.50" stroke="#000" stroke-width="0.8" />
<text x="332.00" y="662.33" font-size="6.5" text-anchor="end" fill="#000" stroke="#000" stroke-width="0.1" >40</text>
<line x1="337.70" y1="657.70" x2="338.80" y2="657.70" stroke="#000" stroke-width="0.45" />
<line x1="337.70" y1="655.35" x2="338.80" y2="655.35" stroke="#000" stroke-width="0.45" />
<line x1="337.70" y1="652.99" x2="338.80" y2="652.99" stroke="#000" stroke-width="0.45" />
<line x1="336.80" y1="650.50" x2="338.80" y2="650.50" stroke="#000" stroke-width="0.8" />
<text x="332.00" y="652.91" font-size="6.5" text-anchor="end" fill="#000" stroke="#000" stroke-width="0.1" >60</text>
<line x1="337.70" y1="648.28" x2="338.80" y2="648.28" stroke="#000" stroke-width="0.45" />
<line x1="337.70" y1="645.93" x2="338.80" y2="645.93" stroke="#000" stroke-width="0.45" />
<line x1="337.70" y1="643.57" x2="338.80" y2="643.57" stroke="#000" stroke-width="0.45" />
<line x1="336.80" y1="641.50" x2="338.80" y2="641.50" stroke="#000" stroke-width="0.8" />
<text x="332.00" y="643.49" font-size="6.5" text-anchor="end" fill="#000" stroke="#000" stroke-width="0.1" >80</text>
<line x1="337.70" y1="638.86" x2="338.80" y2="638.86" stroke="#000" stroke-width="0.45" />
<line x1="337.70" y1="636.51" x2="338.80" y2="636.51" stroke="#000" stroke-width="0.45" />
<line x1="337.70" y1="634.15" x2="338.80" y2="634.15" stroke="#000" stroke-width="0.45" />
<line x1="336.80" y1="631.50" x2="338.80" y2="631.50" stroke="#000" stroke-width="0.8" />
<text x="332.00" y="634.07" font-size="6.5" text-anchor="end" fill="#000" stroke="#000" stroke-width="0.1" >100</text>
<line x1="342.80" y1="678.90" x2="342.80" y2="680.90" stroke="#000" stroke-width="0.7" />
<line x1="345.81" y1="678.90" x2="345.81" y2="680.00" stroke="#000" stroke-width="0.45" />
<line x1="347.57" y1="678.90" x2="347.57" y2="680.00" stroke="#000" stroke-width="0.45" />
<line x1="348.82" y1="678.90" x2="348.82" y2="680.00" stroke="#000" stroke-width="0.45" />
<line x1="349.79" y1="678.90" x2="349.79" y2="680.00" stroke="#000" stroke-width="0.45" />
<line x1="350.58" y1="678.90" x2="350.58" y2="680.00" stroke="#000" stroke-width="0.45" />
<line x1="351.25" y1="678.90" x2="351.25" y2="680.00" stroke="#000" stroke-width="0.45" />
<line x1="351.83" y1="678.90" x2="351.83" y2="680.00" stroke="#000" stroke-width="0.45" />
<line x1="352.34" y1="678.90" x2="352.34" y2="680.00" stroke="#000" stroke-width="0.45" />
<line x1="352.80" y1="678.90" x2="352.80" y2="680.90" stroke="#000" stroke-width="0.7" />
<line x1="355.81" y1="678.90" x2="355.81" y2="680.00" stroke="#000" stroke-width="0.45" />
<line x1="357.57" y1="678.90" x2="357.57" y2="680.00" stroke="#000" stroke-width="0.45" />
<line x1="358.82" y1="678.90" x2="358.82" y2="680.00" stroke="#000" stroke-width="0.45" />
<line x1="359.79" y1="678.90" x2="359.79" y2="680.00" stroke="#000" stroke-width="0.45" />
<line x1="360.58" y1="678.90" x2="360.58" y2="680.00" stroke="#000" stroke-width="0.45" />
<line x1="361.25" y1="678.90" x2="361.25" y2="680.00" stroke="#000" stroke-width="0.45" />
<line x1="361.83" y1="678.90" x2="361.83" y2="680.00" stroke="#000" stroke-width="0.45" />
<line x1="362.34" y1="678.90" x2="362.34" y2="680.00" stroke="#000" stroke-width="0.45" />
<line x1="362.80" y1="678.90" x2="362.80" y2="680.90" stroke="#000" stroke-width="0.7" />
<line x1="365.81" y1="678.90" x2="365.81" y2="680.00" stroke="#000" stroke-width="0.45" />
<line x1="367.57" y1="678.90" x2="367.57" y2="680.00" stroke="#000" stroke-width="0.45" />
<line x1="368.82" y1="678.90" x2="368.82" y2="680.00" stroke="#000" stroke-width="0.45" />
<line x1="369.79" y1="678.90" x2="369.79" y2="680.00" stroke="#000" stroke-width="0.45" />
<line x1="370.58" y1="678.90" x2="370.58" y2="680.00" stroke="#000" stroke-width="0.45" />
<line x1="371.25" y1="678.90" x2="371.25" y2="680.00" stroke="#000" stroke-width="0.45" />
<line x1="371.83" y1="678.90" x2="371.83" y2="680.00" stroke="#000" stroke-width="0.45" />
<line x1="372.34" y1="678.90" x2="372.34" y2="680.00" stroke="#000" stroke-width="0.45" />
<line x1="372.80" y1="678.90" x2="372.80" y2="680.90" stroke="#000" stroke-width="0.7" />
<line x1="375.81" y1="678.90" x2="375.81" y2="680.00" stroke="#000" stroke-width="0.45" />
<line x1="377.57" y1="678.90" x2="377.57" y2="680.00" stroke="#000" stroke-width="0.45" />
<line x1="378.82" y1="678.90" x2="378.82" y2="680.00" stroke="#000" stroke-width="0.45" />
<line x1="379.79" y1="678.90" x2="379.79" y2="680.00" stroke="#000" stroke-width="0.45" />
<line x1="380.58" y1="678.90" x2="380.58" y2="680.00" stroke="#000" stroke-width="0.45" />
<line x1="381.25" y1="678.90" x2="381.25" y2="680.00" stroke="#000" stroke-width="0.45" />
<line x1="381.83" y1="678.90" x2="381.83" y2="680.00" stroke="#000" stroke-width="0.45" />
<line x1="382.34" y1="678.90" x2="382.34" y2="680.00" stroke="#000" stroke-width="0.45" />
<line x1="382.80" y1="678.90" x2="382.80" y2="680.90" stroke="#000" stroke-width="0.7" />
<line x1="385.81" y1="678.90" x2="385.81" y2="680.00" stroke="#000" stroke-width="0.45" />
<line x1="387.57" y1="678.90" x2="387.57" y2="680.00" stroke="#000" stroke-width="0.45" />
<text x="339.80" y="691.48" font-size="6.8" fill="#000" textLength="7.19" lengthAdjust="spacingAndGlyphs">10</text>
<text x="346.99" y="688.60" font-size="4.49" fill="#000">1</text>
<text x="349.52" y="691.48" font-size="6.8" fill="#000" textLength="7.19" lengthAdjust="spacingAndGlyphs">10</text>
<text x="356.71" y="688.60" font-size="4.49" fill="#000">2</text>
<text x="359.24" y="691.48" font-size="6.8" fill="#000" textLength="7.19" lengthAdjust="spacingAndGlyphs">10</text>
<text x="366.43" y="688.60" font-size="4.49" fill="#000">3</text>
<text x="368.96" y="691.48" font-size="6.8" fill="#000" textLength="7.19" lengthAdjust="spacingAndGlyphs">10</text>
<text x="376.15" y="688.60" font-size="4.49" fill="#000">4</text>
<text x="378.68" y="691.48" font-size="6.8" fill="#000" textLength="7.19" lengthAdjust="spacingAndGlyphs">10</text>
<text x="385.87" y="688.60" font-size="4.49" fill="#000">5</text>
<text transform="translate(235.95 654.90) rotate(-90) scale(0.7606 1)" font-size="9.0" text-anchor="middle" fill="#231f20" stroke="#231f20" stroke-width="0.1">CD33</text>
<line x1="433.50" y1="467.70" x2="433.50" y2="521.90" stroke="#000" stroke-width="1.1" />
<line x1="433.10" y1="521.50" x2="512.20" y2="521.50" stroke="#000" stroke-width="1.1" />
<line x1="430.40" y1="521.50" x2="433.60" y2="521.50" stroke="#000" stroke-width="1.0" />
<text x="427.50" y="523.78" font-size="6.8" text-anchor="end" fill="#231f20" stroke="#231f20" stroke-width="0.1" >0</text>
<line x1="430.40" y1="511.50" x2="433.60" y2="511.50" stroke="#000" stroke-width="1.0" />
<text x="427.50" y="513.46" font-size="6.8" text-anchor="end" fill="#231f20" stroke="#231f20" stroke-width="0.1" >20</text>
<line x1="430.40" y1="500.50" x2="433.60" y2="500.50" stroke="#000" stroke-width="1.0" />
<text x="427.50" y="503.14" font-size="6.8" text-anchor="end" fill="#231f20" stroke="#231f20" stroke-width="0.1" >40</text>
<line x1="430.40" y1="490.50" x2="433.60" y2="490.50" stroke="#000" stroke-width="1.0" />
<text x="427.50" y="492.82" font-size="6.8" text-anchor="end" fill="#231f20" stroke="#231f20" stroke-width="0.1" >60</text>
<line x1="430.40" y1="480.50" x2="433.60" y2="480.50" stroke="#000" stroke-width="1.0" />
<text x="427.50" y="482.50" font-size="6.8" text-anchor="end" fill="#231f20" stroke="#231f20" stroke-width="0.1" >80</text>
<line x1="430.40" y1="469.50" x2="433.60" y2="469.50" stroke="#000" stroke-width="1.0" />
<text x="427.50" y="472.18" font-size="6.8" text-anchor="end" fill="#231f20" stroke="#231f20" stroke-width="0.1" >100</text>
<rect x="440.00" y="476.77" width="26.00" height="44.63" fill="#8c97c4" />
<line x1="453.50" y1="474.19" x2="453.50" y2="478.83" stroke="#111" stroke-width="0.9" />
<line x1="448.50" y1="474.50" x2="457.50" y2="474.50" stroke="#111" stroke-width="0.9" />
<line x1="448.50" y1="478.50" x2="457.50" y2="478.50" stroke="#111" stroke-width="0.9" />
<circle cx="452.50" cy="472.38" r="1.0" fill="#27468a"/>
<circle cx="453.00" cy="478.57" r="1.0" fill="#27468a"/>
<line x1="453.50" y1="521.40" x2="453.50" y2="524.20" stroke="#000" stroke-width="0.9" />
<rect x="479.00" y="499.99" width="26.00" height="21.41" fill="#a9cf8c" />
<line x1="492.50" y1="494.31" x2="492.50" y2="505.66" stroke="#111" stroke-width="0.9" />
<line x1="487.50" y1="494.50" x2="496.50" y2="494.50" stroke="#111" stroke-width="0.9" />
<line x1="487.50" y1="505.50" x2="496.50" y2="505.50" stroke="#111" stroke-width="0.9" />
<circle cx="492.00" cy="489.92" r="1.0" fill="#78bd4f"/>
<circle cx="491.00" cy="505.40" r="1.0" fill="#78bd4f"/>
<line x1="492.50" y1="521.40" x2="492.50" y2="524.20" stroke="#000" stroke-width="0.9" />
<line x1="453.20" y1="469.50" x2="492.30" y2="469.50" stroke="#222" stroke-width="0.9" />
<text x="473.00" y="469.03" font-size="5.8" text-anchor="middle" fill="#231f20" stroke="#231f20" stroke-width="0.1" >*</text>
<text transform="translate(453.00 533.71) scale(1.0090 1)" font-size="6.6" text-anchor="middle" fill="#231f20" stroke="#231f20" stroke-width="0.1" >shControl</text>
<text transform="translate(491.80 533.71) scale(0.9438 1)" font-size="6.6" text-anchor="middle" fill="#231f20" stroke="#231f20" stroke-width="0.1" >shENT1</text>
<text transform="translate(410.95 494.00) rotate(-90) scale(0.8049 1)" font-size="9.0" text-anchor="middle" fill="#231f20" stroke="#231f20" stroke-width="0.1">% of Band3<tspan font-size="5.2" dy="-3.0">+</tspan><tspan dy="3.0"> cells</tspan></text>
<line x1="433.50" y1="547.50" x2="433.50" y2="601.90" stroke="#000" stroke-width="1.1" />
<line x1="433.10" y1="601.50" x2="512.20" y2="601.50" stroke="#000" stroke-width="1.1" />
<line x1="430.40" y1="601.50" x2="433.60" y2="601.50" stroke="#000" stroke-width="1.0" />
<text x="427.50" y="603.78" font-size="6.8" text-anchor="end" fill="#231f20" stroke="#231f20" stroke-width="0.1" >0</text>
<line x1="430.40" y1="584.50" x2="433.60" y2="584.50" stroke="#000" stroke-width="1.0" />
<text x="427.50" y="586.55" font-size="6.8" text-anchor="end" fill="#231f20" stroke="#231f20" stroke-width="0.1" >20</text>
<line x1="430.40" y1="566.50" x2="433.60" y2="566.50" stroke="#000" stroke-width="1.0" />
<text x="427.50" y="569.31" font-size="6.8" text-anchor="end" fill="#231f20" stroke="#231f20" stroke-width="0.1" >40</text>
<line x1="430.40" y1="549.50" x2="433.60" y2="549.50" stroke="#000" stroke-width="1.0" />
<text x="427.50" y="552.08" font-size="6.8" text-anchor="end" fill="#231f20" stroke="#231f20" stroke-width="0.1" >60</text>
<rect x="440.00" y="598.38" width="26.00" height="3.02" fill="#8c97c4" />
<line x1="453.50" y1="597.52" x2="453.50" y2="599.25" stroke="#111" stroke-width="0.9" />
<line x1="448.50" y1="597.50" x2="457.50" y2="597.50" stroke="#111" stroke-width="0.9" />
<line x1="448.50" y1="599.50" x2="457.50" y2="599.50" stroke="#111" stroke-width="0.9" />
<circle cx="453.00" cy="597.52" r="1.0" fill="#27468a"/>
<circle cx="454.00" cy="598.81" r="1.0" fill="#27468a"/>
<line x1="453.50" y1="601.40" x2="453.50" y2="604.20" stroke="#000" stroke-width="0.9" />
<rect x="479.00" y="583.13" width="26.00" height="18.27" fill="#a9cf8c" />
<line x1="492.50" y1="577.70" x2="492.50" y2="588.04" stroke="#111" stroke-width="0.9" />
<line x1="487.50" y1="577.50" x2="496.50" y2="577.50" stroke="#111" stroke-width="0.9" />
<line x1="487.50" y1="588.50" x2="496.50" y2="588.50" stroke="#111" stroke-width="0.9" />
<circle cx="492.00" cy="573.83" r="1.0" fill="#78bd4f"/>
<circle cx="492.00" cy="591.06" r="1.0" fill="#78bd4f"/>
<line x1="492.50" y1="601.40" x2="492.50" y2="604.20" stroke="#000" stroke-width="0.9" />
<line x1="453.20" y1="550.50" x2="492.30" y2="550.50" stroke="#222" stroke-width="0.9" />
<text x="473.00" y="550.13" font-size="5.8" text-anchor="middle" fill="#231f20" stroke="#231f20" stroke-width="0.1" >*</text>
<text transform="translate(453.00 613.11) scale(1.0090 1)" font-size="6.6" text-anchor="middle" fill="#231f20" stroke="#231f20" stroke-width="0.1" >shControl</text>
<text transform="translate(491.80 613.11) scale(0.9438 1)" font-size="6.6" text-anchor="middle" fill="#231f20" stroke="#231f20" stroke-width="0.1" >shENT1</text>
<text transform="translate(414.45 574.20) rotate(-90) scale(0.8124 1)" font-size="9.0" text-anchor="middle" fill="#231f20" stroke="#231f20" stroke-width="0.1">% of CD11a<tspan font-size="5.2" dy="-3.0">+</tspan><tspan dy="3.0"> cells</tspan></text>
<line x1="433.50" y1="626.40" x2="433.50" y2="680.50" stroke="#000" stroke-width="1.1" />
<line x1="433.10" y1="680.50" x2="512.20" y2="680.50" stroke="#000" stroke-width="1.1" />
<line x1="430.40" y1="680.50" x2="433.60" y2="680.50" stroke="#000" stroke-width="1.0" />
<text x="427.50" y="682.38" font-size="6.8" text-anchor="end" fill="#231f20" stroke="#231f20" stroke-width="0.1" >0</text>
<line x1="430.40" y1="662.50" x2="433.60" y2="662.50" stroke="#000" stroke-width="1.0" />
<text x="427.50" y="665.15" font-size="6.8" text-anchor="end" fill="#231f20" stroke="#231f20" stroke-width="0.1" >20</text>
<line x1="430.40" y1="645.50" x2="433.60" y2="645.50" stroke="#000" stroke-width="1.0" />
<text x="427.50" y="647.91" font-size="6.8" text-anchor="end" fill="#231f20" stroke="#231f20" stroke-width="0.1" >40</text>
<line x1="430.40" y1="628.50" x2="433.60" y2="628.50" stroke="#000" stroke-width="1.0" />
<text x="427.50" y="630.68" font-size="6.8" text-anchor="end" fill="#231f20" stroke="#231f20" stroke-width="0.1" >60</text>
<rect x="440.00" y="676.98" width="26.00" height="3.02" fill="#8c97c4" />
<line x1="453.50" y1="675.69" x2="453.50" y2="678.28" stroke="#111" stroke-width="0.9" />
<line x1="448.50" y1="675.50" x2="457.50" y2="675.50" stroke="#111" stroke-width="0.9" />
<line x1="448.50" y1="678.50" x2="457.50" y2="678.50" stroke="#111" stroke-width="0.9" />
<circle cx="453.00" cy="675.26" r="1.0" fill="#27468a"/>
<circle cx="454.00" cy="678.28" r="1.0" fill="#27468a"/>
<line x1="453.50" y1="680.00" x2="453.50" y2="682.80" stroke="#000" stroke-width="0.9" />
<rect x="479.00" y="658.46" width="26.00" height="21.54" fill="#a9cf8c" />
<line x1="492.50" y1="651.56" x2="492.50" y2="664.49" stroke="#111" stroke-width="0.9" />
<line x1="487.50" y1="651.50" x2="496.50" y2="651.50" stroke="#111" stroke-width="0.9" />
<line x1="487.50" y1="664.50" x2="496.50" y2="664.50" stroke="#111" stroke-width="0.9" />
<circle cx="492.00" cy="648.12" r="1.0" fill="#78bd4f"/>
<circle cx="492.00" cy="668.80" r="1.0" fill="#78bd4f"/>
<line x1="492.50" y1="680.00" x2="492.50" y2="682.80" stroke="#000" stroke-width="0.9" />
<line x1="453.20" y1="629.50" x2="492.30" y2="629.50" stroke="#222" stroke-width="0.9" />
<text x="473.00" y="629.23" font-size="5.8" text-anchor="middle" fill="#231f20" stroke="#231f20" stroke-width="0.1" >*</text>
<text transform="translate(453.00 692.51) scale(1.0090 1)" font-size="6.6" text-anchor="middle" fill="#231f20" stroke="#231f20" stroke-width="0.1" >shControl</text>
<text transform="translate(491.80 692.51) scale(0.9438 1)" font-size="6.6" text-anchor="middle" fill="#231f20" stroke="#231f20" stroke-width="0.1" >shENT1</text>
<text transform="translate(414.65 652.80) rotate(-90) scale(0.7889 1)" font-size="9.0" text-anchor="middle" fill="#231f20" stroke="#231f20" stroke-width="0.1">% of CD33<tspan font-size="5.2" dy="-3.0">+</tspan><tspan dy="3.0"> cells</tspan></text>
<rect x="0" y="0" width="520" height="1.1" fill="#000"/>
<rect x="0" y="0" width="1.1" height="703" fill="#000"/>
<rect x="518.9" y="0" width="1.1" height="703" fill="#000"/>
<rect x="0" y="701.5" width="520" height="1.5" fill="#000"/>
</svg>
</body></html>
